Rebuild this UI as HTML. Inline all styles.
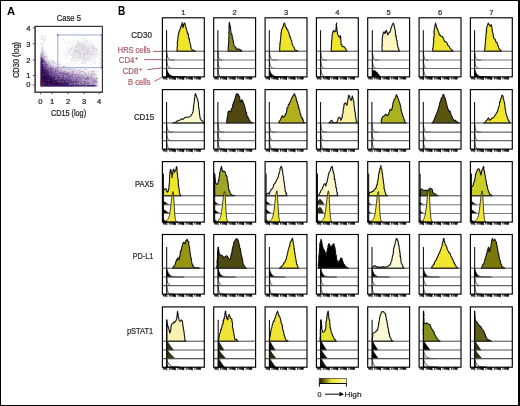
<!DOCTYPE html><html><head><meta charset="utf-8"><style>html,body{margin:0;padding:0;background:#fff;width:520px;height:406px;overflow:hidden;}svg{display:block;will-change:transform;font-family:"Liberation Sans",sans-serif;}</style></head><body><svg width="520" height="406" viewBox="0 0 520 406" font-family="Liberation Sans, sans-serif"><rect x="0" y="0" width="520" height="406" fill="#fff"/>
<text x="7" y="15.3" font-size="11.2" fill="#000" font-weight="bold" text-anchor="start" textLength="8.1" lengthAdjust="spacingAndGlyphs">A</text>
<text x="118.1" y="15.4" font-size="12.3" fill="#000" font-weight="bold" text-anchor="start" textLength="7.3" lengthAdjust="spacingAndGlyphs">B</text>
<text x="56.7" y="21" font-size="8.7" fill="#222" stroke="#222" stroke-width="0.22" font-weight="normal" text-anchor="start" textLength="24.2" lengthAdjust="spacingAndGlyphs">Case 5</text>
<rect x="35.1" y="26.4" width="67.3" height="65.8" fill="#fff" stroke="#333" stroke-width="1"/>
<defs><filter id="bl" x="-20%" y="-20%" width="140%" height="140%"><feGaussianBlur stdDeviation="1.3"/></filter><filter id="bl2" x="-20%" y="-20%" width="140%" height="140%"><feGaussianBlur stdDeviation="2.4"/></filter><clipPath id="sc"><rect x="40.4" y="30" width="58" height="56.6"/></clipPath></defs>
<g clip-path="url(#sc)">
<polygon points="40.7,44 43,52 46,58 51,62.5 58,66 68,69 82,71 97,72 99,87 40,87" fill="#dccfe2" filter="url(#bl2)"/>
<polygon points="40.7,52 43,58 46,62.5 51,66.5 58,70 68,73 82,75 96.5,76.5 97.5,87 40,87" fill="#8a6aa8" filter="url(#bl)"/>
<polygon points="40.7,52 42,58 44,63 46,67.5 50,71.5 56,75.5 64,78.5 74,81 86,83 95,85 95,87 40,87" fill="#4e2a78" filter="url(#bl)"/>
<polygon points="40.7,56 41.8,62 43.5,68 45.5,73 49,77 55,80.5 62,83 72,85 78,86 40,87" fill="#2e0a4e" filter="url(#bl)"/>
<defs><linearGradient id="fade" x1="0" x2="1" y1="0" y2="0"><stop offset="0" stop-color="#fff" stop-opacity="0"/><stop offset="0.45" stop-color="#fff" stop-opacity="0"/><stop offset="1" stop-color="#fff" stop-opacity="0.5"/></linearGradient></defs>
<rect x="41" y="60" width="58" height="25" fill="url(#fade)"/>
<rect x="41" y="85.2" width="55" height="1.3" fill="#3c1c66" opacity="0.85"/>
<rect x="40.6" y="80" width="2.6" height="6.4" fill="#701640" filter="url(#bl)" opacity="0.9"/>
<rect x="44.25" y="65.8" width="0.8" height="0.8" fill="#fff" opacity="0.4"/>
<rect x="64.77" y="78.9" width="0.8" height="0.8" fill="#fff" opacity="0.33"/>
<rect x="76.14" y="83.86" width="0.8" height="0.8" fill="#2a0a50" opacity="0.46"/>
<rect x="58.27" y="78.46" width="0.8" height="0.8" fill="#fff" opacity="0.45"/>
<rect x="44.34" y="53.44" width="0.8" height="0.8" fill="#2a0a50" opacity="0.24"/>
<rect x="58.59" y="69.01" width="0.8" height="0.8" fill="#2a0a50" opacity="0.21"/>
<rect x="85.49" y="73.66" width="0.8" height="0.8" fill="#2a0a50" opacity="0.26"/>
<rect x="70.41" y="80.88" width="0.8" height="0.8" fill="#2a0a50" opacity="0.42"/>
<rect x="64.41" y="76.04" width="0.8" height="0.8" fill="#fff" opacity="0.42"/>
<rect x="73.09" y="80.89" width="0.8" height="0.8" fill="#fff" opacity="0.49"/>
<rect x="74.28" y="68.78" width="0.8" height="0.8" fill="#2a0a50" opacity="0.32"/>
<rect x="80.28" y="71.53" width="0.8" height="0.8" fill="#2a0a50" opacity="0.31"/>
<rect x="66.15" y="67.53" width="0.8" height="0.8" fill="#2a0a50" opacity="0.31"/>
<rect x="90.51" y="84.27" width="0.8" height="0.8" fill="#fff" opacity="0.31"/>
<rect x="68.16" y="69.15" width="0.8" height="0.8" fill="#2a0a50" opacity="0.15"/>
<rect x="72.72" y="84.08" width="0.8" height="0.8" fill="#2a0a50" opacity="0.51"/>
<rect x="75.59" y="72.72" width="0.8" height="0.8" fill="#fff" opacity="0.56"/>
<rect x="84.68" y="80.86" width="0.8" height="0.8" fill="#2a0a50" opacity="0.46"/>
<rect x="44.77" y="53.56" width="0.8" height="0.8" fill="#fff" opacity="0.37"/>
<rect x="89.96" y="70.18" width="0.8" height="0.8" fill="#fff" opacity="0.34"/>
<rect x="47.88" y="79.81" width="0.8" height="0.8" fill="#fff" opacity="0.42"/>
<rect x="49.21" y="67.27" width="0.8" height="0.8" fill="#fff" opacity="0.43"/>
<rect x="95.8" y="80.4" width="0.8" height="0.8" fill="#2a0a50" opacity="0.4"/>
<rect x="53.49" y="78.27" width="0.8" height="0.8" fill="#2a0a50" opacity="0.64"/>
<rect x="86.14" y="78.55" width="0.8" height="0.8" fill="#2a0a50" opacity="0.39"/>
<rect x="79.78" y="84.22" width="0.8" height="0.8" fill="#fff" opacity="0.58"/>
<rect x="96.33" y="84.16" width="0.8" height="0.8" fill="#fff" opacity="0.33"/>
<rect x="52.44" y="70.59" width="0.8" height="0.8" fill="#2a0a50" opacity="0.64"/>
<rect x="67.85" y="71.77" width="0.8" height="0.8" fill="#2a0a50" opacity="0.17"/>
<rect x="77.99" y="82.3" width="0.8" height="0.8" fill="#2a0a50" opacity="0.6"/>
<rect x="85.85" y="84.84" width="0.8" height="0.8" fill="#fff" opacity="0.39"/>
<rect x="94.02" y="74.72" width="0.8" height="0.8" fill="#fff" opacity="0.29"/>
<rect x="49.19" y="78.89" width="0.8" height="0.8" fill="#2a0a50" opacity="0.44"/>
<rect x="70.49" y="83.28" width="0.8" height="0.8" fill="#fff" opacity="0.56"/>
<rect x="54.47" y="69.04" width="0.8" height="0.8" fill="#fff" opacity="0.4"/>
<rect x="66.66" y="68.92" width="0.8" height="0.8" fill="#2a0a50" opacity="0.23"/>
<rect x="42.05" y="63.05" width="0.8" height="0.8" fill="#fff" opacity="0.25"/>
<rect x="67.52" y="74.73" width="0.8" height="0.8" fill="#2a0a50" opacity="0.43"/>
<rect x="70.03" y="67.77" width="0.8" height="0.8" fill="#2a0a50" opacity="0.17"/>
<rect x="56.51" y="76.66" width="0.8" height="0.8" fill="#fff" opacity="0.45"/>
<rect x="83.56" y="82.41" width="0.8" height="0.8" fill="#fff" opacity="0.46"/>
<rect x="93.72" y="73.67" width="0.8" height="0.8" fill="#2a0a50" opacity="0.34"/>
<rect x="55.54" y="67.94" width="0.8" height="0.8" fill="#2a0a50" opacity="0.64"/>
<rect x="78.49" y="77.14" width="0.8" height="0.8" fill="#2a0a50" opacity="0.36"/>
<rect x="81.1" y="72.07" width="0.8" height="0.8" fill="#fff" opacity="0.56"/>
<rect x="50.04" y="62.69" width="0.8" height="0.8" fill="#2a0a50" opacity="0.22"/>
<rect x="42.01" y="58.59" width="0.8" height="0.8" fill="#2a0a50" opacity="0.5"/>
<rect x="48.26" y="62.31" width="0.8" height="0.8" fill="#2a0a50" opacity="0.63"/>
<rect x="59.99" y="67.68" width="0.8" height="0.8" fill="#2a0a50" opacity="0.2"/>
<rect x="48.24" y="66.6" width="0.8" height="0.8" fill="#fff" opacity="0.29"/>
<rect x="58.08" y="76.14" width="0.8" height="0.8" fill="#fff" opacity="0.43"/>
<rect x="50.96" y="59.23" width="0.8" height="0.8" fill="#fff" opacity="0.34"/>
<rect x="51.61" y="64.47" width="0.8" height="0.8" fill="#2a0a50" opacity="0.17"/>
<rect x="68.72" y="79.22" width="0.8" height="0.8" fill="#fff" opacity="0.43"/>
<rect x="79.51" y="85.28" width="0.8" height="0.8" fill="#fff" opacity="0.54"/>
<rect x="80.58" y="71.08" width="0.8" height="0.8" fill="#2a0a50" opacity="0.22"/>
<rect x="88.11" y="80.69" width="0.8" height="0.8" fill="#2a0a50" opacity="0.41"/>
<rect x="94.86" y="84.88" width="0.8" height="0.8" fill="#fff" opacity="0.34"/>
<rect x="42.26" y="57.47" width="0.8" height="0.8" fill="#fff" opacity="0.45"/>
<rect x="70.63" y="75.77" width="0.8" height="0.8" fill="#2a0a50" opacity="0.59"/>
<rect x="81.55" y="71.37" width="0.8" height="0.8" fill="#fff" opacity="0.54"/>
<rect x="90.95" y="70.72" width="0.8" height="0.8" fill="#2a0a50" opacity="0.31"/>
<rect x="48.8" y="66.47" width="0.8" height="0.8" fill="#fff" opacity="0.54"/>
<rect x="86.06" y="78.88" width="0.8" height="0.8" fill="#2a0a50" opacity="0.66"/>
<rect x="79.24" y="73.43" width="0.8" height="0.8" fill="#2a0a50" opacity="0.16"/>
<rect x="48.45" y="59.79" width="0.8" height="0.8" fill="#fff" opacity="0.54"/>
<rect x="72.28" y="70.74" width="0.8" height="0.8" fill="#2a0a50" opacity="0.29"/>
<rect x="85.67" y="75.68" width="0.8" height="0.8" fill="#fff" opacity="0.44"/>
<rect x="45.17" y="55.89" width="0.8" height="0.8" fill="#2a0a50" opacity="0.19"/>
<rect x="82.43" y="85.01" width="0.8" height="0.8" fill="#fff" opacity="0.38"/>
<rect x="67.82" y="73.03" width="0.8" height="0.8" fill="#2a0a50" opacity="0.55"/>
<rect x="44.4" y="56.02" width="0.8" height="0.8" fill="#2a0a50" opacity="0.29"/>
<rect x="95.78" y="83.39" width="0.8" height="0.8" fill="#fff" opacity="0.41"/>
<rect x="86.91" y="84.69" width="0.8" height="0.8" fill="#fff" opacity="0.34"/>
<rect x="70.35" y="84.06" width="0.8" height="0.8" fill="#fff" opacity="0.54"/>
<rect x="69.49" y="81.36" width="0.8" height="0.8" fill="#2a0a50" opacity="0.39"/>
<rect x="83.04" y="79.4" width="0.8" height="0.8" fill="#fff" opacity="0.57"/>
<rect x="80.93" y="81.96" width="0.8" height="0.8" fill="#fff" opacity="0.38"/>
<rect x="55.88" y="65.95" width="0.8" height="0.8" fill="#fff" opacity="0.38"/>
<rect x="94.55" y="81.25" width="0.8" height="0.8" fill="#2a0a50" opacity="0.55"/>
<rect x="92.15" y="83.57" width="0.8" height="0.8" fill="#fff" opacity="0.5"/>
<rect x="83.15" y="71.42" width="0.8" height="0.8" fill="#2a0a50" opacity="0.16"/>
<rect x="57.68" y="75.3" width="0.8" height="0.8" fill="#2a0a50" opacity="0.4"/>
<rect x="53.32" y="82.16" width="0.8" height="0.8" fill="#fff" opacity="0.3"/>
<rect x="72.9" y="81.38" width="0.8" height="0.8" fill="#2a0a50" opacity="0.47"/>
<rect x="64.18" y="66.49" width="0.8" height="0.8" fill="#2a0a50" opacity="0.22"/>
<rect x="44.48" y="56.38" width="0.8" height="0.8" fill="#2a0a50" opacity="0.18"/>
<rect x="69.19" y="70.81" width="0.8" height="0.8" fill="#2a0a50" opacity="0.19"/>
<rect x="94.42" y="79.8" width="0.8" height="0.8" fill="#2a0a50" opacity="0.31"/>
<rect x="42.81" y="74.09" width="0.8" height="0.8" fill="#fff" opacity="0.46"/>
<rect x="41.01" y="61.05" width="0.8" height="0.8" fill="#2a0a50" opacity="0.63"/>
<rect x="88.91" y="84.86" width="0.8" height="0.8" fill="#fff" opacity="0.29"/>
<rect x="49.65" y="66.42" width="0.8" height="0.8" fill="#2a0a50" opacity="0.68"/>
<rect x="81.42" y="71.54" width="0.8" height="0.8" fill="#2a0a50" opacity="0.24"/>
<rect x="92.52" y="71.47" width="0.8" height="0.8" fill="#2a0a50" opacity="0.18"/>
<rect x="55.1" y="71.09" width="0.8" height="0.8" fill="#2a0a50" opacity="0.34"/>
<rect x="44.94" y="66.5" width="0.8" height="0.8" fill="#2a0a50" opacity="0.46"/>
<rect x="53.52" y="69.64" width="0.8" height="0.8" fill="#fff" opacity="0.36"/>
<rect x="94.79" y="73.89" width="0.8" height="0.8" fill="#2a0a50" opacity="0.15"/>
<rect x="68.91" y="72.65" width="0.8" height="0.8" fill="#2a0a50" opacity="0.2"/>
<rect x="78.37" y="82.93" width="0.8" height="0.8" fill="#fff" opacity="0.26"/>
<rect x="85.64" y="75.3" width="0.8" height="0.8" fill="#fff" opacity="0.32"/>
<rect x="53.4" y="76.18" width="0.8" height="0.8" fill="#fff" opacity="0.58"/>
<rect x="53.51" y="62.1" width="0.8" height="0.8" fill="#2a0a50" opacity="0.34"/>
<rect x="49.2" y="61.13" width="0.8" height="0.8" fill="#2a0a50" opacity="0.34"/>
<rect x="44.37" y="61.13" width="0.8" height="0.8" fill="#2a0a50" opacity="0.65"/>
<rect x="82.03" y="85.9" width="0.8" height="0.8" fill="#fff" opacity="0.31"/>
<rect x="93.41" y="75.6" width="0.8" height="0.8" fill="#fff" opacity="0.48"/>
<rect x="41.16" y="56.47" width="0.8" height="0.8" fill="#fff" opacity="0.58"/>
<rect x="60.97" y="78.68" width="0.8" height="0.8" fill="#2a0a50" opacity="0.47"/>
<rect x="43.76" y="64.41" width="0.8" height="0.8" fill="#fff" opacity="0.57"/>
<rect x="51.81" y="59.93" width="0.8" height="0.8" fill="#2a0a50" opacity="0.16"/>
<rect x="64" y="78.28" width="0.8" height="0.8" fill="#2a0a50" opacity="0.32"/>
<rect x="82.85" y="81.84" width="0.8" height="0.8" fill="#fff" opacity="0.35"/>
<rect x="94.63" y="70.3" width="0.8" height="0.8" fill="#2a0a50" opacity="0.29"/>
<rect x="41.21" y="75.98" width="0.8" height="0.8" fill="#2a0a50" opacity="0.68"/>
<rect x="42.36" y="54.59" width="0.8" height="0.8" fill="#2a0a50" opacity="0.34"/>
<rect x="55.06" y="62.63" width="0.8" height="0.8" fill="#2a0a50" opacity="0.34"/>
<rect x="87.07" y="76.69" width="0.8" height="0.8" fill="#2a0a50" opacity="0.43"/>
<rect x="52.05" y="75.87" width="0.8" height="0.8" fill="#fff" opacity="0.27"/>
<rect x="95.89" y="81.22" width="0.8" height="0.8" fill="#2a0a50" opacity="0.41"/>
<rect x="68.91" y="74.1" width="0.8" height="0.8" fill="#fff" opacity="0.33"/>
<rect x="64.34" y="70.43" width="0.8" height="0.8" fill="#2a0a50" opacity="0.3"/>
<rect x="88.43" y="72.24" width="0.8" height="0.8" fill="#fff" opacity="0.54"/>
<rect x="57.45" y="68.24" width="0.8" height="0.8" fill="#2a0a50" opacity="0.3"/>
<rect x="53.96" y="78.15" width="0.8" height="0.8" fill="#2a0a50" opacity="0.7"/>
<rect x="46.73" y="64.47" width="0.8" height="0.8" fill="#2a0a50" opacity="0.64"/>
<rect x="55.56" y="76.89" width="0.8" height="0.8" fill="#2a0a50" opacity="0.34"/>
<rect x="74.38" y="70.42" width="0.8" height="0.8" fill="#2a0a50" opacity="0.22"/>
<rect x="55.28" y="69.58" width="0.8" height="0.8" fill="#2a0a50" opacity="0.38"/>
<rect x="41.64" y="58.42" width="0.8" height="0.8" fill="#2a0a50" opacity="0.37"/>
<rect x="63.14" y="67.56" width="0.8" height="0.8" fill="#2a0a50" opacity="0.17"/>
<rect x="50.17" y="73.51" width="0.8" height="0.8" fill="#fff" opacity="0.35"/>
<rect x="64.32" y="80.43" width="0.8" height="0.8" fill="#2a0a50" opacity="0.45"/>
<rect x="52.04" y="74.85" width="0.8" height="0.8" fill="#fff" opacity="0.25"/>
<rect x="71.89" y="71.27" width="0.8" height="0.8" fill="#2a0a50" opacity="0.17"/>
<rect x="56.86" y="66.37" width="0.8" height="0.8" fill="#2a0a50" opacity="0.17"/>
<rect x="68.47" y="78" width="0.8" height="0.8" fill="#2a0a50" opacity="0.38"/>
<rect x="48.09" y="83.67" width="0.8" height="0.8" fill="#fff" opacity="0.27"/>
<rect x="91.64" y="70.43" width="0.8" height="0.8" fill="#2a0a50" opacity="0.18"/>
<rect x="63.65" y="79.7" width="0.8" height="0.8" fill="#2a0a50" opacity="0.37"/>
<rect x="53.22" y="61.39" width="0.8" height="0.8" fill="#2a0a50" opacity="0.23"/>
<rect x="81.59" y="81.79" width="0.8" height="0.8" fill="#fff" opacity="0.45"/>
<rect x="64.52" y="68.89" width="0.8" height="0.8" fill="#2a0a50" opacity="0.28"/>
<rect x="54.17" y="76.31" width="0.8" height="0.8" fill="#2a0a50" opacity="0.48"/>
<rect x="51.06" y="64.4" width="0.8" height="0.8" fill="#fff" opacity="0.29"/>
<rect x="82.07" y="76.88" width="0.8" height="0.8" fill="#fff" opacity="0.27"/>
<rect x="94.57" y="82.56" width="0.8" height="0.8" fill="#fff" opacity="0.53"/>
<rect x="60.65" y="76" width="0.8" height="0.8" fill="#fff" opacity="0.56"/>
<rect x="56.4" y="78.44" width="0.8" height="0.8" fill="#fff" opacity="0.43"/>
<rect x="55.72" y="65.75" width="0.8" height="0.8" fill="#2a0a50" opacity="0.16"/>
<rect x="93.44" y="72.87" width="0.8" height="0.8" fill="#2a0a50" opacity="0.18"/>
<rect x="70.72" y="71.09" width="0.8" height="0.8" fill="#2a0a50" opacity="0.32"/>
<rect x="72.09" y="68.78" width="0.8" height="0.8" fill="#2a0a50" opacity="0.17"/>
<rect x="96.61" y="70.82" width="0.8" height="0.8" fill="#2a0a50" opacity="0.31"/>
<rect x="61.17" y="76.35" width="0.8" height="0.8" fill="#fff" opacity="0.31"/>
<rect x="49.36" y="70.26" width="0.8" height="0.8" fill="#fff" opacity="0.43"/>
<rect x="53.73" y="71.78" width="0.8" height="0.8" fill="#fff" opacity="0.25"/>
<rect x="73.68" y="69.15" width="0.8" height="0.8" fill="#2a0a50" opacity="0.27"/>
<rect x="76.74" y="80.72" width="0.8" height="0.8" fill="#2a0a50" opacity="0.46"/>
<rect x="60.62" y="71.47" width="0.8" height="0.8" fill="#fff" opacity="0.58"/>
<rect x="71.85" y="83.58" width="0.8" height="0.8" fill="#fff" opacity="0.32"/>
<rect x="76.93" y="78.35" width="0.8" height="0.8" fill="#fff" opacity="0.36"/>
<rect x="90.8" y="77.1" width="0.8" height="0.8" fill="#2a0a50" opacity="0.3"/>
<rect x="88.29" y="75.55" width="0.8" height="0.8" fill="#fff" opacity="0.51"/>
<rect x="43.17" y="58.76" width="0.8" height="0.8" fill="#2a0a50" opacity="0.58"/>
<rect x="88.34" y="74.18" width="0.8" height="0.8" fill="#2a0a50" opacity="0.26"/>
<rect x="65.42" y="77.33" width="0.8" height="0.8" fill="#fff" opacity="0.34"/>
<rect x="76.95" y="84.57" width="0.8" height="0.8" fill="#fff" opacity="0.56"/>
<rect x="41.85" y="55.68" width="0.8" height="0.8" fill="#fff" opacity="0.51"/>
<rect x="93.9" y="75.59" width="0.8" height="0.8" fill="#fff" opacity="0.56"/>
<rect x="91.82" y="70.86" width="0.8" height="0.8" fill="#2a0a50" opacity="0.28"/>
<rect x="88.02" y="73.6" width="0.8" height="0.8" fill="#2a0a50" opacity="0.24"/>
<rect x="42.51" y="49.37" width="0.8" height="0.8" fill="#2a0a50" opacity="0.22"/>
<rect x="80.03" y="75.21" width="0.8" height="0.8" fill="#fff" opacity="0.46"/>
<rect x="61.35" y="78.52" width="0.8" height="0.8" fill="#2a0a50" opacity="0.66"/>
<rect x="44.69" y="80.58" width="0.8" height="0.8" fill="#2a0a50" opacity="0.34"/>
<rect x="76.51" y="78.83" width="0.8" height="0.8" fill="#2a0a50" opacity="0.41"/>
<rect x="42.17" y="55.52" width="0.8" height="0.8" fill="#fff" opacity="0.5"/>
<rect x="88.68" y="70.35" width="0.8" height="0.8" fill="#fff" opacity="0.39"/>
<rect x="65.44" y="76.69" width="0.8" height="0.8" fill="#fff" opacity="0.5"/>
<rect x="41.07" y="53.28" width="0.8" height="0.8" fill="#2a0a50" opacity="0.69"/>
<rect x="53.02" y="73.68" width="0.8" height="0.8" fill="#fff" opacity="0.29"/>
<rect x="85.12" y="73.58" width="0.8" height="0.8" fill="#2a0a50" opacity="0.28"/>
<rect x="63.1" y="81.51" width="0.8" height="0.8" fill="#fff" opacity="0.56"/>
<rect x="42.41" y="53.45" width="0.8" height="0.8" fill="#2a0a50" opacity="0.33"/>
<rect x="66.81" y="66.79" width="0.8" height="0.8" fill="#2a0a50" opacity="0.3"/>
<rect x="88.21" y="72.15" width="0.8" height="0.8" fill="#2a0a50" opacity="0.18"/>
<rect x="65.57" y="76.71" width="0.8" height="0.8" fill="#2a0a50" opacity="0.35"/>
<rect x="66.87" y="81.29" width="0.8" height="0.8" fill="#fff" opacity="0.32"/>
<rect x="57.88" y="73.83" width="0.8" height="0.8" fill="#2a0a50" opacity="0.36"/>
<rect x="59.29" y="66.41" width="0.8" height="0.8" fill="#fff" opacity="0.36"/>
<rect x="51.99" y="71.16" width="0.8" height="0.8" fill="#fff" opacity="0.32"/>
<rect x="63.35" y="77.43" width="0.8" height="0.8" fill="#2a0a50" opacity="0.5"/>
<rect x="48.94" y="69.75" width="0.8" height="0.8" fill="#fff" opacity="0.51"/>
<rect x="73.14" y="75.71" width="0.8" height="0.8" fill="#fff" opacity="0.33"/>
<rect x="81.44" y="81.08" width="0.8" height="0.8" fill="#2a0a50" opacity="0.58"/>
<rect x="88.74" y="72.86" width="0.8" height="0.8" fill="#2a0a50" opacity="0.24"/>
<rect x="58.53" y="70.76" width="0.8" height="0.8" fill="#fff" opacity="0.4"/>
<rect x="84.81" y="74.24" width="0.8" height="0.8" fill="#2a0a50" opacity="0.2"/>
<rect x="78.81" y="83.14" width="0.8" height="0.8" fill="#fff" opacity="0.48"/>
<rect x="84.78" y="83.56" width="0.8" height="0.8" fill="#fff" opacity="0.29"/>
<rect x="76.8" y="78.99" width="0.8" height="0.8" fill="#fff" opacity="0.39"/>
<rect x="44.17" y="56.25" width="0.8" height="0.8" fill="#2a0a50" opacity="0.15"/>
<rect x="82.52" y="83.54" width="0.8" height="0.8" fill="#fff" opacity="0.33"/>
<rect x="84.49" y="78.19" width="0.8" height="0.8" fill="#2a0a50" opacity="0.49"/>
<rect x="76.77" y="78.57" width="0.8" height="0.8" fill="#2a0a50" opacity="0.49"/>
<rect x="57.48" y="67.48" width="0.8" height="0.8" fill="#fff" opacity="0.54"/>
<rect x="60.87" y="79.88" width="0.8" height="0.8" fill="#fff" opacity="0.38"/>
<rect x="55.2" y="62.47" width="0.8" height="0.8" fill="#fff" opacity="0.25"/>
<rect x="76.69" y="72.03" width="0.8" height="0.8" fill="#2a0a50" opacity="0.34"/>
<rect x="87.36" y="82.14" width="0.8" height="0.8" fill="#2a0a50" opacity="0.36"/>
<rect x="87.55" y="70.96" width="0.8" height="0.8" fill="#fff" opacity="0.25"/>
<rect x="94.3" y="71.89" width="0.8" height="0.8" fill="#2a0a50" opacity="0.17"/>
<rect x="84.75" y="72.41" width="0.8" height="0.8" fill="#2a0a50" opacity="0.31"/>
<rect x="48.8" y="65.22" width="0.8" height="0.8" fill="#fff" opacity="0.41"/>
<rect x="49.09" y="65.15" width="0.8" height="0.8" fill="#fff" opacity="0.44"/>
<rect x="72.5" y="72.28" width="0.8" height="0.8" fill="#2a0a50" opacity="0.22"/>
<rect x="76.67" y="71.08" width="0.8" height="0.8" fill="#fff" opacity="0.46"/>
<rect x="79.22" y="83.19" width="0.8" height="0.8" fill="#fff" opacity="0.59"/>
<rect x="81.22" y="70.64" width="0.8" height="0.8" fill="#2a0a50" opacity="0.32"/>
<rect x="70.43" y="76.59" width="0.8" height="0.8" fill="#fff" opacity="0.4"/>
<rect x="64.65" y="67.72" width="0.8" height="0.8" fill="#2a0a50" opacity="0.21"/>
<rect x="73.84" y="71.03" width="0.8" height="0.8" fill="#2a0a50" opacity="0.16"/>
<rect x="81.47" y="81.31" width="0.8" height="0.8" fill="#fff" opacity="0.27"/>
<rect x="77.85" y="77.35" width="0.8" height="0.8" fill="#2a0a50" opacity="0.54"/>
<rect x="75.54" y="70.7" width="0.8" height="0.8" fill="#2a0a50" opacity="0.27"/>
<rect x="84.37" y="82.48" width="0.8" height="0.8" fill="#2a0a50" opacity="0.45"/>
<rect x="87.07" y="77.25" width="0.8" height="0.8" fill="#2a0a50" opacity="0.4"/>
<rect x="76.94" y="83.29" width="0.8" height="0.8" fill="#fff" opacity="0.45"/>
<rect x="41.79" y="60.87" width="0.8" height="0.8" fill="#2a0a50" opacity="0.68"/>
<rect x="88.91" y="74.92" width="0.8" height="0.8" fill="#fff" opacity="0.47"/>
<rect x="95" y="74.41" width="0.8" height="0.8" fill="#fff" opacity="0.26"/>
<rect x="77.44" y="78.51" width="0.8" height="0.8" fill="#fff" opacity="0.36"/>
<rect x="44.35" y="60.07" width="0.8" height="0.8" fill="#2a0a50" opacity="0.48"/>
<rect x="77.11" y="70.82" width="0.8" height="0.8" fill="#2a0a50" opacity="0.23"/>
<rect x="85.03" y="83.74" width="0.8" height="0.8" fill="#2a0a50" opacity="0.53"/>
<rect x="95.54" y="73.83" width="0.8" height="0.8" fill="#2a0a50" opacity="0.22"/>
<rect x="74.93" y="85.08" width="0.8" height="0.8" fill="#2a0a50" opacity="0.54"/>
<rect x="79.35" y="69.67" width="0.8" height="0.8" fill="#2a0a50" opacity="0.31"/>
<rect x="55.73" y="62.32" width="0.8" height="0.8" fill="#2a0a50" opacity="0.31"/>
<rect x="87.66" y="78.28" width="0.8" height="0.8" fill="#2a0a50" opacity="0.53"/>
<rect x="56.34" y="79.9" width="0.8" height="0.8" fill="#2a0a50" opacity="0.57"/>
<rect x="45.76" y="67.7" width="0.8" height="0.8" fill="#2a0a50" opacity="0.38"/>
<rect x="83.01" y="83.2" width="0.8" height="0.8" fill="#fff" opacity="0.46"/>
<rect x="83.06" y="77.46" width="0.8" height="0.8" fill="#fff" opacity="0.28"/>
<rect x="86.17" y="76.66" width="0.8" height="0.8" fill="#fff" opacity="0.45"/>
<rect x="91.23" y="81.29" width="0.8" height="0.8" fill="#fff" opacity="0.42"/>
<rect x="46.94" y="70.94" width="0.8" height="0.8" fill="#2a0a50" opacity="0.36"/>
<rect x="42.88" y="85.61" width="0.8" height="0.8" fill="#fff" opacity="0.45"/>
<rect x="55.65" y="76.95" width="0.8" height="0.8" fill="#fff" opacity="0.58"/>
<rect x="83.97" y="78.57" width="0.8" height="0.8" fill="#2a0a50" opacity="0.4"/>
<rect x="43.12" y="53.24" width="0.8" height="0.8" fill="#fff" opacity="0.28"/>
<rect x="43.86" y="67.85" width="0.8" height="0.8" fill="#fff" opacity="0.58"/>
<rect x="72.61" y="71.27" width="0.8" height="0.8" fill="#2a0a50" opacity="0.28"/>
<rect x="49.94" y="84.6" width="0.8" height="0.8" fill="#fff" opacity="0.26"/>
<rect x="91.55" y="82.09" width="0.8" height="0.8" fill="#2a0a50" opacity="0.32"/>
<rect x="85.04" y="74.09" width="0.8" height="0.8" fill="#2a0a50" opacity="0.35"/>
<rect x="83.28" y="83.51" width="0.8" height="0.8" fill="#2a0a50" opacity="0.42"/>
<rect x="74.12" y="76.07" width="0.8" height="0.8" fill="#fff" opacity="0.36"/>
<rect x="93.3" y="80.54" width="0.8" height="0.8" fill="#2a0a50" opacity="0.36"/>
<rect x="93.01" y="79.53" width="0.8" height="0.8" fill="#2a0a50" opacity="0.48"/>
<rect x="60.03" y="78.75" width="0.8" height="0.8" fill="#fff" opacity="0.47"/>
<rect x="56.18" y="79.42" width="0.8" height="0.8" fill="#fff" opacity="0.31"/>
<rect x="91.12" y="72.4" width="0.8" height="0.8" fill="#2a0a50" opacity="0.25"/>
<rect x="52.29" y="59.94" width="0.8" height="0.8" fill="#2a0a50" opacity="0.35"/>
<rect x="51.41" y="62.85" width="0.8" height="0.8" fill="#2a0a50" opacity="0.19"/>
<rect x="51.09" y="76.59" width="0.8" height="0.8" fill="#2a0a50" opacity="0.38"/>
<rect x="75.3" y="74.02" width="0.8" height="0.8" fill="#2a0a50" opacity="0.53"/>
<rect x="88.15" y="80.44" width="0.8" height="0.8" fill="#fff" opacity="0.26"/>
<rect x="50.16" y="60.22" width="0.8" height="0.8" fill="#2a0a50" opacity="0.15"/>
<rect x="81.02" y="78.48" width="0.8" height="0.8" fill="#2a0a50" opacity="0.43"/>
<rect x="89.88" y="84.12" width="0.8" height="0.8" fill="#fff" opacity="0.43"/>
<rect x="55.03" y="78.5" width="0.8" height="0.8" fill="#fff" opacity="0.28"/>
<rect x="70.28" y="73.81" width="0.8" height="0.8" fill="#fff" opacity="0.55"/>
<rect x="47.89" y="65.24" width="0.8" height="0.8" fill="#fff" opacity="0.35"/>
<rect x="47.83" y="61.63" width="0.8" height="0.8" fill="#fff" opacity="0.46"/>
<rect x="73.08" y="75.61" width="0.8" height="0.8" fill="#fff" opacity="0.54"/>
<rect x="64.55" y="79.43" width="0.8" height="0.8" fill="#fff" opacity="0.39"/>
<rect x="93.71" y="76.85" width="0.8" height="0.8" fill="#fff" opacity="0.33"/>
<rect x="95.95" y="77.98" width="0.8" height="0.8" fill="#2a0a50" opacity="0.63"/>
<rect x="69.97" y="84.27" width="0.8" height="0.8" fill="#2a0a50" opacity="0.4"/>
<rect x="64.64" y="70.94" width="0.8" height="0.8" fill="#2a0a50" opacity="0.26"/>
<rect x="44.88" y="62.75" width="0.8" height="0.8" fill="#fff" opacity="0.26"/>
<rect x="93.47" y="70.96" width="0.8" height="0.8" fill="#2a0a50" opacity="0.33"/>
<rect x="71.37" y="82.9" width="0.8" height="0.8" fill="#2a0a50" opacity="0.4"/>
<rect x="58.1" y="71.55" width="0.8" height="0.8" fill="#fff" opacity="0.46"/>
<rect x="56.03" y="64.12" width="0.8" height="0.8" fill="#2a0a50" opacity="0.18"/>
<rect x="45.92" y="67.4" width="0.8" height="0.8" fill="#2a0a50" opacity="0.54"/>
<rect x="72.93" y="71.66" width="0.8" height="0.8" fill="#2a0a50" opacity="0.29"/>
<rect x="66.81" y="67.47" width="0.8" height="0.8" fill="#2a0a50" opacity="0.24"/>
<rect x="53.41" y="66.01" width="0.8" height="0.8" fill="#2a0a50" opacity="0.27"/>
<rect x="41.67" y="59.46" width="0.8" height="0.8" fill="#2a0a50" opacity="0.4"/>
<rect x="44.47" y="60.9" width="0.8" height="0.8" fill="#fff" opacity="0.51"/>
<rect x="94.72" y="75.28" width="0.8" height="0.8" fill="#fff" opacity="0.37"/>
<rect x="60.74" y="72.69" width="0.8" height="0.8" fill="#2a0a50" opacity="0.64"/>
<rect x="82.37" y="75.47" width="0.8" height="0.8" fill="#2a0a50" opacity="0.49"/>
<rect x="84.96" y="74.05" width="0.8" height="0.8" fill="#2a0a50" opacity="0.18"/>
<rect x="83.88" y="69.02" width="0.8" height="0.8" fill="#2a0a50" opacity="0.34"/>
<rect x="84.89" y="80.78" width="0.8" height="0.8" fill="#2a0a50" opacity="0.45"/>
<rect x="62.88" y="67.77" width="0.8" height="0.8" fill="#2a0a50" opacity="0.21"/>
<rect x="85.08" y="79.83" width="0.8" height="0.8" fill="#fff" opacity="0.41"/>
<rect x="49.12" y="68.59" width="0.8" height="0.8" fill="#2a0a50" opacity="0.34"/>
<rect x="88.23" y="79.36" width="0.8" height="0.8" fill="#2a0a50" opacity="0.38"/>
<rect x="64.88" y="82.33" width="0.8" height="0.8" fill="#fff" opacity="0.27"/>
<rect x="92.54" y="76.71" width="0.8" height="0.8" fill="#fff" opacity="0.6"/>
<rect x="61.03" y="69.38" width="0.8" height="0.8" fill="#2a0a50" opacity="0.34"/>
<rect x="46.54" y="60.35" width="0.8" height="0.8" fill="#fff" opacity="0.45"/>
<rect x="73.15" y="81.07" width="0.8" height="0.8" fill="#2a0a50" opacity="0.49"/>
<rect x="65.65" y="70.61" width="0.8" height="0.8" fill="#2a0a50" opacity="0.22"/>
<rect x="70.69" y="78.45" width="0.8" height="0.8" fill="#fff" opacity="0.36"/>
<rect x="95.79" y="78.87" width="0.8" height="0.8" fill="#fff" opacity="0.29"/>
<rect x="91.09" y="73.29" width="0.8" height="0.8" fill="#2a0a50" opacity="0.35"/>
<rect x="76.29" y="69.73" width="0.8" height="0.8" fill="#2a0a50" opacity="0.35"/>
<rect x="64.04" y="77.29" width="0.8" height="0.8" fill="#fff" opacity="0.49"/>
<rect x="41.22" y="57.48" width="0.8" height="0.8" fill="#2a0a50" opacity="0.53"/>
<rect x="68.88" y="67.68" width="0.8" height="0.8" fill="#2a0a50" opacity="0.28"/>
<rect x="70.26" y="78.75" width="0.8" height="0.8" fill="#2a0a50" opacity="0.62"/>
<rect x="43.46" y="83.16" width="0.8" height="0.8" fill="#fff" opacity="0.56"/>
<rect x="74.74" y="84.36" width="0.8" height="0.8" fill="#fff" opacity="0.58"/>
<rect x="58.31" y="80.89" width="0.8" height="0.8" fill="#fff" opacity="0.53"/>
<rect x="49.73" y="73.94" width="0.8" height="0.8" fill="#fff" opacity="0.34"/>
<rect x="65.83" y="79.29" width="0.8" height="0.8" fill="#2a0a50" opacity="0.36"/>
<rect x="60.76" y="74.62" width="0.8" height="0.8" fill="#fff" opacity="0.59"/>
<rect x="53.73" y="63.56" width="0.8" height="0.8" fill="#fff" opacity="0.5"/>
<rect x="69.73" y="67.25" width="0.8" height="0.8" fill="#2a0a50" opacity="0.3"/>
<rect x="62.55" y="71.96" width="0.8" height="0.8" fill="#2a0a50" opacity="0.42"/>
<rect x="44.69" y="57.76" width="0.8" height="0.8" fill="#2a0a50" opacity="0.18"/>
<rect x="63.59" y="82.27" width="0.8" height="0.8" fill="#2a0a50" opacity="0.65"/>
<rect x="79.06" y="72.21" width="0.8" height="0.8" fill="#2a0a50" opacity="0.23"/>
<rect x="77.91" y="73.67" width="0.8" height="0.8" fill="#2a0a50" opacity="0.32"/>
<rect x="60.72" y="70.78" width="0.8" height="0.8" fill="#fff" opacity="0.29"/>
<rect x="92.11" y="75.1" width="0.8" height="0.8" fill="#2a0a50" opacity="0.16"/>
<rect x="43.24" y="51.64" width="0.8" height="0.8" fill="#fff" opacity="0.36"/>
<rect x="58.41" y="71.17" width="0.8" height="0.8" fill="#fff" opacity="0.54"/>
<rect x="72.93" y="74.38" width="0.8" height="0.8" fill="#fff" opacity="0.4"/>
<rect x="88.83" y="69.9" width="0.8" height="0.8" fill="#fff" opacity="0.34"/>
<rect x="92.21" y="75.73" width="0.8" height="0.8" fill="#fff" opacity="0.49"/>
<rect x="63.04" y="75.65" width="0.8" height="0.8" fill="#2a0a50" opacity="0.41"/>
<rect x="93.09" y="73.36" width="0.8" height="0.8" fill="#2a0a50" opacity="0.32"/>
<rect x="69.67" y="83.05" width="0.8" height="0.8" fill="#fff" opacity="0.52"/>
<rect x="55.63" y="67.4" width="0.8" height="0.8" fill="#2a0a50" opacity="0.28"/>
<rect x="44.33" y="59.67" width="0.8" height="0.8" fill="#fff" opacity="0.32"/>
<rect x="80.59" y="72.48" width="0.8" height="0.8" fill="#2a0a50" opacity="0.2"/>
<rect x="57.76" y="81.27" width="0.8" height="0.8" fill="#fff" opacity="0.45"/>
<rect x="59.68" y="78.43" width="0.8" height="0.8" fill="#fff" opacity="0.52"/>
<rect x="50.48" y="72.33" width="0.8" height="0.8" fill="#2a0a50" opacity="0.48"/>
<rect x="83.9" y="79.08" width="0.8" height="0.8" fill="#fff" opacity="0.35"/>
<rect x="44.38" y="56.52" width="0.8" height="0.8" fill="#fff" opacity="0.5"/>
<rect x="59.17" y="64.22" width="0.8" height="0.8" fill="#2a0a50" opacity="0.18"/>
<rect x="96.56" y="75.77" width="0.8" height="0.8" fill="#fff" opacity="0.5"/>
<rect x="47.09" y="65.04" width="0.8" height="0.8" fill="#fff" opacity="0.32"/>
<rect x="92.5" y="71.42" width="0.8" height="0.8" fill="#2a0a50" opacity="0.34"/>
<rect x="76.73" y="79.67" width="0.8" height="0.8" fill="#2a0a50" opacity="0.37"/>
<rect x="84.94" y="79.05" width="0.8" height="0.8" fill="#2a0a50" opacity="0.43"/>
<rect x="61.64" y="67.6" width="0.8" height="0.8" fill="#2a0a50" opacity="0.32"/>
<rect x="72.74" y="70.76" width="0.8" height="0.8" fill="#2a0a50" opacity="0.29"/>
<rect x="91.69" y="83.74" width="0.8" height="0.8" fill="#fff" opacity="0.42"/>
<rect x="43.24" y="63.02" width="0.8" height="0.8" fill="#fff" opacity="0.5"/>
<rect x="41.16" y="79.47" width="0.8" height="0.8" fill="#2a0a50" opacity="0.47"/>
<rect x="56.86" y="72.13" width="0.8" height="0.8" fill="#fff" opacity="0.4"/>
<rect x="78.3" y="78.87" width="0.8" height="0.8" fill="#2a0a50" opacity="0.37"/>
<rect x="57.56" y="63.17" width="0.8" height="0.8" fill="#2a0a50" opacity="0.22"/>
<rect x="59.13" y="63.88" width="0.8" height="0.8" fill="#2a0a50" opacity="0.33"/>
<rect x="89.46" y="84.95" width="0.8" height="0.8" fill="#2a0a50" opacity="0.55"/>
<rect x="78.88" y="69.98" width="0.8" height="0.8" fill="#2a0a50" opacity="0.26"/>
<rect x="60.23" y="81.29" width="0.8" height="0.8" fill="#fff" opacity="0.32"/>
<rect x="70.68" y="68.16" width="0.8" height="0.8" fill="#2a0a50" opacity="0.17"/>
<rect x="46.32" y="66.76" width="0.8" height="0.8" fill="#fff" opacity="0.42"/>
<rect x="69.74" y="69.13" width="0.8" height="0.8" fill="#fff" opacity="0.39"/>
<rect x="45.11" y="63.02" width="0.8" height="0.8" fill="#2a0a50" opacity="0.52"/>
<rect x="81.02" y="76.03" width="0.8" height="0.8" fill="#fff" opacity="0.6"/>
<rect x="57.8" y="74" width="0.8" height="0.8" fill="#fff" opacity="0.56"/>
<rect x="75.79" y="80.76" width="0.8" height="0.8" fill="#2a0a50" opacity="0.67"/>
<rect x="83.76" y="72.9" width="0.8" height="0.8" fill="#2a0a50" opacity="0.17"/>
<rect x="61.89" y="75.23" width="0.8" height="0.8" fill="#2a0a50" opacity="0.59"/>
<rect x="71.73" y="77.92" width="0.8" height="0.8" fill="#fff" opacity="0.57"/>
<rect x="51.82" y="63.32" width="0.8" height="0.8" fill="#2a0a50" opacity="0.27"/>
<rect x="79.61" y="78.14" width="0.8" height="0.8" fill="#2a0a50" opacity="0.31"/>
<rect x="69.1" y="80.8" width="0.8" height="0.8" fill="#2a0a50" opacity="0.31"/>
<rect x="89.89" y="70.04" width="0.8" height="0.8" fill="#fff" opacity="0.37"/>
<rect x="43.44" y="51.96" width="0.8" height="0.8" fill="#2a0a50" opacity="0.24"/>
<rect x="42.15" y="63.84" width="0.8" height="0.8" fill="#2a0a50" opacity="0.32"/>
<rect x="49.17" y="72.51" width="0.8" height="0.8" fill="#fff" opacity="0.35"/>
<rect x="94.59" y="85.68" width="0.8" height="0.8" fill="#fff" opacity="0.45"/>
<rect x="84.17" y="80.77" width="0.8" height="0.8" fill="#2a0a50" opacity="0.55"/>
<rect x="56.77" y="77.61" width="0.8" height="0.8" fill="#2a0a50" opacity="0.68"/>
<rect x="83.75" y="75.32" width="0.8" height="0.8" fill="#fff" opacity="0.47"/>
<rect x="60.62" y="67.58" width="0.8" height="0.8" fill="#2a0a50" opacity="0.16"/>
<rect x="65.95" y="68.32" width="0.8" height="0.8" fill="#2a0a50" opacity="0.18"/>
<rect x="44.71" y="57.36" width="0.8" height="0.8" fill="#2a0a50" opacity="0.3"/>
<rect x="71.87" y="83.43" width="0.8" height="0.8" fill="#fff" opacity="0.57"/>
<rect x="51.01" y="68.8" width="0.8" height="0.8" fill="#2a0a50" opacity="0.44"/>
<rect x="68.13" y="81.86" width="0.8" height="0.8" fill="#fff" opacity="0.34"/>
<rect x="42.29" y="51.75" width="0.8" height="0.8" fill="#2a0a50" opacity="0.29"/>
<rect x="53.23" y="61.38" width="0.8" height="0.8" fill="#2a0a50" opacity="0.27"/>
<rect x="89.39" y="71.57" width="0.8" height="0.8" fill="#fff" opacity="0.51"/>
<rect x="94.94" y="69.64" width="0.8" height="0.8" fill="#fff" opacity="0.53"/>
<rect x="71.07" y="80.89" width="0.8" height="0.8" fill="#2a0a50" opacity="0.67"/>
<rect x="82.96" y="71.61" width="0.8" height="0.8" fill="#2a0a50" opacity="0.29"/>
<rect x="68.68" y="69.51" width="0.8" height="0.8" fill="#2a0a50" opacity="0.24"/>
<rect x="75.38" y="74.69" width="0.8" height="0.8" fill="#fff" opacity="0.28"/>
<rect x="71.17" y="69.13" width="0.8" height="0.8" fill="#2a0a50" opacity="0.28"/>
<rect x="80.84" y="76.3" width="0.8" height="0.8" fill="#2a0a50" opacity="0.42"/>
<rect x="84.27" y="85.07" width="0.8" height="0.8" fill="#fff" opacity="0.35"/>
<rect x="70.31" y="83.58" width="0.8" height="0.8" fill="#fff" opacity="0.25"/>
<rect x="67.64" y="71.87" width="0.8" height="0.8" fill="#2a0a50" opacity="0.22"/>
<rect x="42.57" y="50.5" width="0.8" height="0.8" fill="#fff" opacity="0.43"/>
<rect x="82.31" y="82.78" width="0.8" height="0.8" fill="#fff" opacity="0.26"/>
<rect x="92.47" y="83.74" width="0.8" height="0.8" fill="#2a0a50" opacity="0.39"/>
<rect x="52.38" y="76.13" width="0.8" height="0.8" fill="#2a0a50" opacity="0.42"/>
<rect x="89.33" y="80.64" width="0.8" height="0.8" fill="#fff" opacity="0.51"/>
<rect x="59.57" y="64.91" width="0.8" height="0.8" fill="#2a0a50" opacity="0.18"/>
<rect x="79.24" y="69.5" width="0.8" height="0.8" fill="#2a0a50" opacity="0.27"/>
<rect x="84.67" y="80.4" width="0.8" height="0.8" fill="#fff" opacity="0.55"/>
<rect x="42.37" y="49.57" width="0.8" height="0.8" fill="#2a0a50" opacity="0.15"/>
<rect x="50.45" y="72.99" width="0.8" height="0.8" fill="#fff" opacity="0.37"/>
<rect x="92.44" y="74.37" width="0.8" height="0.8" fill="#2a0a50" opacity="0.35"/>
<rect x="42.84" y="54.62" width="0.8" height="0.8" fill="#2a0a50" opacity="0.29"/>
<rect x="43.12" y="65.7" width="0.8" height="0.8" fill="#fff" opacity="0.4"/>
<rect x="47.29" y="59.5" width="0.8" height="0.8" fill="#2a0a50" opacity="0.33"/>
<rect x="95.18" y="81.21" width="0.8" height="0.8" fill="#2a0a50" opacity="0.41"/>
<rect x="71.46" y="67.5" width="0.8" height="0.8" fill="#2a0a50" opacity="0.35"/>
<rect x="89.95" y="74.43" width="0.8" height="0.8" fill="#2a0a50" opacity="0.21"/>
<rect x="75.04" y="82.98" width="0.8" height="0.8" fill="#fff" opacity="0.46"/>
<rect x="88.21" y="77.14" width="0.8" height="0.8" fill="#2a0a50" opacity="0.32"/>
<rect x="82.79" y="79.99" width="0.8" height="0.8" fill="#fff" opacity="0.46"/>
<rect x="76.25" y="75.48" width="0.8" height="0.8" fill="#fff" opacity="0.5"/>
<rect x="63.04" y="66.58" width="0.8" height="0.8" fill="#2a0a50" opacity="0.29"/>
<rect x="59.04" y="70.78" width="0.8" height="0.8" fill="#fff" opacity="0.33"/>
<rect x="76.87" y="78.93" width="0.8" height="0.8" fill="#2a0a50" opacity="0.65"/>
<rect x="43.42" y="60.63" width="0.8" height="0.8" fill="#2a0a50" opacity="0.63"/>
<rect x="60.97" y="77.93" width="0.8" height="0.8" fill="#fff" opacity="0.41"/>
<rect x="45.93" y="61.22" width="0.8" height="0.8" fill="#2a0a50" opacity="0.58"/>
<rect x="85.7" y="76.11" width="0.8" height="0.8" fill="#fff" opacity="0.49"/>
<rect x="61.55" y="66.35" width="0.8" height="0.8" fill="#2a0a50" opacity="0.22"/>
<rect x="41.99" y="53.23" width="0.8" height="0.8" fill="#2a0a50" opacity="0.16"/>
<rect x="50.99" y="74.45" width="0.8" height="0.8" fill="#fff" opacity="0.36"/>
<rect x="54.54" y="79.2" width="0.8" height="0.8" fill="#fff" opacity="0.47"/>
<rect x="64.7" y="77.48" width="0.8" height="0.8" fill="#2a0a50" opacity="0.45"/>
<rect x="43.46" y="63.14" width="0.8" height="0.8" fill="#fff" opacity="0.5"/>
<rect x="77.3" y="78.24" width="0.8" height="0.8" fill="#fff" opacity="0.38"/>
<rect x="73.41" y="82.92" width="0.8" height="0.8" fill="#fff" opacity="0.59"/>
<rect x="91.47" y="76.04" width="0.8" height="0.8" fill="#fff" opacity="0.46"/>
<rect x="67.52" y="81.5" width="0.8" height="0.8" fill="#fff" opacity="0.42"/>
<rect x="69.66" y="78.81" width="0.8" height="0.8" fill="#2a0a50" opacity="0.6"/>
<rect x="84.08" y="76.57" width="0.8" height="0.8" fill="#fff" opacity="0.33"/>
<rect x="59.72" y="66.25" width="0.8" height="0.8" fill="#fff" opacity="0.6"/>
<rect x="43.86" y="57.48" width="0.8" height="0.8" fill="#2a0a50" opacity="0.62"/>
<rect x="43.86" y="57.88" width="0.8" height="0.8" fill="#fff" opacity="0.39"/>
<rect x="56.32" y="77.64" width="0.8" height="0.8" fill="#fff" opacity="0.5"/>
<rect x="85.94" y="69.28" width="0.8" height="0.8" fill="#2a0a50" opacity="0.34"/>
<rect x="65.91" y="81" width="0.8" height="0.8" fill="#fff" opacity="0.4"/>
<rect x="78.74" y="72.67" width="0.8" height="0.8" fill="#2a0a50" opacity="0.19"/>
<rect x="84.92" y="83.99" width="0.8" height="0.8" fill="#fff" opacity="0.48"/>
<rect x="54.03" y="68.86" width="0.8" height="0.8" fill="#fff" opacity="0.45"/>
<rect x="85.76" y="85.18" width="0.8" height="0.8" fill="#fff" opacity="0.26"/>
<rect x="62.28" y="71.27" width="0.8" height="0.8" fill="#fff" opacity="0.44"/>
<rect x="46.24" y="64.04" width="0.8" height="0.8" fill="#2a0a50" opacity="0.47"/>
<rect x="92.71" y="85.84" width="0.8" height="0.8" fill="#2a0a50" opacity="0.51"/>
<rect x="68.15" y="80.42" width="0.8" height="0.8" fill="#2a0a50" opacity="0.52"/>
<rect x="74.53" y="84.66" width="0.8" height="0.8" fill="#fff" opacity="0.58"/>
<rect x="54.85" y="75.44" width="0.8" height="0.8" fill="#fff" opacity="0.53"/>
<rect x="71.89" y="77.31" width="0.8" height="0.8" fill="#2a0a50" opacity="0.48"/>
<rect x="61.98" y="72.19" width="0.8" height="0.8" fill="#fff" opacity="0.31"/>
<rect x="88.17" y="80.81" width="0.8" height="0.8" fill="#fff" opacity="0.3"/>
<rect x="68.78" y="66.98" width="0.8" height="0.8" fill="#fff" opacity="0.41"/>
<rect x="50.19" y="66.95" width="0.8" height="0.8" fill="#fff" opacity="0.38"/>
<rect x="52.07" y="61.55" width="0.8" height="0.8" fill="#2a0a50" opacity="0.18"/>
<rect x="63.02" y="66.24" width="0.8" height="0.8" fill="#2a0a50" opacity="0.33"/>
<rect x="45.72" y="68.72" width="0.8" height="0.8" fill="#fff" opacity="0.46"/>
<rect x="84.9" y="74.14" width="0.8" height="0.8" fill="#fff" opacity="0.34"/>
<rect x="75.62" y="73.37" width="0.8" height="0.8" fill="#2a0a50" opacity="0.22"/>
<rect x="54.71" y="75.08" width="0.8" height="0.8" fill="#2a0a50" opacity="0.36"/>
<rect x="59.54" y="85.02" width="0.8" height="0.8" fill="#2a0a50" opacity="0.49"/>
<rect x="68.85" y="76.95" width="0.8" height="0.8" fill="#2a0a50" opacity="0.6"/>
<rect x="76.01" y="79.67" width="0.8" height="0.8" fill="#2a0a50" opacity="0.34"/>
<rect x="87.39" y="83.42" width="0.8" height="0.8" fill="#2a0a50" opacity="0.6"/>
<rect x="87.62" y="77.89" width="0.8" height="0.8" fill="#2a0a50" opacity="0.47"/>
<rect x="87.21" y="77.16" width="0.8" height="0.8" fill="#2a0a50" opacity="0.42"/>
<rect x="95.23" y="77.29" width="0.8" height="0.8" fill="#fff" opacity="0.54"/>
<rect x="68.59" y="82.23" width="0.8" height="0.8" fill="#2a0a50" opacity="0.58"/>
<rect x="62.95" y="77.14" width="0.8" height="0.8" fill="#2a0a50" opacity="0.57"/>
<rect x="93.74" y="78.86" width="0.8" height="0.8" fill="#fff" opacity="0.28"/>
<rect x="77.54" y="79.29" width="0.8" height="0.8" fill="#fff" opacity="0.46"/>
<rect x="87.83" y="77.51" width="0.8" height="0.8" fill="#fff" opacity="0.42"/>
<rect x="41.92" y="49.53" width="0.8" height="0.8" fill="#2a0a50" opacity="0.23"/>
<rect x="60.81" y="79.63" width="0.8" height="0.8" fill="#2a0a50" opacity="0.42"/>
<rect x="45.93" y="56.11" width="0.8" height="0.8" fill="#2a0a50" opacity="0.24"/>
<rect x="78.02" y="78.09" width="0.8" height="0.8" fill="#fff" opacity="0.49"/>
<rect x="68.98" y="84.19" width="0.8" height="0.8" fill="#fff" opacity="0.6"/>
<rect x="71.95" y="80.35" width="0.8" height="0.8" fill="#fff" opacity="0.38"/>
<rect x="93" y="81.65" width="0.8" height="0.8" fill="#2a0a50" opacity="0.33"/>
<rect x="78.03" y="70.91" width="0.8" height="0.8" fill="#2a0a50" opacity="0.25"/>
<rect x="78.89" y="82.19" width="0.8" height="0.8" fill="#fff" opacity="0.38"/>
<rect x="87.75" y="73.02" width="0.8" height="0.8" fill="#2a0a50" opacity="0.24"/>
<rect x="83.06" y="81.54" width="0.8" height="0.8" fill="#2a0a50" opacity="0.6"/>
<rect x="42.97" y="58.33" width="0.8" height="0.8" fill="#fff" opacity="0.58"/>
<rect x="73.9" y="68.65" width="0.8" height="0.8" fill="#fff" opacity="0.39"/>
<rect x="82.85" y="71.3" width="0.8" height="0.8" fill="#2a0a50" opacity="0.3"/>
<rect x="57.31" y="67.32" width="0.8" height="0.8" fill="#2a0a50" opacity="0.35"/>
<rect x="77.33" y="78" width="0.8" height="0.8" fill="#2a0a50" opacity="0.45"/>
<rect x="94.93" y="74.1" width="0.8" height="0.8" fill="#2a0a50" opacity="0.21"/>
<rect x="50.06" y="68.58" width="0.8" height="0.8" fill="#2a0a50" opacity="0.62"/>
<rect x="69.9" y="80.97" width="0.8" height="0.8" fill="#fff" opacity="0.51"/>
<rect x="44" y="57.2" width="0.8" height="0.8" fill="#fff" opacity="0.59"/>
<rect x="47.07" y="55.67" width="0.8" height="0.8" fill="#2a0a50" opacity="0.23"/>
<rect x="87.88" y="71.12" width="0.8" height="0.8" fill="#2a0a50" opacity="0.21"/>
<rect x="72.29" y="72.49" width="0.8" height="0.8" fill="#2a0a50" opacity="0.21"/>
<rect x="61.31" y="82.62" width="0.8" height="0.8" fill="#fff" opacity="0.35"/>
<rect x="71.72" y="75.9" width="0.8" height="0.8" fill="#2a0a50" opacity="0.47"/>
<rect x="58.19" y="71.44" width="0.8" height="0.8" fill="#2a0a50" opacity="0.55"/>
<rect x="79.75" y="76.76" width="0.8" height="0.8" fill="#fff" opacity="0.58"/>
<rect x="62.98" y="78.04" width="0.8" height="0.8" fill="#fff" opacity="0.32"/>
<rect x="70.19" y="72.45" width="0.8" height="0.8" fill="#2a0a50" opacity="0.18"/>
<rect x="64.14" y="65.59" width="0.8" height="0.8" fill="#2a0a50" opacity="0.28"/>
<rect x="88.31" y="77.33" width="0.8" height="0.8" fill="#2a0a50" opacity="0.36"/>
<rect x="78.61" y="75.92" width="0.8" height="0.8" fill="#fff" opacity="0.56"/>
<rect x="91.33" y="75.46" width="0.8" height="0.8" fill="#2a0a50" opacity="0.56"/>
<rect x="80.43" y="73.85" width="0.8" height="0.8" fill="#2a0a50" opacity="0.21"/>
<rect x="78.86" y="84.97" width="0.8" height="0.8" fill="#2a0a50" opacity="0.44"/>
<rect x="65.96" y="67.75" width="0.8" height="0.8" fill="#2a0a50" opacity="0.16"/>
<rect x="53.57" y="70.81" width="0.8" height="0.8" fill="#fff" opacity="0.37"/>
<rect x="88.01" y="78.16" width="0.8" height="0.8" fill="#fff" opacity="0.26"/>
<rect x="69.68" y="69.14" width="0.8" height="0.8" fill="#2a0a50" opacity="0.32"/>
<rect x="96.76" y="77.97" width="0.8" height="0.8" fill="#2a0a50" opacity="0.43"/>
<rect x="66.42" y="72.99" width="0.8" height="0.8" fill="#2a0a50" opacity="0.48"/>
<rect x="51.88" y="75.18" width="0.8" height="0.8" fill="#fff" opacity="0.4"/>
<rect x="52.07" y="73.85" width="0.8" height="0.8" fill="#fff" opacity="0.34"/>
<rect x="72.37" y="73.75" width="0.8" height="0.8" fill="#2a0a50" opacity="0.6"/>
<rect x="94.11" y="82.72" width="0.8" height="0.8" fill="#2a0a50" opacity="0.59"/>
<rect x="44.51" y="53.43" width="0.8" height="0.8" fill="#fff" opacity="0.55"/>
<rect x="81.43" y="70.84" width="0.8" height="0.8" fill="#2a0a50" opacity="0.22"/>
<rect x="50.16" y="70.92" width="0.8" height="0.8" fill="#2a0a50" opacity="0.42"/>
<rect x="43.48" y="52.18" width="0.8" height="0.8" fill="#2a0a50" opacity="0.33"/>
<rect x="96.47" y="82.38" width="0.8" height="0.8" fill="#2a0a50" opacity="0.49"/>
<rect x="47.1" y="68.1" width="0.8" height="0.8" fill="#fff" opacity="0.32"/>
<rect x="91.9" y="74.12" width="0.8" height="0.8" fill="#2a0a50" opacity="0.35"/>
<rect x="65.46" y="75.03" width="0.8" height="0.8" fill="#fff" opacity="0.53"/>
<rect x="41.72" y="53.78" width="0.8" height="0.8" fill="#2a0a50" opacity="0.45"/>
<rect x="41.38" y="53.56" width="0.8" height="0.8" fill="rgb(214,209,229)" opacity="0.6"/>
<rect x="40.93" y="54.11" width="0.8" height="0.8" fill="rgb(200,195,215)" opacity="0.6"/>
<rect x="42.15" y="44.16" width="0.8" height="0.8" fill="rgb(220,215,235)" opacity="0.6"/>
<rect x="42.98" y="53.89" width="0.8" height="0.8" fill="rgb(180,175,195)" opacity="0.6"/>
<rect x="40.98" y="42.42" width="0.8" height="0.8" fill="rgb(186,181,201)" opacity="0.6"/>
<rect x="45.14" y="36.16" width="0.8" height="0.8" fill="rgb(188,183,203)" opacity="0.6"/>
<rect x="42.83" y="46.59" width="0.8" height="0.8" fill="rgb(220,215,235)" opacity="0.6"/>
<rect x="41.53" y="49.08" width="0.8" height="0.8" fill="rgb(208,203,223)" opacity="0.6"/>
<rect x="40.99" y="49.82" width="0.8" height="0.8" fill="rgb(210,205,225)" opacity="0.6"/>
<rect x="43.39" y="37.72" width="0.8" height="0.8" fill="rgb(195,190,210)" opacity="0.6"/>
<rect x="41.27" y="53.37" width="0.8" height="0.8" fill="rgb(218,213,233)" opacity="0.6"/>
<rect x="43" y="37.12" width="0.8" height="0.8" fill="rgb(211,206,226)" opacity="0.6"/>
<rect x="41.38" y="39.25" width="0.8" height="0.8" fill="rgb(194,189,209)" opacity="0.6"/>
<rect x="41.22" y="34.11" width="0.8" height="0.8" fill="rgb(216,211,231)" opacity="0.6"/>
<rect x="41.68" y="47.95" width="0.8" height="0.8" fill="rgb(182,177,197)" opacity="0.6"/>
<rect x="44.42" y="39.34" width="0.8" height="0.8" fill="rgb(192,187,207)" opacity="0.6"/>
<rect x="40.98" y="35.07" width="0.8" height="0.8" fill="rgb(195,190,210)" opacity="0.6"/>
<rect x="41.33" y="54.71" width="0.8" height="0.8" fill="rgb(194,189,209)" opacity="0.6"/>
<rect x="40.9" y="46.24" width="0.8" height="0.8" fill="rgb(216,211,231)" opacity="0.6"/>
<rect x="41.39" y="54.22" width="0.8" height="0.8" fill="rgb(196,191,211)" opacity="0.6"/>
<rect x="42.97" y="44.53" width="0.8" height="0.8" fill="rgb(186,181,201)" opacity="0.6"/>
<rect x="41.38" y="50.71" width="0.8" height="0.8" fill="rgb(186,181,201)" opacity="0.6"/>
<rect x="42.2" y="37.58" width="0.8" height="0.8" fill="rgb(212,207,227)" opacity="0.6"/>
<rect x="44.15" y="41.11" width="0.8" height="0.8" fill="rgb(212,207,227)" opacity="0.6"/>
<rect x="41.77" y="54.16" width="0.8" height="0.8" fill="rgb(180,175,195)" opacity="0.6"/>
<rect x="44.89" y="35.59" width="0.8" height="0.8" fill="rgb(181,176,196)" opacity="0.6"/>
<rect x="44.29" y="45.05" width="0.8" height="0.8" fill="rgb(219,214,234)" opacity="0.6"/>
<rect x="42.08" y="47.48" width="0.8" height="0.8" fill="rgb(214,209,229)" opacity="0.6"/>
<rect x="41.39" y="46" width="0.8" height="0.8" fill="rgb(198,193,213)" opacity="0.6"/>
<rect x="41.11" y="44.06" width="0.8" height="0.8" fill="rgb(180,175,195)" opacity="0.6"/>
<rect x="42.07" y="38.12" width="0.8" height="0.8" fill="rgb(212,207,227)" opacity="0.6"/>
<rect x="41.3" y="51.85" width="0.8" height="0.8" fill="rgb(209,204,224)" opacity="0.6"/>
<rect x="41.6" y="50.18" width="0.8" height="0.8" fill="rgb(207,202,222)" opacity="0.6"/>
<rect x="43.83" y="55.63" width="0.8" height="0.8" fill="rgb(219,214,234)" opacity="0.6"/>
<rect x="43.29" y="41.76" width="0.8" height="0.8" fill="rgb(186,181,201)" opacity="0.6"/>
<rect x="41.17" y="35.93" width="0.8" height="0.8" fill="rgb(195,190,210)" opacity="0.6"/>
<rect x="43.08" y="36.23" width="0.8" height="0.8" fill="rgb(203,198,218)" opacity="0.6"/>
<rect x="43.95" y="40.03" width="0.8" height="0.8" fill="rgb(199,194,214)" opacity="0.6"/>
<rect x="40.89" y="47.34" width="0.8" height="0.8" fill="rgb(201,196,216)" opacity="0.6"/>
<rect x="41.93" y="50.91" width="0.8" height="0.8" fill="rgb(180,175,195)" opacity="0.6"/>
<rect x="41.33" y="49.02" width="0.8" height="0.8" fill="rgb(218,213,233)" opacity="0.6"/>
<rect x="41.08" y="38.71" width="0.8" height="0.8" fill="rgb(204,199,219)" opacity="0.6"/>
<rect x="42.77" y="47.44" width="0.8" height="0.8" fill="rgb(193,188,208)" opacity="0.6"/>
<rect x="41.36" y="54.16" width="0.8" height="0.8" fill="rgb(185,180,200)" opacity="0.6"/>
<rect x="44.05" y="49.77" width="0.8" height="0.8" fill="rgb(181,176,196)" opacity="0.6"/>
<rect x="42.78" y="48.74" width="0.8" height="0.8" fill="rgb(188,183,203)" opacity="0.6"/>
<rect x="42.05" y="53.32" width="0.8" height="0.8" fill="rgb(191,186,206)" opacity="0.6"/>
<rect x="42.52" y="47.61" width="0.8" height="0.8" fill="rgb(198,193,213)" opacity="0.6"/>
<rect x="43.72" y="39.56" width="0.8" height="0.8" fill="rgb(199,194,214)" opacity="0.6"/>
<rect x="41.92" y="52.62" width="0.8" height="0.8" fill="rgb(181,176,196)" opacity="0.6"/>
<rect x="41.2" y="43.74" width="0.8" height="0.8" fill="rgb(210,205,225)" opacity="0.6"/>
<rect x="41.6" y="50.77" width="0.8" height="0.8" fill="rgb(200,195,215)" opacity="0.6"/>
<rect x="41.03" y="43.07" width="0.8" height="0.8" fill="rgb(181,176,196)" opacity="0.6"/>
<rect x="42.3" y="41.5" width="0.8" height="0.8" fill="rgb(214,209,229)" opacity="0.6"/>
<rect x="44.2" y="41.23" width="0.8" height="0.8" fill="rgb(195,190,210)" opacity="0.6"/>
<rect x="43.75" y="53.58" width="0.8" height="0.8" fill="rgb(185,180,200)" opacity="0.6"/>
<rect x="41.72" y="52.16" width="0.8" height="0.8" fill="rgb(200,195,215)" opacity="0.6"/>
<rect x="40.99" y="43.35" width="0.8" height="0.8" fill="rgb(201,196,216)" opacity="0.6"/>
<rect x="42.47" y="55.24" width="0.8" height="0.8" fill="rgb(190,185,205)" opacity="0.6"/>
<rect x="42.64" y="38.65" width="0.8" height="0.8" fill="rgb(183,178,198)" opacity="0.6"/>
<rect x="42.26" y="54.63" width="0.8" height="0.8" fill="rgb(206,201,221)" opacity="0.6"/>
<rect x="42.81" y="54.49" width="0.8" height="0.8" fill="rgb(213,208,228)" opacity="0.6"/>
<rect x="42.73" y="35.97" width="0.8" height="0.8" fill="rgb(193,188,208)" opacity="0.6"/>
<rect x="45.66" y="38.8" width="0.8" height="0.8" fill="rgb(180,175,195)" opacity="0.6"/>
<rect x="41.27" y="36.6" width="0.8" height="0.8" fill="rgb(191,186,206)" opacity="0.6"/>
<rect x="42.87" y="47.43" width="0.8" height="0.8" fill="rgb(219,214,234)" opacity="0.6"/>
<rect x="41.98" y="50.41" width="0.8" height="0.8" fill="rgb(205,200,220)" opacity="0.6"/>
<rect x="43.63" y="39.47" width="0.8" height="0.8" fill="rgb(196,191,211)" opacity="0.6"/>
<rect x="41.65" y="53.06" width="0.8" height="0.8" fill="rgb(196,191,211)" opacity="0.6"/>
<rect x="41.02" y="47.6" width="0.8" height="0.8" fill="rgb(217,212,232)" opacity="0.6"/>
</g>
<ellipse cx="83" cy="51" rx="13" ry="9" fill="#ece8f0" filter="url(#bl2)"/>
<rect x="85.02" y="52.92" width="0.8" height="0.8" fill="rgb(199,191,203)"/>
<rect x="80.55" y="45.8" width="0.8" height="0.8" fill="rgb(199,191,203)"/>
<rect x="81.65" y="43.01" width="0.8" height="0.8" fill="rgb(199,191,203)"/>
<rect x="79.96" y="53.75" width="0.8" height="0.8" fill="rgb(202,194,206)"/>
<rect x="80.88" y="41.74" width="0.8" height="0.8" fill="rgb(227,219,231)"/>
<rect x="80.4" y="46.2" width="0.8" height="0.8" fill="rgb(223,215,227)"/>
<rect x="84.71" y="53.68" width="0.8" height="0.8" fill="rgb(214,206,218)"/>
<rect x="72.64" y="57.17" width="0.8" height="0.8" fill="rgb(206,198,210)"/>
<rect x="70.09" y="54.56" width="0.8" height="0.8" fill="rgb(201,193,205)"/>
<rect x="89.08" y="45.47" width="0.8" height="0.8" fill="rgb(215,207,219)"/>
<rect x="84.05" y="49.59" width="0.8" height="0.8" fill="rgb(209,201,213)"/>
<rect x="87.56" y="53.76" width="0.8" height="0.8" fill="rgb(217,209,221)"/>
<rect x="79.72" y="46.39" width="0.8" height="0.8" fill="rgb(195,187,199)"/>
<rect x="84.87" y="48.92" width="0.8" height="0.8" fill="rgb(200,192,204)"/>
<rect x="89.81" y="58.99" width="0.8" height="0.8" fill="rgb(232,224,236)"/>
<rect x="80.48" y="55.7" width="0.8" height="0.8" fill="rgb(197,189,201)"/>
<rect x="85.38" y="53.31" width="0.8" height="0.8" fill="rgb(198,190,202)"/>
<rect x="73.84" y="57.34" width="0.8" height="0.8" fill="rgb(231,223,235)"/>
<rect x="80.37" y="49.83" width="0.8" height="0.8" fill="rgb(213,205,217)"/>
<rect x="99.56" y="52.18" width="0.8" height="0.8" fill="rgb(203,195,207)"/>
<rect x="90.33" y="48.62" width="0.8" height="0.8" fill="rgb(229,221,233)"/>
<rect x="82.21" y="47.5" width="0.8" height="0.8" fill="rgb(211,203,215)"/>
<rect x="79.48" y="53.85" width="0.8" height="0.8" fill="rgb(202,194,206)"/>
<rect x="95.95" y="40.77" width="0.8" height="0.8" fill="rgb(205,197,209)"/>
<rect x="81.17" y="57.21" width="0.8" height="0.8" fill="rgb(196,188,200)"/>
<rect x="83.91" y="55.21" width="0.8" height="0.8" fill="rgb(209,201,213)"/>
<rect x="84.32" y="38.31" width="0.8" height="0.8" fill="rgb(210,202,214)"/>
<rect x="76.94" y="45.3" width="0.8" height="0.8" fill="rgb(195,187,199)"/>
<rect x="94.92" y="54" width="0.8" height="0.8" fill="rgb(218,210,222)"/>
<rect x="83.2" y="52.58" width="0.8" height="0.8" fill="rgb(223,215,227)"/>
<rect x="78.91" y="51.25" width="0.8" height="0.8" fill="rgb(230,222,234)"/>
<rect x="82.1" y="48.2" width="0.8" height="0.8" fill="rgb(202,194,206)"/>
<rect x="63.83" y="52.39" width="0.8" height="0.8" fill="rgb(209,201,213)"/>
<rect x="80.31" y="52.03" width="0.8" height="0.8" fill="rgb(207,199,211)"/>
<rect x="90.33" y="53.55" width="0.8" height="0.8" fill="rgb(225,217,229)"/>
<rect x="83.53" y="56.9" width="0.8" height="0.8" fill="rgb(198,190,202)"/>
<rect x="88.43" y="53" width="0.8" height="0.8" fill="rgb(208,200,212)"/>
<rect x="67.15" y="45.94" width="0.8" height="0.8" fill="rgb(219,211,223)"/>
<rect x="98.71" y="60.94" width="0.8" height="0.8" fill="rgb(228,220,232)"/>
<rect x="92.69" y="53.72" width="0.8" height="0.8" fill="rgb(227,219,231)"/>
<rect x="86.87" y="47.62" width="0.8" height="0.8" fill="rgb(200,192,204)"/>
<rect x="73.54" y="52.04" width="0.8" height="0.8" fill="rgb(224,216,228)"/>
<rect x="83.99" y="47.63" width="0.8" height="0.8" fill="rgb(223,215,227)"/>
<rect x="80.38" y="48.84" width="0.8" height="0.8" fill="rgb(212,204,216)"/>
<rect x="78.81" y="45.74" width="0.8" height="0.8" fill="rgb(202,194,206)"/>
<rect x="80.22" y="43.93" width="0.8" height="0.8" fill="rgb(211,203,215)"/>
<rect x="83.54" y="51.87" width="0.8" height="0.8" fill="rgb(227,219,231)"/>
<rect x="93" y="45.64" width="0.8" height="0.8" fill="rgb(197,189,201)"/>
<rect x="76.96" y="49.9" width="0.8" height="0.8" fill="rgb(226,218,230)"/>
<rect x="80.62" y="47.94" width="0.8" height="0.8" fill="rgb(218,210,222)"/>
<rect x="92.4" y="60.27" width="0.8" height="0.8" fill="rgb(215,207,219)"/>
<rect x="81.99" y="38.2" width="0.8" height="0.8" fill="rgb(218,210,222)"/>
<rect x="76.16" y="43.15" width="0.8" height="0.8" fill="rgb(209,201,213)"/>
<rect x="92.37" y="51.71" width="0.8" height="0.8" fill="rgb(200,192,204)"/>
<rect x="67.27" y="54.96" width="0.8" height="0.8" fill="rgb(213,205,217)"/>
<rect x="78.66" y="52.34" width="0.8" height="0.8" fill="rgb(207,199,211)"/>
<rect x="80.52" y="56.32" width="0.8" height="0.8" fill="rgb(207,199,211)"/>
<rect x="91" y="48.55" width="0.8" height="0.8" fill="rgb(205,197,209)"/>
<rect x="84.03" y="58.36" width="0.8" height="0.8" fill="rgb(227,219,231)"/>
<rect x="91.46" y="42.47" width="0.8" height="0.8" fill="rgb(208,200,212)"/>
<rect x="78.7" y="47.87" width="0.8" height="0.8" fill="rgb(225,217,229)"/>
<rect x="77.14" y="52.25" width="0.8" height="0.8" fill="rgb(215,207,219)"/>
<rect x="88.21" y="51.81" width="0.8" height="0.8" fill="rgb(221,213,225)"/>
<rect x="82.1" y="49.78" width="0.8" height="0.8" fill="rgb(218,210,222)"/>
<rect x="83.79" y="46.24" width="0.8" height="0.8" fill="rgb(195,187,199)"/>
<rect x="91.75" y="60.82" width="0.8" height="0.8" fill="rgb(233,225,237)"/>
<rect x="72.53" y="53.37" width="0.8" height="0.8" fill="rgb(219,211,223)"/>
<rect x="87.09" y="54.67" width="0.8" height="0.8" fill="rgb(202,194,206)"/>
<rect x="81.68" y="57.67" width="0.8" height="0.8" fill="rgb(203,195,207)"/>
<rect x="87.58" y="50.97" width="0.8" height="0.8" fill="rgb(215,207,219)"/>
<rect x="85.2" y="49.54" width="0.8" height="0.8" fill="rgb(209,201,213)"/>
<rect x="79.92" y="52.24" width="0.8" height="0.8" fill="rgb(223,215,227)"/>
<rect x="84.62" y="46.19" width="0.8" height="0.8" fill="rgb(231,223,235)"/>
<rect x="74.12" y="40.04" width="0.8" height="0.8" fill="rgb(212,204,216)"/>
<rect x="96.14" y="48.94" width="0.8" height="0.8" fill="rgb(201,193,205)"/>
<rect x="84.27" y="51.74" width="0.8" height="0.8" fill="rgb(213,205,217)"/>
<rect x="95.85" y="55.66" width="0.8" height="0.8" fill="rgb(206,198,210)"/>
<rect x="89.09" y="46.07" width="0.8" height="0.8" fill="rgb(228,220,232)"/>
<rect x="77.86" y="54.84" width="0.8" height="0.8" fill="rgb(227,219,231)"/>
<rect x="74.99" y="47.48" width="0.8" height="0.8" fill="rgb(226,218,230)"/>
<rect x="76.84" y="43.76" width="0.8" height="0.8" fill="rgb(218,210,222)"/>
<rect x="84.19" y="53.42" width="0.8" height="0.8" fill="rgb(211,203,215)"/>
<rect x="78.14" y="49.24" width="0.8" height="0.8" fill="rgb(211,203,215)"/>
<rect x="77.56" y="45.75" width="0.8" height="0.8" fill="rgb(228,220,232)"/>
<rect x="82.26" y="63.06" width="0.8" height="0.8" fill="rgb(198,190,202)"/>
<rect x="76.18" y="45.83" width="0.8" height="0.8" fill="rgb(215,207,219)"/>
<rect x="83.36" y="50.14" width="0.8" height="0.8" fill="rgb(225,217,229)"/>
<rect x="75.29" y="60.28" width="0.8" height="0.8" fill="rgb(206,198,210)"/>
<rect x="75.65" y="52.24" width="0.8" height="0.8" fill="rgb(209,201,213)"/>
<rect x="86.63" y="50.62" width="0.8" height="0.8" fill="rgb(208,200,212)"/>
<rect x="74.7" y="49.26" width="0.8" height="0.8" fill="rgb(203,195,207)"/>
<rect x="88" y="48.22" width="0.8" height="0.8" fill="rgb(218,210,222)"/>
<rect x="75.76" y="56.19" width="0.8" height="0.8" fill="rgb(218,210,222)"/>
<rect x="87.2" y="54.31" width="0.8" height="0.8" fill="rgb(208,200,212)"/>
<rect x="86.02" y="48.8" width="0.8" height="0.8" fill="rgb(227,219,231)"/>
<rect x="88.7" y="56" width="0.8" height="0.8" fill="rgb(221,213,225)"/>
<rect x="77.2" y="45.18" width="0.8" height="0.8" fill="rgb(224,216,228)"/>
<rect x="93.43" y="47.98" width="0.8" height="0.8" fill="rgb(217,209,221)"/>
<rect x="74.94" y="60.06" width="0.8" height="0.8" fill="rgb(215,207,219)"/>
<rect x="87.4" y="57.65" width="0.8" height="0.8" fill="rgb(196,188,200)"/>
<rect x="76.39" y="40.86" width="0.8" height="0.8" fill="rgb(220,212,224)"/>
<rect x="68.12" y="63.16" width="0.8" height="0.8" fill="rgb(213,205,217)"/>
<rect x="89.24" y="43" width="0.8" height="0.8" fill="rgb(235,227,239)"/>
<rect x="83.1" y="59.71" width="0.8" height="0.8" fill="rgb(207,199,211)"/>
<rect x="71.72" y="60.28" width="0.8" height="0.8" fill="rgb(211,203,215)"/>
<rect x="84.61" y="53.03" width="0.8" height="0.8" fill="rgb(224,216,228)"/>
<rect x="93.16" y="40.26" width="0.8" height="0.8" fill="rgb(232,224,236)"/>
<rect x="100.39" y="54.92" width="0.8" height="0.8" fill="rgb(233,225,237)"/>
<rect x="69.66" y="48.73" width="0.8" height="0.8" fill="rgb(212,204,216)"/>
<rect x="97.96" y="53.11" width="0.8" height="0.8" fill="rgb(206,198,210)"/>
<rect x="88.52" y="53.52" width="0.8" height="0.8" fill="rgb(206,198,210)"/>
<rect x="83.84" y="56.06" width="0.8" height="0.8" fill="rgb(210,202,214)"/>
<rect x="87.16" y="51.39" width="0.8" height="0.8" fill="rgb(200,192,204)"/>
<rect x="87.74" y="50.31" width="0.8" height="0.8" fill="rgb(216,208,220)"/>
<rect x="90.05" y="53.68" width="0.8" height="0.8" fill="rgb(213,205,217)"/>
<rect x="74.57" y="54.68" width="0.8" height="0.8" fill="rgb(211,203,215)"/>
<rect x="73.3" y="63.9" width="0.8" height="0.8" fill="rgb(211,203,215)"/>
<rect x="84.95" y="53.43" width="0.8" height="0.8" fill="rgb(234,226,238)"/>
<rect x="94.57" y="60.64" width="0.8" height="0.8" fill="rgb(216,208,220)"/>
<rect x="77.61" y="57.34" width="0.8" height="0.8" fill="rgb(207,199,211)"/>
<rect x="62.73" y="38.95" width="0.8" height="0.8" fill="rgb(198,190,202)"/>
<rect x="83.13" y="38.58" width="0.8" height="0.8" fill="rgb(222,214,226)"/>
<rect x="72.86" y="57.82" width="0.8" height="0.8" fill="rgb(209,201,213)"/>
<rect x="81.76" y="53.33" width="0.8" height="0.8" fill="rgb(225,217,229)"/>
<rect x="92.37" y="55.82" width="0.8" height="0.8" fill="rgb(207,199,211)"/>
<rect x="85.54" y="44.14" width="0.8" height="0.8" fill="rgb(224,216,228)"/>
<rect x="84.58" y="46.44" width="0.8" height="0.8" fill="rgb(200,192,204)"/>
<rect x="87.35" y="44.45" width="0.8" height="0.8" fill="rgb(222,214,226)"/>
<rect x="86.59" y="54.25" width="0.8" height="0.8" fill="rgb(232,224,236)"/>
<rect x="86.47" y="63.16" width="0.8" height="0.8" fill="rgb(224,216,228)"/>
<rect x="83.37" y="56.02" width="0.8" height="0.8" fill="rgb(222,214,226)"/>
<rect x="75.44" y="50.2" width="0.8" height="0.8" fill="rgb(198,190,202)"/>
<rect x="96.39" y="53.01" width="0.8" height="0.8" fill="rgb(209,201,213)"/>
<rect x="77.16" y="50.64" width="0.8" height="0.8" fill="rgb(224,216,228)"/>
<rect x="69.24" y="41.76" width="0.8" height="0.8" fill="rgb(208,200,212)"/>
<rect x="86.62" y="48.95" width="0.8" height="0.8" fill="rgb(198,190,202)"/>
<rect x="85.17" y="62.04" width="0.8" height="0.8" fill="rgb(214,206,218)"/>
<rect x="74.77" y="55.79" width="0.8" height="0.8" fill="rgb(214,206,218)"/>
<rect x="93.95" y="54.05" width="0.8" height="0.8" fill="rgb(200,192,204)"/>
<rect x="80.97" y="56.55" width="0.8" height="0.8" fill="rgb(210,202,214)"/>
<rect x="94.45" y="63.25" width="0.8" height="0.8" fill="rgb(210,202,214)"/>
<rect x="77.52" y="52.03" width="0.8" height="0.8" fill="rgb(202,194,206)"/>
<rect x="85.95" y="40.9" width="0.8" height="0.8" fill="rgb(218,210,222)"/>
<rect x="79.2" y="44.2" width="0.8" height="0.8" fill="rgb(214,206,218)"/>
<rect x="83.64" y="47.96" width="0.8" height="0.8" fill="rgb(199,191,203)"/>
<rect x="76.5" y="46.11" width="0.8" height="0.8" fill="rgb(199,191,203)"/>
<rect x="82.79" y="60.66" width="0.8" height="0.8" fill="rgb(209,201,213)"/>
<rect x="67.2" y="54.96" width="0.8" height="0.8" fill="rgb(221,213,225)"/>
<rect x="84.04" y="44.78" width="0.8" height="0.8" fill="rgb(223,215,227)"/>
<rect x="85.54" y="40.74" width="0.8" height="0.8" fill="rgb(215,207,219)"/>
<rect x="80.06" y="48.92" width="0.8" height="0.8" fill="rgb(224,216,228)"/>
<rect x="99.37" y="58.71" width="0.8" height="0.8" fill="rgb(203,195,207)"/>
<rect x="86.77" y="49.16" width="0.8" height="0.8" fill="rgb(224,216,228)"/>
<rect x="82.08" y="49.41" width="0.8" height="0.8" fill="rgb(199,191,203)"/>
<rect x="90.5" y="43.36" width="0.8" height="0.8" fill="rgb(216,208,220)"/>
<rect x="79.68" y="52.06" width="0.8" height="0.8" fill="rgb(220,212,224)"/>
<rect x="78.63" y="41.25" width="0.8" height="0.8" fill="rgb(198,190,202)"/>
<rect x="77.99" y="43.99" width="0.8" height="0.8" fill="rgb(199,191,203)"/>
<rect x="76.67" y="61.99" width="0.8" height="0.8" fill="rgb(233,225,237)"/>
<rect x="85.58" y="47.57" width="0.8" height="0.8" fill="rgb(206,198,210)"/>
<rect x="71.32" y="58.69" width="0.8" height="0.8" fill="rgb(216,208,220)"/>
<rect x="71.38" y="61.41" width="0.8" height="0.8" fill="rgb(224,216,228)"/>
<rect x="87.17" y="50.43" width="0.8" height="0.8" fill="rgb(211,203,215)"/>
<rect x="81.43" y="44.68" width="0.8" height="0.8" fill="rgb(209,201,213)"/>
<rect x="94.14" y="48.61" width="0.8" height="0.8" fill="rgb(213,205,217)"/>
<rect x="83.47" y="44.51" width="0.8" height="0.8" fill="rgb(207,199,211)"/>
<rect x="82.55" y="47.59" width="0.8" height="0.8" fill="rgb(207,199,211)"/>
<rect x="91.52" y="47.18" width="0.8" height="0.8" fill="rgb(227,219,231)"/>
<rect x="79.6" y="55.16" width="0.8" height="0.8" fill="rgb(211,203,215)"/>
<rect x="67.46" y="50.04" width="0.8" height="0.8" fill="rgb(204,196,208)"/>
<rect x="94.62" y="49.66" width="0.8" height="0.8" fill="rgb(215,207,219)"/>
<rect x="89.55" y="60.5" width="0.8" height="0.8" fill="rgb(216,208,220)"/>
<rect x="77.87" y="42.3" width="0.8" height="0.8" fill="rgb(198,190,202)"/>
<rect x="90.38" y="39.33" width="0.8" height="0.8" fill="rgb(231,223,235)"/>
<rect x="74.68" y="60.51" width="0.8" height="0.8" fill="rgb(211,203,215)"/>
<rect x="68.71" y="42.36" width="0.8" height="0.8" fill="rgb(215,207,219)"/>
<rect x="84.03" y="56.63" width="0.8" height="0.8" fill="rgb(212,204,216)"/>
<rect x="89.84" y="49.29" width="0.8" height="0.8" fill="rgb(234,226,238)"/>
<rect x="78.01" y="56.06" width="0.8" height="0.8" fill="rgb(202,194,206)"/>
<rect x="84.27" y="50.64" width="0.8" height="0.8" fill="rgb(221,213,225)"/>
<rect x="83.58" y="39.87" width="0.8" height="0.8" fill="rgb(231,223,235)"/>
<rect x="83.22" y="46.14" width="0.8" height="0.8" fill="rgb(198,190,202)"/>
<rect x="96.69" y="50.38" width="0.8" height="0.8" fill="rgb(204,196,208)"/>
<rect x="85.51" y="46.42" width="0.8" height="0.8" fill="rgb(215,207,219)"/>
<rect x="71.1" y="59.48" width="0.8" height="0.8" fill="rgb(203,195,207)"/>
<rect x="83.86" y="61.25" width="0.8" height="0.8" fill="rgb(198,190,202)"/>
<rect x="73.77" y="61.35" width="0.8" height="0.8" fill="rgb(215,207,219)"/>
<rect x="86.37" y="48.55" width="0.8" height="0.8" fill="rgb(229,221,233)"/>
<rect x="81.47" y="49.33" width="0.8" height="0.8" fill="rgb(230,222,234)"/>
<rect x="73.7" y="52.35" width="0.8" height="0.8" fill="rgb(208,200,212)"/>
<rect x="81.96" y="44.9" width="0.8" height="0.8" fill="rgb(199,191,203)"/>
<rect x="89.11" y="54.41" width="0.8" height="0.8" fill="rgb(196,188,200)"/>
<rect x="84.59" y="50.15" width="0.8" height="0.8" fill="rgb(218,210,222)"/>
<rect x="85.87" y="52.04" width="0.8" height="0.8" fill="rgb(198,190,202)"/>
<rect x="86.01" y="57.86" width="0.8" height="0.8" fill="rgb(220,212,224)"/>
<rect x="79.37" y="57.86" width="0.8" height="0.8" fill="rgb(219,211,223)"/>
<rect x="78.58" y="59.55" width="0.8" height="0.8" fill="rgb(231,223,235)"/>
<rect x="65.09" y="53.57" width="0.8" height="0.8" fill="rgb(214,206,218)"/>
<rect x="82.46" y="44.96" width="0.8" height="0.8" fill="rgb(201,193,205)"/>
<rect x="58.95" y="37.66" width="0.8" height="0.8" fill="rgb(228,220,232)"/>
<rect x="91.4" y="53.95" width="0.8" height="0.8" fill="rgb(195,187,199)"/>
<rect x="92.2" y="44.43" width="0.8" height="0.8" fill="rgb(208,200,212)"/>
<rect x="85.75" y="58.86" width="0.8" height="0.8" fill="rgb(202,194,206)"/>
<rect x="76.79" y="44.04" width="0.8" height="0.8" fill="rgb(224,216,228)"/>
<rect x="75.39" y="47.26" width="0.8" height="0.8" fill="rgb(203,195,207)"/>
<rect x="79.62" y="52.23" width="0.8" height="0.8" fill="rgb(228,220,232)"/>
<rect x="80.39" y="58.56" width="0.8" height="0.8" fill="rgb(217,209,221)"/>
<rect x="95.13" y="57.88" width="0.8" height="0.8" fill="rgb(233,225,237)"/>
<rect x="84.91" y="46.67" width="0.8" height="0.8" fill="rgb(222,214,226)"/>
<rect x="89.63" y="58.74" width="0.8" height="0.8" fill="rgb(199,191,203)"/>
<rect x="88.16" y="49.14" width="0.8" height="0.8" fill="rgb(214,206,218)"/>
<rect x="93.22" y="50.59" width="0.8" height="0.8" fill="rgb(206,198,210)"/>
<rect x="68.82" y="51.6" width="0.8" height="0.8" fill="rgb(195,187,199)"/>
<rect x="80.68" y="47.85" width="0.8" height="0.8" fill="rgb(219,211,223)"/>
<rect x="93.91" y="51" width="0.8" height="0.8" fill="rgb(205,197,209)"/>
<rect x="90.59" y="64.04" width="0.8" height="0.8" fill="rgb(230,222,234)"/>
<rect x="86.01" y="48.81" width="0.8" height="0.8" fill="rgb(231,223,235)"/>
<rect x="70.54" y="62.27" width="0.8" height="0.8" fill="rgb(208,200,212)"/>
<rect x="64.71" y="50.57" width="0.8" height="0.8" fill="rgb(208,200,212)"/>
<rect x="63.3" y="49.98" width="0.8" height="0.8" fill="rgb(230,222,234)"/>
<rect x="84.12" y="54.65" width="0.8" height="0.8" fill="rgb(223,215,227)"/>
<rect x="85.94" y="44.55" width="0.8" height="0.8" fill="rgb(233,225,237)"/>
<rect x="78.58" y="42.82" width="0.8" height="0.8" fill="rgb(209,201,213)"/>
<rect x="74.05" y="54.75" width="0.8" height="0.8" fill="rgb(224,216,228)"/>
<rect x="96.82" y="54.74" width="0.8" height="0.8" fill="rgb(216,208,220)"/>
<rect x="87.2" y="48.77" width="0.8" height="0.8" fill="rgb(210,202,214)"/>
<rect x="77" y="49.87" width="0.8" height="0.8" fill="rgb(206,198,210)"/>
<rect x="83.59" y="55.01" width="0.8" height="0.8" fill="rgb(207,199,211)"/>
<rect x="96.44" y="49.44" width="0.8" height="0.8" fill="rgb(202,194,206)"/>
<rect x="82.93" y="40.74" width="0.8" height="0.8" fill="rgb(208,200,212)"/>
<rect x="80.71" y="63.28" width="0.8" height="0.8" fill="rgb(227,219,231)"/>
<rect x="79.62" y="51.97" width="0.8" height="0.8" fill="rgb(199,191,203)"/>
<rect x="91.71" y="46.01" width="0.8" height="0.8" fill="rgb(221,213,225)"/>
<rect x="88.92" y="56.62" width="0.8" height="0.8" fill="rgb(235,227,239)"/>
<rect x="85.23" y="58.95" width="0.8" height="0.8" fill="rgb(221,213,225)"/>
<rect x="83.66" y="46.15" width="0.8" height="0.8" fill="rgb(207,199,211)"/>
<rect x="85.4" y="63.98" width="0.8" height="0.8" fill="rgb(217,209,221)"/>
<rect x="77.68" y="47.26" width="0.8" height="0.8" fill="rgb(205,197,209)"/>
<rect x="76.89" y="45.7" width="0.8" height="0.8" fill="rgb(204,196,208)"/>
<rect x="85.59" y="56.3" width="0.8" height="0.8" fill="rgb(227,219,231)"/>
<rect x="80.47" y="57.48" width="0.8" height="0.8" fill="rgb(223,215,227)"/>
<rect x="84.33" y="42.36" width="0.8" height="0.8" fill="rgb(225,217,229)"/>
<rect x="92.03" y="48.51" width="0.8" height="0.8" fill="rgb(207,199,211)"/>
<rect x="73.02" y="52.37" width="0.8" height="0.8" fill="rgb(227,219,231)"/>
<rect x="84.61" y="53.22" width="0.8" height="0.8" fill="rgb(219,211,223)"/>
<rect x="91.45" y="49.64" width="0.8" height="0.8" fill="rgb(217,209,221)"/>
<rect x="82.23" y="45.15" width="0.8" height="0.8" fill="rgb(220,212,224)"/>
<rect x="77.19" y="45.24" width="0.8" height="0.8" fill="rgb(231,223,235)"/>
<rect x="80.63" y="50.44" width="0.8" height="0.8" fill="rgb(225,217,229)"/>
<rect x="75.69" y="58.26" width="0.8" height="0.8" fill="rgb(220,212,224)"/>
<rect x="94.29" y="48.32" width="0.8" height="0.8" fill="rgb(205,197,209)"/>
<rect x="71.19" y="47.8" width="0.8" height="0.8" fill="rgb(195,187,199)"/>
<rect x="87.52" y="49.86" width="0.8" height="0.8" fill="rgb(218,210,222)"/>
<rect x="79.24" y="45.11" width="0.8" height="0.8" fill="rgb(215,207,219)"/>
<rect x="72.21" y="45.76" width="0.8" height="0.8" fill="rgb(216,208,220)"/>
<rect x="84.56" y="47.4" width="0.8" height="0.8" fill="rgb(230,222,234)"/>
<rect x="78.59" y="53.37" width="0.8" height="0.8" fill="rgb(202,194,206)"/>
<rect x="95.1" y="61.62" width="0.8" height="0.8" fill="rgb(196,188,200)"/>
<rect x="71.53" y="43.13" width="0.8" height="0.8" fill="rgb(223,215,227)"/>
<rect x="74.92" y="51.17" width="0.8" height="0.8" fill="rgb(196,188,200)"/>
<rect x="76.85" y="57.48" width="0.8" height="0.8" fill="rgb(215,207,219)"/>
<rect x="76.79" y="45.32" width="0.8" height="0.8" fill="rgb(216,208,220)"/>
<rect x="82.67" y="59.91" width="0.8" height="0.8" fill="rgb(231,223,235)"/>
<rect x="84.48" y="46.08" width="0.8" height="0.8" fill="rgb(218,210,222)"/>
<rect x="83.98" y="48.69" width="0.8" height="0.8" fill="rgb(235,227,239)"/>
<rect x="76.37" y="49.73" width="0.8" height="0.8" fill="rgb(216,208,220)"/>
<rect x="80.65" y="58.38" width="0.8" height="0.8" fill="rgb(219,211,223)"/>
<rect x="88.52" y="51.58" width="0.8" height="0.8" fill="rgb(198,190,202)"/>
<rect x="82.61" y="47.43" width="0.8" height="0.8" fill="rgb(214,206,218)"/>
<rect x="83.4" y="53.22" width="0.8" height="0.8" fill="rgb(211,203,215)"/>
<rect x="99.31" y="63.01" width="0.8" height="0.8" fill="rgb(201,193,205)"/>
<rect x="93.16" y="48.31" width="0.8" height="0.8" fill="rgb(200,192,204)"/>
<rect x="83.69" y="47.35" width="0.8" height="0.8" fill="rgb(207,199,211)"/>
<rect x="92.65" y="52.89" width="0.8" height="0.8" fill="rgb(219,211,223)"/>
<rect x="72.42" y="55.3" width="0.8" height="0.8" fill="rgb(206,198,210)"/>
<rect x="63.88" y="40.79" width="0.8" height="0.8" fill="rgb(197,189,201)"/>
<rect x="87.34" y="52.94" width="0.8" height="0.8" fill="rgb(197,189,201)"/>
<rect x="96.22" y="52.39" width="0.8" height="0.8" fill="rgb(235,227,239)"/>
<rect x="87.65" y="57.32" width="0.8" height="0.8" fill="rgb(201,193,205)"/>
<rect x="87.9" y="59.08" width="0.8" height="0.8" fill="rgb(207,199,211)"/>
<rect x="67.87" y="64.88" width="0.8" height="0.8" fill="rgb(222,214,226)"/>
<rect x="79.03" y="56.93" width="0.8" height="0.8" fill="rgb(223,215,227)"/>
<rect x="96.29" y="50.67" width="0.8" height="0.8" fill="rgb(206,198,210)"/>
<rect x="92.09" y="62.85" width="0.8" height="0.8" fill="rgb(217,209,221)"/>
<rect x="74.29" y="44.25" width="0.8" height="0.8" fill="rgb(223,215,227)"/>
<rect x="70.39" y="49.15" width="0.8" height="0.8" fill="rgb(197,189,201)"/>
<rect x="85.22" y="42.99" width="0.8" height="0.8" fill="rgb(231,223,235)"/>
<rect x="92.1" y="51.61" width="0.8" height="0.8" fill="rgb(196,188,200)"/>
<rect x="76.79" y="47.51" width="0.8" height="0.8" fill="rgb(220,212,224)"/>
<rect x="78.21" y="50.74" width="0.8" height="0.8" fill="rgb(198,190,202)"/>
<rect x="92.38" y="46.75" width="0.8" height="0.8" fill="rgb(204,196,208)"/>
<rect x="70.02" y="51.2" width="0.8" height="0.8" fill="rgb(205,197,209)"/>
<rect x="82.7" y="50.42" width="0.8" height="0.8" fill="rgb(227,219,231)"/>
<rect x="98.2" y="46.29" width="0.8" height="0.8" fill="rgb(218,210,222)"/>
<rect x="72.15" y="55.97" width="0.8" height="0.8" fill="rgb(231,223,235)"/>
<rect x="73.84" y="57.54" width="0.8" height="0.8" fill="rgb(216,208,220)"/>
<rect x="93.6" y="47.12" width="0.8" height="0.8" fill="rgb(215,207,219)"/>
<rect x="87.37" y="48.41" width="0.8" height="0.8" fill="rgb(208,200,212)"/>
<rect x="86.92" y="39.95" width="0.8" height="0.8" fill="rgb(195,187,199)"/>
<rect x="95.95" y="50.43" width="0.8" height="0.8" fill="rgb(215,207,219)"/>
<rect x="76.19" y="44.5" width="0.8" height="0.8" fill="rgb(234,226,238)"/>
<rect x="77.24" y="58.26" width="0.8" height="0.8" fill="rgb(229,221,233)"/>
<rect x="76.2" y="51.37" width="0.8" height="0.8" fill="rgb(200,192,204)"/>
<rect x="67.05" y="51.61" width="0.8" height="0.8" fill="rgb(197,189,201)"/>
<rect x="91.52" y="59.86" width="0.8" height="0.8" fill="rgb(231,223,235)"/>
<rect x="76.91" y="53.78" width="0.8" height="0.8" fill="rgb(227,219,231)"/>
<rect x="65.25" y="57.67" width="0.8" height="0.8" fill="rgb(200,192,204)"/>
<rect x="79.14" y="49.15" width="0.8" height="0.8" fill="rgb(219,211,223)"/>
<rect x="82.3" y="54.15" width="0.8" height="0.8" fill="rgb(222,214,226)"/>
<rect x="70.22" y="54.74" width="0.8" height="0.8" fill="rgb(211,203,215)"/>
<rect x="91.09" y="54.47" width="0.8" height="0.8" fill="rgb(218,210,222)"/>
<rect x="91.11" y="55.36" width="0.8" height="0.8" fill="rgb(214,206,218)"/>
<rect x="85.74" y="60.24" width="0.8" height="0.8" fill="rgb(212,204,216)"/>
<rect x="84.15" y="46.68" width="0.8" height="0.8" fill="rgb(227,219,231)"/>
<rect x="73.08" y="54.76" width="0.8" height="0.8" fill="rgb(212,204,216)"/>
<rect x="66.67" y="54.52" width="0.8" height="0.8" fill="rgb(220,212,224)"/>
<rect x="77.66" y="41.82" width="0.8" height="0.8" fill="rgb(202,194,206)"/>
<rect x="98.49" y="54.55" width="0.8" height="0.8" fill="rgb(213,205,217)"/>
<rect x="69.5" y="48.28" width="0.8" height="0.8" fill="rgb(203,195,207)"/>
<rect x="73.11" y="61.19" width="0.8" height="0.8" fill="rgb(210,202,214)"/>
<rect x="82.38" y="58.71" width="0.8" height="0.8" fill="rgb(223,215,227)"/>
<rect x="79.41" y="51.38" width="0.8" height="0.8" fill="rgb(197,189,201)"/>
<rect x="85.48" y="59.6" width="0.8" height="0.8" fill="rgb(200,192,204)"/>
<rect x="81.98" y="45.09" width="0.8" height="0.8" fill="rgb(233,225,237)"/>
<rect x="84.82" y="54.24" width="0.8" height="0.8" fill="rgb(202,194,206)"/>
<rect x="73.06" y="41.19" width="0.8" height="0.8" fill="rgb(211,203,215)"/>
<rect x="80.38" y="54.33" width="0.8" height="0.8" fill="rgb(209,201,213)"/>
<rect x="68.28" y="52.86" width="0.8" height="0.8" fill="rgb(211,203,215)"/>
<rect x="82.82" y="53.3" width="0.8" height="0.8" fill="rgb(205,197,209)"/>
<rect x="92.74" y="46.03" width="0.8" height="0.8" fill="rgb(199,191,203)"/>
<rect x="75.86" y="45.13" width="0.8" height="0.8" fill="rgb(223,215,227)"/>
<rect x="85.07" y="57.56" width="0.8" height="0.8" fill="rgb(225,217,229)"/>
<rect x="87.4" y="41.75" width="0.8" height="0.8" fill="rgb(219,211,223)"/>
<rect x="84.07" y="58.21" width="0.8" height="0.8" fill="rgb(228,220,232)"/>
<rect x="89.88" y="59.35" width="0.8" height="0.8" fill="rgb(230,222,234)"/>
<rect x="75.58" y="63.41" width="0.8" height="0.8" fill="rgb(203,195,207)"/>
<rect x="90.7" y="46.66" width="0.8" height="0.8" fill="rgb(212,204,216)"/>
<rect x="79.42" y="49.85" width="0.8" height="0.8" fill="rgb(226,218,230)"/>
<rect x="83.85" y="42.35" width="0.8" height="0.8" fill="rgb(205,197,209)"/>
<rect x="80.9" y="53.43" width="0.8" height="0.8" fill="rgb(219,211,223)"/>
<rect x="90.14" y="57.63" width="0.8" height="0.8" fill="rgb(216,208,220)"/>
<rect x="74.97" y="56.41" width="0.8" height="0.8" fill="rgb(215,207,219)"/>
<rect x="83.95" y="45.36" width="0.8" height="0.8" fill="rgb(224,216,228)"/>
<rect x="87.95" y="54.73" width="0.8" height="0.8" fill="rgb(235,227,239)"/>
<rect x="72.94" y="59.25" width="0.8" height="0.8" fill="rgb(218,210,222)"/>
<rect x="63.56" y="52.81" width="0.8" height="0.8" fill="rgb(207,199,211)"/>
<rect x="66.69" y="47.53" width="0.8" height="0.8" fill="rgb(206,198,210)"/>
<rect x="75.6" y="57.81" width="0.8" height="0.8" fill="rgb(214,206,218)"/>
<rect x="79.43" y="60.85" width="0.8" height="0.8" fill="rgb(232,224,236)"/>
<rect x="84.1" y="51.36" width="0.8" height="0.8" fill="rgb(230,222,234)"/>
<rect x="92.23" y="54.37" width="0.8" height="0.8" fill="rgb(202,194,206)"/>
<rect x="83.13" y="46.22" width="0.8" height="0.8" fill="rgb(202,194,206)"/>
<rect x="75.2" y="37.39" width="0.8" height="0.8" fill="rgb(207,199,211)"/>
<rect x="77.14" y="41.75" width="0.8" height="0.8" fill="rgb(195,187,199)"/>
<rect x="88.88" y="53.76" width="0.8" height="0.8" fill="rgb(231,223,235)"/>
<rect x="79.42" y="43.67" width="0.8" height="0.8" fill="rgb(217,209,221)"/>
<rect x="92.28" y="46.01" width="0.8" height="0.8" fill="rgb(206,198,210)"/>
<rect x="88.7" y="51.36" width="0.8" height="0.8" fill="rgb(206,198,210)"/>
<rect x="88.03" y="48.42" width="0.8" height="0.8" fill="rgb(208,200,212)"/>
<rect x="89.1" y="48.88" width="0.8" height="0.8" fill="rgb(227,219,231)"/>
<rect x="95.27" y="48.36" width="0.8" height="0.8" fill="rgb(219,211,223)"/>
<rect x="72.13" y="56.65" width="0.8" height="0.8" fill="rgb(199,191,203)"/>
<rect x="72.2" y="45.27" width="0.8" height="0.8" fill="rgb(222,214,226)"/>
<rect x="93.82" y="57.89" width="0.8" height="0.8" fill="rgb(212,204,216)"/>
<rect x="74.05" y="50.38" width="0.8" height="0.8" fill="rgb(196,188,200)"/>
<rect x="94.87" y="50.63" width="0.8" height="0.8" fill="rgb(219,211,223)"/>
<rect x="90.25" y="59.87" width="0.8" height="0.8" fill="rgb(230,222,234)"/>
<rect x="95.75" y="61.84" width="0.8" height="0.8" fill="rgb(218,210,222)"/>
<rect x="82.85" y="54.59" width="0.8" height="0.8" fill="rgb(205,197,209)"/>
<rect x="85.38" y="53.56" width="0.8" height="0.8" fill="rgb(202,194,206)"/>
<rect x="88.38" y="57.49" width="0.8" height="0.8" fill="rgb(231,223,235)"/>
<rect x="91.2" y="55.32" width="0.8" height="0.8" fill="rgb(224,216,228)"/>
<rect x="81.57" y="50.69" width="0.8" height="0.8" fill="rgb(198,190,202)"/>
<rect x="83.41" y="54.56" width="0.8" height="0.8" fill="rgb(195,187,199)"/>
<rect x="83.8" y="63.1" width="0.8" height="0.8" fill="rgb(210,202,214)"/>
<rect x="85.38" y="38.8" width="0.8" height="0.8" fill="rgb(232,224,236)"/>
<rect x="77.16" y="54.82" width="0.8" height="0.8" fill="rgb(197,189,201)"/>
<rect x="85.19" y="60.53" width="0.8" height="0.8" fill="rgb(198,190,202)"/>
<rect x="73.39" y="53.25" width="0.8" height="0.8" fill="rgb(197,189,201)"/>
<rect x="78.74" y="48.5" width="0.8" height="0.8" fill="rgb(199,191,203)"/>
<rect x="82.1" y="62.19" width="0.8" height="0.8" fill="rgb(200,192,204)"/>
<rect x="81.18" y="53.23" width="0.8" height="0.8" fill="rgb(214,206,218)"/>
<rect x="96.19" y="56.08" width="0.8" height="0.8" fill="rgb(223,215,227)"/>
<rect x="83.17" y="54.77" width="0.8" height="0.8" fill="rgb(214,206,218)"/>
<rect x="65.09" y="57.24" width="0.8" height="0.8" fill="rgb(201,193,205)"/>
<rect x="80.56" y="44.38" width="0.8" height="0.8" fill="rgb(205,197,209)"/>
<rect x="74.48" y="47.03" width="0.8" height="0.8" fill="rgb(205,197,209)"/>
<rect x="89.29" y="40.57" width="0.8" height="0.8" fill="rgb(213,205,217)"/>
<rect x="75.32" y="50.75" width="0.8" height="0.8" fill="rgb(201,193,205)"/>
<rect x="69.01" y="49.59" width="0.8" height="0.8" fill="rgb(207,199,211)"/>
<rect x="77.85" y="50.74" width="0.8" height="0.8" fill="rgb(208,200,212)"/>
<rect x="71.58" y="54.89" width="0.8" height="0.8" fill="rgb(200,192,204)"/>
<rect x="83.59" y="58.28" width="0.8" height="0.8" fill="rgb(209,201,213)"/>
<rect x="80.94" y="48.45" width="0.8" height="0.8" fill="rgb(221,213,225)"/>
<rect x="94.04" y="56.2" width="0.8" height="0.8" fill="rgb(218,210,222)"/>
<rect x="79.6" y="55.4" width="0.8" height="0.8" fill="rgb(216,208,220)"/>
<rect x="84.47" y="57.48" width="0.8" height="0.8" fill="rgb(222,214,226)"/>
<rect x="86.25" y="52.15" width="0.8" height="0.8" fill="rgb(198,190,202)"/>
<rect x="86.42" y="49.56" width="0.8" height="0.8" fill="rgb(227,219,231)"/>
<rect x="80.25" y="46.5" width="0.8" height="0.8" fill="rgb(201,193,205)"/>
<rect x="57.8" y="35.0" width="43.6" height="32.6" fill="none" stroke="#a9b3da" stroke-width="1.15"/>
<rect x="57" y="34.2" width="1.6" height="1.6" fill="#7a8298"/>
<rect x="57" y="66.8" width="1.6" height="1.6" fill="#7a8298"/>
<rect x="100.6" y="34.2" width="1.6" height="1.6" fill="#7a8298"/>
<rect x="100.6" y="66.8" width="1.6" height="1.6" fill="#7a8298"/>
<rect x="35.1" y="26.4" width="67.3" height="65.8" fill="none" stroke="#333" stroke-width="1"/>
<line x1="32.8" y1="27.9" x2="35.1" y2="27.9" stroke="#333" stroke-width="0.8"/>
<line x1="32.8" y1="43.6" x2="35.1" y2="43.6" stroke="#333" stroke-width="0.8"/>
<line x1="32.8" y1="60.1" x2="35.1" y2="60.1" stroke="#333" stroke-width="0.8"/>
<line x1="32.8" y1="75.5" x2="35.1" y2="75.5" stroke="#333" stroke-width="0.8"/>
<line x1="32.8" y1="85.0" x2="35.1" y2="85.0" stroke="#333" stroke-width="0.8"/>
<line x1="40.6" y1="92.2" x2="40.6" y2="94.3" stroke="#333" stroke-width="0.8"/>
<line x1="52.2" y1="92.2" x2="52.2" y2="94.3" stroke="#333" stroke-width="0.8"/>
<line x1="67.9" y1="92.2" x2="67.9" y2="94.3" stroke="#333" stroke-width="0.8"/>
<line x1="84.2" y1="92.2" x2="84.2" y2="94.3" stroke="#333" stroke-width="0.8"/>
<line x1="99.2" y1="92.2" x2="99.2" y2="94.3" stroke="#333" stroke-width="0.8"/>
<text x="30.4" y="30.8" font-size="7.6" fill="#1a1a1a" stroke="#1a1a1a" stroke-width="0.22" font-weight="normal" text-anchor="end">4</text>
<text x="30.4" y="46.6" font-size="7.6" fill="#1a1a1a" stroke="#1a1a1a" stroke-width="0.22" font-weight="normal" text-anchor="end">3</text>
<text x="30.4" y="63" font-size="7.6" fill="#1a1a1a" stroke="#1a1a1a" stroke-width="0.22" font-weight="normal" text-anchor="end">2</text>
<text x="30.4" y="77.5" font-size="7.6" fill="#1a1a1a" stroke="#1a1a1a" stroke-width="0.22" font-weight="normal" text-anchor="end">1</text>
<text x="30.4" y="87.4" font-size="7.6" fill="#1a1a1a" stroke="#1a1a1a" stroke-width="0.22" font-weight="normal" text-anchor="end">0</text>
<text x="40.4" y="103.5" font-size="7.6" fill="#1a1a1a" stroke="#1a1a1a" stroke-width="0.22" font-weight="normal" text-anchor="middle">0</text>
<text x="52" y="103.5" font-size="7.6" fill="#1a1a1a" stroke="#1a1a1a" stroke-width="0.22" font-weight="normal" text-anchor="middle">1</text>
<text x="68" y="103.5" font-size="7.6" fill="#1a1a1a" stroke="#1a1a1a" stroke-width="0.22" font-weight="normal" text-anchor="middle">2</text>
<text x="84" y="103.5" font-size="7.6" fill="#1a1a1a" stroke="#1a1a1a" stroke-width="0.22" font-weight="normal" text-anchor="middle">3</text>
<text x="99.2" y="103.5" font-size="7.6" fill="#1a1a1a" stroke="#1a1a1a" stroke-width="0.22" font-weight="normal" text-anchor="middle">4</text>
<text x="50.9" y="115.9" font-size="8.9" fill="#222" stroke="#222" stroke-width="0.22" font-weight="normal" text-anchor="start" textLength="35.2" lengthAdjust="spacingAndGlyphs">CD15 (log)</text>
<g transform="translate(18.7,78.1) rotate(-90)"><text x="0" y="0" font-size="8.9" fill="#222" stroke="#222" stroke-width="0.22" font-weight="normal" text-anchor="start" textLength="36.2" lengthAdjust="spacingAndGlyphs">CD30 (log)</text></g>
<text x="183.35" y="15.1" font-size="7.6" fill="#2a2a2a" stroke="#2a2a2a" stroke-width="0.22" font-weight="normal" text-anchor="middle">1</text>
<text x="234.65" y="15.1" font-size="7.6" fill="#2a2a2a" stroke="#2a2a2a" stroke-width="0.22" font-weight="normal" text-anchor="middle">2</text>
<text x="286.05" y="15.1" font-size="7.6" fill="#2a2a2a" stroke="#2a2a2a" stroke-width="0.22" font-weight="normal" text-anchor="middle">3</text>
<text x="337.35" y="15.1" font-size="7.6" fill="#2a2a2a" stroke="#2a2a2a" stroke-width="0.22" font-weight="normal" text-anchor="middle">4</text>
<text x="388.65" y="15.1" font-size="7.6" fill="#2a2a2a" stroke="#2a2a2a" stroke-width="0.22" font-weight="normal" text-anchor="middle">5</text>
<text x="440.05" y="15.1" font-size="7.6" fill="#2a2a2a" stroke="#2a2a2a" stroke-width="0.22" font-weight="normal" text-anchor="middle">6</text>
<text x="491.35" y="15.1" font-size="7.6" fill="#2a2a2a" stroke="#2a2a2a" stroke-width="0.22" font-weight="normal" text-anchor="middle">7</text>
<text x="131.3" y="37.8" font-size="8.3" fill="#2a2a2a" stroke="#2a2a2a" stroke-width="0.22" font-weight="normal" text-anchor="start" textLength="20.6" lengthAdjust="spacingAndGlyphs">CD30</text>
<text x="133.9" y="120" font-size="8.3" fill="#2a2a2a" stroke="#2a2a2a" stroke-width="0.22" font-weight="normal" text-anchor="start" textLength="20.2" lengthAdjust="spacingAndGlyphs">CD15</text>
<text x="134.9" y="187.3" font-size="8.3" fill="#2a2a2a" stroke="#2a2a2a" stroke-width="0.22" font-weight="normal" text-anchor="start" textLength="18.9" lengthAdjust="spacingAndGlyphs">PAX5</text>
<text x="132.7" y="258.8" font-size="8.3" fill="#2a2a2a" stroke="#2a2a2a" stroke-width="0.22" font-weight="normal" text-anchor="start" textLength="20.5" lengthAdjust="spacingAndGlyphs">PD-L1</text>
<text x="126.9" y="333.6" font-size="8.3" fill="#2a2a2a" stroke="#2a2a2a" stroke-width="0.22" font-weight="normal" text-anchor="start" textLength="26.3" lengthAdjust="spacingAndGlyphs">pSTAT1</text>
<text x="117.8" y="53.1" font-size="8.2" fill="#ac5e68" stroke="#ac5e68" stroke-width="0.22" font-weight="normal" text-anchor="start" textLength="32.7" lengthAdjust="spacingAndGlyphs">HRS cells</text>
<text x="118.8" y="62.6" font-size="8.2" fill="#ac5e68" stroke="#ac5e68" stroke-width="0.22" font-weight="normal" text-anchor="start" textLength="15.6" lengthAdjust="spacingAndGlyphs">CD4</text>
<text x="135" y="59.6" font-size="5.5" fill="#ac5e68" stroke="#ac5e68" stroke-width="0.22" font-weight="normal" text-anchor="start">+</text>
<text x="122.6" y="73.9" font-size="8.2" fill="#ac5e68" stroke="#ac5e68" stroke-width="0.22" font-weight="normal" text-anchor="start" textLength="15.8" lengthAdjust="spacingAndGlyphs">CD8</text>
<text x="139" y="70.8" font-size="5.5" fill="#ac5e68" stroke="#ac5e68" stroke-width="0.22" font-weight="normal" text-anchor="start">+</text>
<text x="128" y="85.2" font-size="8.2" fill="#ac5e68" stroke="#ac5e68" stroke-width="0.22" font-weight="normal" text-anchor="start" textLength="22.6" lengthAdjust="spacingAndGlyphs">B cells</text>
<path d="M152.8 51.4H162.4M144.1 59.6H162.4M147.4 69.6L162.4 67.8M154.4 81.4L162.4 77.1" stroke="#ac5e68" stroke-width="1" fill="none"/>
<g transform="translate(162.4,17.8)">
<rect x="0" y="0" width="41.9" height="59.1" fill="#fff"/>
<polygon points="14.6,33.4 14.45,32.91 14.77,31.14 14.76,30.02 14.71,29.66 14.92,27.95 14.85,28.15 15.26,26.52 14.99,25.45 14.9,25.98 14.88,24.21 15.47,22.56 15.3,21.9 15.29,21.6 15.57,19.84 15.77,18.53 15.61,19.36 15.99,16.34 16.34,16.35 16.2,15.5 16.51,14.48 16.69,13.52 16.96,13.02 17.48,12.32 17.8,10.8 18.08,10.02 18.8,8.27 18.9,7.7 19.35,6.87 19.83,5.66 19.7,4.5 19.7,5.6 20.06,6.72 20.13,6.09 20.42,8.66 20.27,8.91 20.6,10 20.66,9.21 21.02,8.6 21.3,6.9 21.76,5.64 22.4,5.3 22.56,5.83 22.82,6.81 23.21,8.24 23.22,8.5 23.6,10 23.98,10.85 24.03,12.18 24.7,13.2 24.89,15.03 25.15,16.06 25.64,15.64 26,17.1 26.07,17.89 26.1,19.27 26.43,20.33 26.68,21.33 27,20.9 27.11,23.62 27.3,23.4 27.42,24.39 27.55,24.83 27.64,25.54 28.28,27.17 28.29,28.33 28.4,29 28.62,30.27 29.1,31.3 29.84,31.83 30.88,32.64 31.5,32.6 33.1,33.4" fill="#efe52b" stroke="#111" stroke-width="1.1" stroke-linejoin="round"/>
<polyline points="4.2,33.7 4.2,33.7 4.45,35.58 4.7,37.04 4.95,38.18 5.2,39.07 5.45,39.76 5.7,40.3 5.95,40.72 6.2,41.05 6.45,41.3 6.7,41.5 6.95,41.65 7.2,41.77 7.45,41.87 7.7,41.94 7.95,42 8.2,42.04 8.45,42.08 8.7,42.1 8.95,42.12 9.2,42.14 9.45,42.15 9.7,42.16 9.95,42.17 10.2,42.18 10.45,42.18 10.7,42.18 10.95,42.19 11.2,42.19 11.45,42.19 11.7,42.19 11.95,42.19 12.2,42.2" fill="none" stroke="#000" stroke-width="0.75"/>
<polyline points="4.2,42.5 4.2,42.5 4.45,44.15 4.7,45.47 4.95,46.53 5.2,47.36 5.45,48.03 5.7,48.56 5.95,48.99 6.2,49.33 6.45,49.59 6.7,49.81 6.95,49.98 7.2,50.12 7.45,50.22 7.7,50.31 7.95,50.38 8.2,50.43 8.45,50.48 8.7,50.51 8.95,50.54 9.2,50.56 9.45,50.58 9.7,50.59 9.95,50.6 10.2,50.61 10.45,50.62 10.7,50.63 10.95,50.63 11.2,50.63 11.45,50.64 11.7,50.64 11.95,50.64 12.2,50.64 12.45,50.64 12.7,50.65 12.95,50.65 13,50.65" fill="none" stroke="#000" stroke-width="0.75"/>
<polygon points="4.2,50.95 4.2,50.95 4.6,52.2 5,53.26 5.4,54.16 5.8,54.91 6.2,55.56 6.6,56.1 7,56.56 7.4,56.95 7.8,57.28 8.2,57.56 8.6,57.8 9,58 9.4,58.17 9.8,58.31 10.2,58.43 10.6,58.53 11,58.62 11.4,58.69 11.8,58.76 12.2,58.81 12.6,58.85 13,58.89 13.4,58.92 13.8,58.95 14.2,58.97 14.6,58.99 15,59.01 15.4,59.02 15.8,59.04 16.2,59.05 16.6,59.05 17,59.06 17.4,59.07 17.8,59.07 18.2,59.08 18.6,59.08 19,59.08 19.4,59.09 19.8,59.09 20.2,59.09 20.6,59.09 21,59.09 21.4,59.09 21.8,59.09 22.2,59.1 22.6,59.1 23,59.1 23.4,59.1 23.4,59.1 4.2,59.1" fill="#000" stroke="#000" stroke-width="0.6"/>
<line x1="0" y1="33.4" x2="41.9" y2="33.4" stroke="#333" stroke-width="0.9"/>
<line x1="0" y1="42.2" x2="41.9" y2="42.2" stroke="#747474" stroke-width="1.1"/>
<line x1="0" y1="50.65" x2="41.9" y2="50.65" stroke="#747474" stroke-width="1.1"/>
<line x1="4.2" y1="12.4" x2="4.2" y2="59.1" stroke="#000" stroke-width="1"/>
<rect x="0" y="0" width="41.9" height="59.1" fill="none" stroke="#000" stroke-width="1.15"/>
<path d="M1 59.1v2.4M1.9 59.1v2.4M2.7 59.1v2.4M3.4 59.1v2.4M4.4 59.1v3.2M6.96 59.1v2.5M8.46 59.1v2.5M9.52 59.1v2.5M10.34 59.1v2.5M11.01 59.1v2.5M11.58 59.1v2.5M12.08 59.1v2.5M12.51 59.1v2.5M12.9 59.1v3.2M15.46 59.1v2.5M16.96 59.1v2.5M18.02 59.1v2.5M18.84 59.1v2.5M19.51 59.1v2.5M20.08 59.1v2.5M20.58 59.1v2.5M21.01 59.1v2.5M21.4 59.1v3.2M23.96 59.1v2.5M25.46 59.1v2.5M26.52 59.1v2.5M27.34 59.1v2.5M28.01 59.1v2.5M28.58 59.1v2.5M29.08 59.1v2.5M29.51 59.1v2.5M29.9 59.1v3.2M32.46 59.1v2.5M33.96 59.1v2.5M35.02 59.1v2.5M35.84 59.1v2.5M36.51 59.1v2.5M37.08 59.1v2.5M37.58 59.1v2.5M38.01 59.1v2.5" stroke="#000" stroke-width="0.85" fill="none"/>
</g>
<g transform="translate(213.7,17.8)">
<rect x="0" y="0" width="41.9" height="59.1" fill="#fff"/>
<polygon points="14.4,33.4 14.67,33.11 14.4,31.57 14.57,30.05 14.41,29.16 14.7,28.83 14.6,28.07 14.78,26.87 14.93,25.18 14.9,25 15.29,24.24 14.94,23.27 15.03,22.87 14.98,21.79 15.22,20.53 15.12,19.85 15.2,18.04 15.27,17.71 15.36,16.86 15.26,15.81 15.1,15.25 15.3,14 15.25,12.85 15.35,13.09 15.48,11.48 15.19,10.06 15.39,9.73 15.28,8.66 15.7,7.13 15.34,7.12 15.56,4.78 15.6,4.5 15.89,5.93 15.99,6.79 16.4,7.7 16.68,8.89 16.41,9.28 16.86,10.02 16.84,10.43 16.95,11.7 17.09,12.98 17.2,14 17.52,15.69 17.7,16.55 18.04,16.58 18.23,16.34 18.5,18.7 18.5,19.7 18.78,20.77 19.02,20.22 19.16,21.88 19.6,23.21 19.6,24.2 19.92,25.21 19.97,26.31 20.4,27.7 20.71,28.26 21.2,29 21.91,29.28 22.84,31.48 23.5,31.3 24.46,31.32 25.49,31.37 26.61,31.99 27.5,32.6 28.3,33.4" fill="#8c8c28" stroke="#111" stroke-width="1.1" stroke-linejoin="round"/>
<polyline points="4.2,33.7 4.2,33.7 4.45,36.6 4.7,38.5 4.95,39.76 5.2,40.59 5.45,41.14 5.7,41.5 5.95,41.74 6.2,41.89 6.45,42 6.7,42.07 6.95,42.11 7.2,42.14 7.45,42.16 7.7,42.17 7.95,42.18 8.2,42.19 8.45,42.19 8.7,42.19 8.95,42.19 9,42.2" fill="none" stroke="#000" stroke-width="0.75"/>
<polyline points="4.2,42.5 4.2,42.5 4.45,45.28 4.7,47.11 4.95,48.31 5.2,49.11 5.45,49.63 5.7,49.98 5.95,50.21 6.2,50.36 6.45,50.46 6.7,50.52 6.95,50.57 7.2,50.59 7.45,50.61 7.7,50.62 7.95,50.63 8.2,50.64 8.45,50.64 8.7,50.64 8.95,50.65 9,50.65" fill="none" stroke="#000" stroke-width="0.75"/>
<polyline points="4.2,50.95 4.2,50.95 4.45,53.14 4.7,54.74 4.95,55.91 5.2,56.76 5.45,57.39 5.7,57.85 5.95,58.19 6.2,58.43 6.45,58.61 6.7,58.74 6.95,58.84 7.2,58.91 7.45,58.96 7.7,59 7.95,59.02 8.2,59.05 8.45,59.06 8.7,59.07 8.95,59.08 9.2,59.08 9.45,59.09 9.7,59.09 9.95,59.09 10.2,59.1 10.45,59.1 10.6,59.1" fill="none" stroke="#000" stroke-width="0.75"/>
<line x1="0" y1="33.4" x2="41.9" y2="33.4" stroke="#333" stroke-width="0.9"/>
<line x1="0" y1="42.2" x2="41.9" y2="42.2" stroke="#747474" stroke-width="1.1"/>
<line x1="0" y1="50.65" x2="41.9" y2="50.65" stroke="#747474" stroke-width="1.1"/>
<line x1="4.2" y1="12.4" x2="4.2" y2="59.1" stroke="#000" stroke-width="1"/>
<rect x="0" y="0" width="41.9" height="59.1" fill="none" stroke="#000" stroke-width="1.15"/>
<path d="M1 59.1v2.4M1.9 59.1v2.4M2.7 59.1v2.4M3.4 59.1v2.4M4.4 59.1v3.2M6.96 59.1v2.5M8.46 59.1v2.5M9.52 59.1v2.5M10.34 59.1v2.5M11.01 59.1v2.5M11.58 59.1v2.5M12.08 59.1v2.5M12.51 59.1v2.5M12.9 59.1v3.2M15.46 59.1v2.5M16.96 59.1v2.5M18.02 59.1v2.5M18.84 59.1v2.5M19.51 59.1v2.5M20.08 59.1v2.5M20.58 59.1v2.5M21.01 59.1v2.5M21.4 59.1v3.2M23.96 59.1v2.5M25.46 59.1v2.5M26.52 59.1v2.5M27.34 59.1v2.5M28.01 59.1v2.5M28.58 59.1v2.5M29.08 59.1v2.5M29.51 59.1v2.5M29.9 59.1v3.2M32.46 59.1v2.5M33.96 59.1v2.5M35.02 59.1v2.5M35.84 59.1v2.5M36.51 59.1v2.5M37.08 59.1v2.5M37.58 59.1v2.5M38.01 59.1v2.5" stroke="#000" stroke-width="0.85" fill="none"/>
</g>
<g transform="translate(265.1,17.8)">
<rect x="0" y="0" width="41.9" height="59.1" fill="#fff"/>
<polygon points="14.5,33.4 14.46,33.4 14.65,31.78 14.48,31.09 14.64,29.56 14.69,28.32 14.84,27.69 15.01,26.58 14.53,25.85 15.01,25.81 15.18,23.94 15.2,23.4 15.31,22.54 15.43,21.02 15.72,19.71 15.57,18.87 15.73,18.53 15.87,17.43 15.86,14.76 16,15.6 16.14,14.5 16.27,14.38 16.33,12.61 16.62,11.83 17.1,10.8 17.87,8.91 17.95,9.02 18.4,7.7 18.56,6.52 19.2,5.3 19.52,5.68 19.77,6.11 20.02,7.28 20.3,9.2 21.21,9.37 21.54,11.25 22.3,11.6 22.56,11.58 22.93,13.51 23.63,14.68 23.9,15.6 24.11,16.41 24.44,17.73 24.73,18.67 25.04,19.95 25.4,19.5 25.54,20.61 26,21.9 26.37,22.67 26.52,22.54 26.77,24.46 26.87,25.84 27.3,26.67 27.58,27.29 27.9,28.2 28.26,28.75 29.12,29.91 29.39,31.02 29.65,31.55 30.2,32.1 31.4,32.65 32.6,33.2 33,33.4" fill="#efe52b" stroke="#111" stroke-width="1.1" stroke-linejoin="round"/>
<polyline points="4.2,33.7 4.2,33.7 4.45,35.58 4.7,37.04 4.95,38.18 5.2,39.07 5.45,39.76 5.7,40.3 5.95,40.72 6.2,41.05 6.45,41.3 6.7,41.5 6.95,41.65 7.2,41.77 7.45,41.87 7.7,41.94 7.95,42 8.2,42.04 8.45,42.08 8.7,42.1 8.95,42.12 9.2,42.14 9.45,42.15 9.7,42.16 9.95,42.17 10.2,42.18 10.45,42.18 10.7,42.18 10.95,42.19 11.2,42.19 11.45,42.19 11.7,42.19 11.95,42.19 12.2,42.2" fill="none" stroke="#000" stroke-width="0.75"/>
<polyline points="4.2,42.5 4.2,42.5 4.45,44.15 4.7,45.47 4.95,46.53 5.2,47.36 5.45,48.03 5.7,48.56 5.95,48.99 6.2,49.33 6.45,49.59 6.7,49.81 6.95,49.98 7.2,50.12 7.45,50.22 7.7,50.31 7.95,50.38 8.2,50.43 8.45,50.48 8.7,50.51 8.95,50.54 9.2,50.56 9.45,50.58 9.7,50.59 9.95,50.6 10.2,50.61 10.45,50.62 10.7,50.63 10.95,50.63 11.2,50.63 11.45,50.64 11.7,50.64 11.95,50.64 12.2,50.64 12.45,50.64 12.7,50.65 12.95,50.65 13,50.65" fill="none" stroke="#000" stroke-width="0.75"/>
<polygon points="4.2,50.95 4.2,50.95 4.57,52.2 4.93,53.26 5.3,54.16 5.67,54.91 6.03,55.56 6.4,56.1 6.77,56.56 7.13,56.95 7.5,57.28 7.87,57.56 8.23,57.8 8.6,58 8.97,58.17 9.33,58.31 9.7,58.43 10.07,58.53 10.43,58.62 10.8,58.69 11.17,58.76 11.53,58.81 11.9,58.85 12.27,58.89 12.63,58.92 13,58.95 13.37,58.97 13.73,58.99 14.1,59.01 14.47,59.02 14.83,59.04 15.2,59.05 15.57,59.05 15.93,59.06 16.3,59.07 16.67,59.07 17.03,59.08 17.4,59.08 17.77,59.08 18.13,59.09 18.5,59.09 18.87,59.09 19.23,59.09 19.6,59.09 19.97,59.09 20.33,59.09 20.7,59.1 21.07,59.1 21.43,59.1 21.8,59.1 4.2,59.1" fill="#000" stroke="#000" stroke-width="0.6"/>
<line x1="0" y1="33.4" x2="41.9" y2="33.4" stroke="#333" stroke-width="0.9"/>
<line x1="0" y1="42.2" x2="41.9" y2="42.2" stroke="#747474" stroke-width="1.1"/>
<line x1="0" y1="50.65" x2="41.9" y2="50.65" stroke="#747474" stroke-width="1.1"/>
<line x1="4.2" y1="12.4" x2="4.2" y2="59.1" stroke="#000" stroke-width="1"/>
<rect x="0" y="0" width="41.9" height="59.1" fill="none" stroke="#000" stroke-width="1.15"/>
<path d="M1 59.1v2.4M1.9 59.1v2.4M2.7 59.1v2.4M3.4 59.1v2.4M4.4 59.1v3.2M6.96 59.1v2.5M8.46 59.1v2.5M9.52 59.1v2.5M10.34 59.1v2.5M11.01 59.1v2.5M11.58 59.1v2.5M12.08 59.1v2.5M12.51 59.1v2.5M12.9 59.1v3.2M15.46 59.1v2.5M16.96 59.1v2.5M18.02 59.1v2.5M18.84 59.1v2.5M19.51 59.1v2.5M20.08 59.1v2.5M20.58 59.1v2.5M21.01 59.1v2.5M21.4 59.1v3.2M23.96 59.1v2.5M25.46 59.1v2.5M26.52 59.1v2.5M27.34 59.1v2.5M28.01 59.1v2.5M28.58 59.1v2.5M29.08 59.1v2.5M29.51 59.1v2.5M29.9 59.1v3.2M32.46 59.1v2.5M33.96 59.1v2.5M35.02 59.1v2.5M35.84 59.1v2.5M36.51 59.1v2.5M37.08 59.1v2.5M37.58 59.1v2.5M38.01 59.1v2.5" stroke="#000" stroke-width="0.85" fill="none"/>
</g>
<g transform="translate(316.4,17.8)">
<rect x="0" y="0" width="41.9" height="59.1" fill="#fff"/>
<polygon points="14.6,33.4 14.87,32.51 14.9,31.07 14.79,30.47 14.93,30.62 15.1,28.71 15.06,28.36 15,27.16 15.16,25.75 15.3,25 15.16,23.39 15.44,22.31 15.52,22.09 15.46,21.27 15.79,20.26 15.71,19.74 15.63,18.22 15.69,17.23 16.28,15.83 16.2,15.6 16.69,13.43 16.89,13.63 17.3,12.4 17.93,13.43 18.4,14 19.4,13.2 19.47,12.74 19.51,10.93 19.69,9.74 19.96,8.86 19.74,7.33 19.69,6.8 19.74,7.24 20.2,5.3 20.18,6.09 20.03,8 20.28,8.65 20.35,8.97 20.35,10.3 20.63,10.88 20.28,12.77 20.85,13.55 20.82,13.49 21.08,14.43 20.9,15.6 21.42,16.85 22,17.9 22.8,19.5 23.42,18.59 24.1,17.9 24.03,18.78 23.95,20.86 24.28,19 24.42,21.69 24.41,22.63 24.65,23.87 24.51,24.44 24.71,26.6 24.7,26.6 25.58,26.91 25.68,28.59 26.3,29 27.39,28.76 28.4,29.7 28.77,30.35 29.39,31.19 30,32.9 30.7,33.4" fill="#efe52b" stroke="#111" stroke-width="1.1" stroke-linejoin="round"/>
<polyline points="4.2,33.7 4.2,33.7 4.45,35.98 4.7,37.65 4.95,38.87 5.2,39.76 5.45,40.42 5.7,40.89 5.95,41.24 6.2,41.5 6.45,41.69 6.7,41.82 6.95,41.92 7.2,42 7.45,42.05 7.7,42.09 7.95,42.12 8.2,42.14 8.45,42.16 8.7,42.17 8.95,42.17 9.2,42.18 9.45,42.19 9.7,42.19 9.95,42.19 10.2,42.19 10.45,42.19 10.6,42.2" fill="none" stroke="#000" stroke-width="0.75"/>
<polyline points="4.2,42.5 4.2,42.5 4.45,44.47 4.7,45.97 4.95,47.11 5.2,47.97 5.45,48.62 5.7,49.11 5.95,49.48 6.2,49.77 6.45,49.98 6.7,50.14 6.95,50.26 7.2,50.36 7.45,50.43 7.7,50.48 7.95,50.52 8.2,50.55 8.45,50.58 8.7,50.59 8.95,50.61 9.2,50.62 9.45,50.62 9.7,50.63 9.95,50.64 10.2,50.64 10.45,50.64 10.7,50.64 10.95,50.64 11.2,50.65 11.4,50.65" fill="none" stroke="#000" stroke-width="0.75"/>
<polyline points="4.2,50.95 4.2,50.95 4.45,52.37 4.7,53.55 4.95,54.52 5.2,55.32 5.45,55.98 5.7,56.53 5.95,56.98 6.2,57.35 6.45,57.66 6.7,57.91 6.95,58.12 7.2,58.29 7.45,58.43 7.7,58.55 7.95,58.64 8.2,58.72 8.45,58.79 8.7,58.84 8.95,58.89 9.2,58.93 9.45,58.96 9.7,58.98 9.95,59 10.2,59.02 10.45,59.03 10.7,59.05 10.95,59.05 11.2,59.06 11.45,59.07 11.7,59.07 11.95,59.08 12.2,59.08 12.45,59.09 12.7,59.09 12.95,59.09 13.2,59.09 13.45,59.09 13.7,59.09 13.95,59.1 14.2,59.1 14.45,59.1 14.6,59.1" fill="none" stroke="#000" stroke-width="0.75"/>
<line x1="0" y1="33.4" x2="41.9" y2="33.4" stroke="#333" stroke-width="0.9"/>
<line x1="0" y1="42.2" x2="41.9" y2="42.2" stroke="#747474" stroke-width="1.1"/>
<line x1="0" y1="50.65" x2="41.9" y2="50.65" stroke="#747474" stroke-width="1.1"/>
<line x1="4.2" y1="12.4" x2="4.2" y2="59.1" stroke="#000" stroke-width="1"/>
<rect x="0" y="0" width="41.9" height="59.1" fill="none" stroke="#000" stroke-width="1.15"/>
<path d="M1 59.1v2.4M1.9 59.1v2.4M2.7 59.1v2.4M3.4 59.1v2.4M4.4 59.1v3.2M6.96 59.1v2.5M8.46 59.1v2.5M9.52 59.1v2.5M10.34 59.1v2.5M11.01 59.1v2.5M11.58 59.1v2.5M12.08 59.1v2.5M12.51 59.1v2.5M12.9 59.1v3.2M15.46 59.1v2.5M16.96 59.1v2.5M18.02 59.1v2.5M18.84 59.1v2.5M19.51 59.1v2.5M20.08 59.1v2.5M20.58 59.1v2.5M21.01 59.1v2.5M21.4 59.1v3.2M23.96 59.1v2.5M25.46 59.1v2.5M26.52 59.1v2.5M27.34 59.1v2.5M28.01 59.1v2.5M28.58 59.1v2.5M29.08 59.1v2.5M29.51 59.1v2.5M29.9 59.1v3.2M32.46 59.1v2.5M33.96 59.1v2.5M35.02 59.1v2.5M35.84 59.1v2.5M36.51 59.1v2.5M37.08 59.1v2.5M37.58 59.1v2.5M38.01 59.1v2.5" stroke="#000" stroke-width="0.85" fill="none"/>
</g>
<g transform="translate(367.7,17.8)">
<rect x="0" y="0" width="41.9" height="59.1" fill="#fff"/>
<polygon points="14.3,33.4 14.39,32.46 14.4,31.25 14.44,30.99 14.27,30.35 14.32,28.64 14.42,27.26 14.54,26.8 14.84,25.99 14.29,25.21 14.46,23.92 14.77,22.6 14.6,21.9 14.42,20.89 14.78,20.26 14.8,18.61 15.05,17.99 15.18,17.19 15.17,17.42 15.4,15.6 15.91,14.4 16.5,14 16.89,15.35 17.5,15.6 17.67,15.25 18.23,12.95 18.6,12.4 18.91,13.17 19.4,14.8 19.91,16.18 20.2,17.1 20.71,16.01 21.3,14.8 21.96,14.67 22.5,13.2 23.01,12.08 23.17,10.75 23.47,10.53 23.8,9.2 24.25,7.94 24.51,6.98 25.2,5.76 25.4,5.3 26.12,6.23 26.5,7.7 26.64,8.81 26.91,9.87 26.84,10.52 27.37,11.4 27.57,12.53 27.6,13.2 27.79,14.91 27.64,16.12 27.62,15.98 28.15,17.48 28.21,18.88 28.59,17.99 28.34,19.3 28.76,20.85 28.8,21.9 29.03,22.62 29.46,22.91 29.42,24.79 29.63,26.09 29.66,26.87 30.07,27.69 30.18,29.25 30.4,29.7 30.78,30.62 31.08,31.74 31.3,32.2 31.7,33.2 32,33.4" fill="#fcf6c3" stroke="#111" stroke-width="1.1" stroke-linejoin="round"/>
<polyline points="4.6,33.7 4.6,33.7 4.85,35.98 5.1,37.65 5.35,38.87 5.6,39.76 5.85,40.42 6.1,40.89 6.35,41.24 6.6,41.5 6.85,41.69 7.1,41.82 7.35,41.92 7.6,42 7.85,42.05 8.1,42.09 8.35,42.12 8.6,42.14 8.85,42.16 9.1,42.17 9.35,42.17 9.6,42.18 9.85,42.19 10.1,42.19 10.35,42.19 10.6,42.19 10.85,42.19 11,42.2" fill="none" stroke="#000" stroke-width="0.75"/>
<polyline points="4.6,42.5 4.6,42.5 4.85,44.47 5.1,45.97 5.35,47.11 5.6,47.97 5.85,48.62 6.1,49.11 6.35,49.48 6.6,49.77 6.85,49.98 7.1,50.14 7.35,50.26 7.6,50.36 7.85,50.43 8.1,50.48 8.35,50.52 8.6,50.55 8.85,50.58 9.1,50.59 9.35,50.61 9.6,50.62 9.85,50.62 10.1,50.63 10.35,50.64 10.6,50.64 10.85,50.64 11.1,50.64 11.35,50.64 11.6,50.65 11.8,50.65" fill="none" stroke="#000" stroke-width="0.75"/>
<polygon points="4.6,59.1 4.6,52.5 5.14,52.51 5.67,52.55 6.21,52.64 6.75,52.78 7.29,53.01 7.82,53.3 8.36,53.69 8.9,54.15 9.44,54.7 9.97,55.32 10.51,56.01 11.05,56.73 11.59,57.47 12.12,58.17 12.66,58.77 13.2,59.1 13.2,59.1" fill="#000" stroke="#000" stroke-width="0.5"/>
<line x1="0" y1="33.4" x2="41.9" y2="33.4" stroke="#333" stroke-width="0.9"/>
<line x1="0" y1="42.2" x2="41.9" y2="42.2" stroke="#747474" stroke-width="1.1"/>
<line x1="0" y1="50.65" x2="41.9" y2="50.65" stroke="#747474" stroke-width="1.1"/>
<line x1="4.6" y1="12.4" x2="4.6" y2="59.1" stroke="#000" stroke-width="1"/>
<rect x="0" y="0" width="41.9" height="59.1" fill="none" stroke="#000" stroke-width="1.15"/>
<path d="M1 59.1v2.4M1.9 59.1v2.4M2.7 59.1v2.4M3.4 59.1v2.4M4.4 59.1v3.2M6.96 59.1v2.5M8.46 59.1v2.5M9.52 59.1v2.5M10.34 59.1v2.5M11.01 59.1v2.5M11.58 59.1v2.5M12.08 59.1v2.5M12.51 59.1v2.5M12.9 59.1v3.2M15.46 59.1v2.5M16.96 59.1v2.5M18.02 59.1v2.5M18.84 59.1v2.5M19.51 59.1v2.5M20.08 59.1v2.5M20.58 59.1v2.5M21.01 59.1v2.5M21.4 59.1v3.2M23.96 59.1v2.5M25.46 59.1v2.5M26.52 59.1v2.5M27.34 59.1v2.5M28.01 59.1v2.5M28.58 59.1v2.5M29.08 59.1v2.5M29.51 59.1v2.5M29.9 59.1v3.2M32.46 59.1v2.5M33.96 59.1v2.5M35.02 59.1v2.5M35.84 59.1v2.5M36.51 59.1v2.5M37.08 59.1v2.5M37.58 59.1v2.5M38.01 59.1v2.5" stroke="#000" stroke-width="0.85" fill="none"/>
</g>
<g transform="translate(419.1,17.8)">
<rect x="0" y="0" width="41.9" height="59.1" fill="#fff"/>
<polygon points="13.7,33.4 13.6,31.9 13.5,31.92 13.58,30.6 14.02,30.31 13.99,29.53 14.09,28.14 14.23,26.67 14.23,25.5 14.36,25.57 14.76,24.1 14.5,23.4 14.46,22.53 14.52,21.68 14.6,20.51 14.7,20.81 14.85,18.99 14.77,19.01 15.22,16.79 14.84,15.47 15.29,15.63 14.64,13.93 14.97,13.83 15.17,12.41 15.19,11.81 15.2,10.8 15.61,9.67 15.64,9.72 15.96,7.82 15.91,7.37 16.44,5.99 16.5,5.3 16.73,6.23 17.04,7.36 17.04,8.22 17.6,9.2 17.95,11.03 18.39,10.68 18.56,12.23 19.22,13.56 19.2,14 19.94,15.25 20.05,17.03 20.82,16.66 21.2,17.9 22.8,18.7 23.39,18.65 24.22,20.95 24.7,21.1 24.89,22.16 25.73,23.83 26.2,23.81 26.6,24.2 26.91,24.14 27.94,25.19 28.14,26.18 28.7,27.4 29.54,28.07 30.2,29 30.77,30.02 30.8,29.9 31.8,31.3 32.64,32.08 33.4,32.7 34.2,33.4" fill="#efe52b" stroke="#111" stroke-width="1.1" stroke-linejoin="round"/>
<polyline points="4.2,33.7 4.2,33.7 4.45,36.25 4.7,38.04 4.95,39.29 5.2,40.16 5.45,40.77 5.7,41.2 5.95,41.5 6.2,41.71 6.45,41.86 6.7,41.96 6.95,42.03 7.2,42.08 7.45,42.12 7.7,42.14 7.95,42.16 8.2,42.17 8.45,42.18 8.7,42.18 8.95,42.19 9.2,42.19 9.45,42.19 9.7,42.19 9.8,42.2" fill="none" stroke="#000" stroke-width="0.75"/>
<polyline points="4.2,42.5 4.2,42.5 4.45,44.69 4.7,46.29 4.95,47.46 5.2,48.31 5.45,48.94 5.7,49.4 5.95,49.73 6.2,49.98 6.45,50.16 6.7,50.29 6.95,50.39 7.2,50.46 7.45,50.51 7.7,50.55 7.95,50.57 8.2,50.59 8.45,50.61 8.7,50.62 8.95,50.63 9.2,50.63 9.45,50.64 9.7,50.64 9.95,50.64 10.2,50.64 10.45,50.65 10.6,50.65" fill="none" stroke="#000" stroke-width="0.75"/>
<polyline points="4.2,50.95 4.2,50.95 4.45,52.48 4.7,53.73 4.95,54.74 5.2,55.56 5.45,56.22 5.7,56.76 5.95,57.2 6.2,57.56 6.45,57.85 6.7,58.09 6.95,58.28 7.2,58.43 7.45,58.56 7.7,58.66 7.95,58.74 8.2,58.81 8.45,58.86 8.7,58.91 8.95,58.94 9.2,58.97 9.45,59 9.7,59.02 9.95,59.03 10.2,59.05 10.45,59.06 10.7,59.06 10.95,59.07 11.2,59.08 11.45,59.08 11.7,59.08 11.95,59.09 12.2,59.09 12.45,59.09 12.7,59.09 12.95,59.09 13.2,59.1 13.45,59.1 13.7,59.1 13.8,59.1" fill="none" stroke="#000" stroke-width="0.75"/>
<line x1="0" y1="33.4" x2="41.9" y2="33.4" stroke="#333" stroke-width="0.9"/>
<line x1="0" y1="42.2" x2="41.9" y2="42.2" stroke="#747474" stroke-width="1.1"/>
<line x1="0" y1="50.65" x2="41.9" y2="50.65" stroke="#747474" stroke-width="1.1"/>
<line x1="4.2" y1="12.4" x2="4.2" y2="59.1" stroke="#000" stroke-width="1"/>
<rect x="0" y="0" width="41.9" height="59.1" fill="none" stroke="#000" stroke-width="1.15"/>
<path d="M1 59.1v2.4M1.9 59.1v2.4M2.7 59.1v2.4M3.4 59.1v2.4M4.4 59.1v3.2M6.96 59.1v2.5M8.46 59.1v2.5M9.52 59.1v2.5M10.34 59.1v2.5M11.01 59.1v2.5M11.58 59.1v2.5M12.08 59.1v2.5M12.51 59.1v2.5M12.9 59.1v3.2M15.46 59.1v2.5M16.96 59.1v2.5M18.02 59.1v2.5M18.84 59.1v2.5M19.51 59.1v2.5M20.08 59.1v2.5M20.58 59.1v2.5M21.01 59.1v2.5M21.4 59.1v3.2M23.96 59.1v2.5M25.46 59.1v2.5M26.52 59.1v2.5M27.34 59.1v2.5M28.01 59.1v2.5M28.58 59.1v2.5M29.08 59.1v2.5M29.51 59.1v2.5M29.9 59.1v3.2M32.46 59.1v2.5M33.96 59.1v2.5M35.02 59.1v2.5M35.84 59.1v2.5M36.51 59.1v2.5M37.08 59.1v2.5M37.58 59.1v2.5M38.01 59.1v2.5" stroke="#000" stroke-width="0.85" fill="none"/>
</g>
<g transform="translate(470.4,17.8)">
<rect x="0" y="0" width="41.9" height="59.1" fill="#fff"/>
<polygon points="14.2,33.4 14.02,32.72 14.39,31.15 14.47,31.34 14.6,28.84 14.83,28.13 15,27.67 14.67,26.8 14.86,25.2 15,25 15.25,24.28 15.03,23.25 14.99,22.43 15.17,21.49 15.5,21.05 15.27,19.54 15.55,18.7 15.47,17.21 15.57,17.18 15.7,15.6 16.02,14.91 16.2,13.03 15.95,13.36 15.97,11.47 15.89,11.5 16.41,10.58 16.5,9.2 16.75,7.88 17.12,7.07 17.35,6.72 17.8,5.3 18.5,6.65 18.9,6.9 19.7,8.5 20.39,7.57 20.9,6.9 21.07,7.64 21.51,9.18 21.35,9.92 21.5,10.97 21.97,11.43 21.75,12.67 22,14 22.33,14.54 22.91,17.28 22.74,17.19 22.76,17.59 23.13,18.87 23.33,20.45 23.6,20.3 23.86,20.83 24.76,21.47 25.2,23.4 25.56,24.37 26.31,24.23 26.8,25.8 27.15,26.56 27.32,27.67 27.78,27.75 28.11,29.61 28.4,30.5 29.29,31.78 29.9,32.1 31,33.4" fill="#efe52b" stroke="#111" stroke-width="1.1" stroke-linejoin="round"/>
<polyline points="4.2,33.7 4.2,33.7 4.45,35.98 4.7,37.65 4.95,38.87 5.2,39.76 5.45,40.42 5.7,40.89 5.95,41.24 6.2,41.5 6.45,41.69 6.7,41.82 6.95,41.92 7.2,42 7.45,42.05 7.7,42.09 7.95,42.12 8.2,42.14 8.45,42.16 8.7,42.17 8.95,42.17 9.2,42.18 9.45,42.19 9.7,42.19 9.95,42.19 10.2,42.19 10.45,42.19 10.6,42.2" fill="none" stroke="#000" stroke-width="0.75"/>
<polyline points="4.2,42.5 4.2,42.5 4.45,44.3 4.7,45.7 4.95,46.8 5.2,47.65 5.45,48.31 5.7,48.83 5.95,49.23 6.2,49.55 6.45,49.79 6.7,49.98 6.95,50.13 7.2,50.24 7.45,50.33 7.7,50.4 7.95,50.46 8.2,50.5 8.45,50.53 8.7,50.56 8.95,50.58 9.2,50.59 9.45,50.61 9.7,50.62 9.95,50.62 10.2,50.63 10.45,50.63 10.7,50.64 10.95,50.64 11.2,50.64 11.45,50.64 11.7,50.64 11.95,50.65 12.2,50.65" fill="none" stroke="#000" stroke-width="0.75"/>
<polygon points="4.2,50.95 4.2,50.95 4.53,52.2 4.87,53.26 5.2,54.16 5.53,54.91 5.87,55.56 6.2,56.1 6.53,56.56 6.87,56.95 7.2,57.28 7.53,57.56 7.87,57.8 8.2,58 8.53,58.17 8.87,58.31 9.2,58.43 9.53,58.53 9.87,58.62 10.2,58.69 10.53,58.76 10.87,58.81 11.2,58.85 11.53,58.89 11.87,58.92 12.2,58.95 12.53,58.97 12.87,58.99 13.2,59.01 13.53,59.02 13.87,59.04 14.2,59.05 14.53,59.05 14.87,59.06 15.2,59.07 15.53,59.07 15.87,59.08 16.2,59.08 16.53,59.08 16.87,59.09 17.2,59.09 17.53,59.09 17.87,59.09 18.2,59.09 18.53,59.09 18.87,59.09 19.2,59.1 19.53,59.1 19.87,59.1 20.2,59.1 4.2,59.1" fill="#000" stroke="#000" stroke-width="0.6"/>
<line x1="0" y1="33.4" x2="41.9" y2="33.4" stroke="#333" stroke-width="0.9"/>
<line x1="0" y1="42.2" x2="41.9" y2="42.2" stroke="#747474" stroke-width="1.1"/>
<line x1="0" y1="50.65" x2="41.9" y2="50.65" stroke="#747474" stroke-width="1.1"/>
<line x1="4.2" y1="12.4" x2="4.2" y2="59.1" stroke="#000" stroke-width="1"/>
<rect x="0" y="0" width="41.9" height="59.1" fill="none" stroke="#000" stroke-width="1.15"/>
<path d="M1 59.1v2.4M1.9 59.1v2.4M2.7 59.1v2.4M3.4 59.1v2.4M4.4 59.1v3.2M6.96 59.1v2.5M8.46 59.1v2.5M9.52 59.1v2.5M10.34 59.1v2.5M11.01 59.1v2.5M11.58 59.1v2.5M12.08 59.1v2.5M12.51 59.1v2.5M12.9 59.1v3.2M15.46 59.1v2.5M16.96 59.1v2.5M18.02 59.1v2.5M18.84 59.1v2.5M19.51 59.1v2.5M20.08 59.1v2.5M20.58 59.1v2.5M21.01 59.1v2.5M21.4 59.1v3.2M23.96 59.1v2.5M25.46 59.1v2.5M26.52 59.1v2.5M27.34 59.1v2.5M28.01 59.1v2.5M28.58 59.1v2.5M29.08 59.1v2.5M29.51 59.1v2.5M29.9 59.1v3.2M32.46 59.1v2.5M33.96 59.1v2.5M35.02 59.1v2.5M35.84 59.1v2.5M36.51 59.1v2.5M37.08 59.1v2.5M37.58 59.1v2.5M38.01 59.1v2.5" stroke="#000" stroke-width="0.85" fill="none"/>
</g>
<g transform="translate(162.4,89.6)">
<rect x="0" y="0" width="41.9" height="59.5" fill="#fff"/>
<polygon points="10.2,33.4 11.27,33.2 12.33,33 13.4,32.8 14.13,31.67 15,31.5 16.1,30.8 17.3,30.7 17.84,30.31 18.9,29.2 20.5,29.9 21.18,28.98 22,28.4 23.18,27.56 24.4,27.6 26,27.6 27.6,26.8 28.72,26 29.1,25.2 29.63,24.32 30.01,23.57 30.7,22.1 30.88,20.81 30.75,19.87 30.8,18.85 31.29,18.72 31.16,18.47 31.27,16.06 31.4,15.46 31.5,14.2 31.57,13.7 31.97,11.69 32.02,11.25 31.98,10.43 31.92,8.87 32.27,9 32.3,7.9 32.52,6.78 32.71,4.98 32.74,4.56 33.1,3.9 33.4,5.14 33.77,5.59 34.2,7.1 34.48,7.88 34.78,9.09 35.41,10.48 35.5,11 35.57,12.45 35.8,12.58 36.07,13.74 36.05,14.91 36.12,15.46 36,16.15 36.17,17.75 36.59,18.29 36.59,20.34 36.7,20.5 36.94,21.25 37.02,22.91 36.99,22.97 37.02,24.88 37.49,25.37 37.34,26.81 37.52,27.12 37.69,27.68 37.8,29.2 38.44,29.53 38.9,30.7 40.2,31.5 41,32.8 41.9,33.2 41.9,33.4" fill="#faf8cd" stroke="#111" stroke-width="1.1" stroke-linejoin="round"/>
<polyline points="4.2,33.7 4.2,33.7 4.45,36.06 4.7,37.78 4.95,39.04 5.2,39.97 5.45,40.64 5.7,41.14 5.95,41.5 6.2,41.76 6.45,41.96 6.7,42.1 6.95,42.2 7.2,42.28 7.45,42.33 7.7,42.37 7.95,42.4 8.2,42.42 8.45,42.44 8.7,42.45 8.95,42.46 9.2,42.47 9.45,42.47 9.7,42.47 9.95,42.48 10.2,42.48 10.45,42.48 10.6,42.48" fill="none" stroke="#000" stroke-width="0.75"/>
<polyline points="4.2,42.78 4.2,42.78 4.45,44.99 4.7,46.6 4.95,47.78 5.2,48.64 5.45,49.27 5.7,49.73 5.95,50.07 6.2,50.32 6.45,50.5 6.7,50.63 6.95,50.73 7.2,50.8 7.45,50.85 7.7,50.89 7.95,50.92 8.2,50.94 8.45,50.95 8.7,50.96 8.95,50.97 9.2,50.98 9.45,50.98 9.7,50.98 9.95,50.99 10.2,50.99 10.45,50.99 10.6,50.99" fill="none" stroke="#000" stroke-width="0.75"/>
<polyline points="4.2,51.29 4.2,51.29 4.45,53.28 4.7,54.79 4.95,55.93 5.2,56.8 5.45,57.45 5.7,57.95 5.95,58.33 6.2,58.61 6.45,58.83 6.7,58.99 6.95,59.11 7.2,59.21 7.45,59.28 7.7,59.33 7.95,59.37 8.2,59.4 8.45,59.43 8.7,59.44 8.95,59.46 9.2,59.47 9.45,59.48 9.7,59.48 9.95,59.49 10.2,59.49 10.45,59.49 10.7,59.49 10.95,59.5 11.2,59.5 11.4,59.5" fill="none" stroke="#000" stroke-width="0.75"/>
<line x1="0" y1="33.4" x2="41.9" y2="33.4" stroke="#333" stroke-width="0.9"/>
<line x1="0" y1="42.48" x2="41.9" y2="42.48" stroke="#6a6a6a" stroke-width="1.1"/>
<line x1="0" y1="50.99" x2="41.9" y2="50.99" stroke="#6a6a6a" stroke-width="1.1"/>
<line x1="4.2" y1="12.4" x2="4.2" y2="59.5" stroke="#000" stroke-width="1"/>
<rect x="0" y="0" width="41.9" height="59.5" fill="none" stroke="#000" stroke-width="1.15"/>
<path d="M1 59.5v2.4M1.9 59.5v2.4M2.7 59.5v2.4M3.4 59.5v2.4M4.4 59.5v3.2M6.96 59.5v2.5M8.46 59.5v2.5M9.52 59.5v2.5M10.34 59.5v2.5M11.01 59.5v2.5M11.58 59.5v2.5M12.08 59.5v2.5M12.51 59.5v2.5M12.9 59.5v3.2M15.46 59.5v2.5M16.96 59.5v2.5M18.02 59.5v2.5M18.84 59.5v2.5M19.51 59.5v2.5M20.08 59.5v2.5M20.58 59.5v2.5M21.01 59.5v2.5M21.4 59.5v3.2M23.96 59.5v2.5M25.46 59.5v2.5M26.52 59.5v2.5M27.34 59.5v2.5M28.01 59.5v2.5M28.58 59.5v2.5M29.08 59.5v2.5M29.51 59.5v2.5M29.9 59.5v3.2M32.46 59.5v2.5M33.96 59.5v2.5M35.02 59.5v2.5M35.84 59.5v2.5M36.51 59.5v2.5M37.08 59.5v2.5M37.58 59.5v2.5M38.01 59.5v2.5" stroke="#000" stroke-width="0.85" fill="none"/>
</g>
<g transform="translate(213.7,89.6)">
<rect x="0" y="0" width="41.9" height="59.5" fill="#fff"/>
<polygon points="12.8,33.4 13,31.85 13.01,32.01 13.22,29.91 13.54,29.87 13.32,28.08 13.73,28.1 13.8,26.8 14.09,26.63 14.04,24.87 14.18,25.27 14.19,22.65 14.5,22.1 15.6,21.3 16.9,22.1 17.29,21.08 17.62,19.79 18,18.9 18.42,18.1 18.67,17.57 19.07,15.19 19.25,14.43 19.6,14.2 19.92,12.5 20.27,11.89 20.55,12.97 20.68,10.78 21.2,9.4 21.57,8.28 21.81,7.4 21.87,6.53 22.3,5.5 22.63,4.98 23.2,3.9 24,5.5 24.8,4.7 25.27,6.84 25.9,7.1 26.03,8.36 26.08,9.41 26.28,10.35 26.53,11.4 26.45,11.75 26.7,12.6 27.37,11.78 27.9,10.2 29.1,11 29.34,12.78 29.78,13.2 30.03,14.02 30.21,14.93 30.6,15.8 30.77,16.19 31.28,17.9 31.44,18.99 31.62,19.79 31.86,20.39 31.92,22.09 32.2,22.1 32.81,22.69 32.99,24.1 32.99,25.36 33.75,27.08 33.8,26.8 34.45,27.92 34.73,28.93 35.4,29.9 35.96,30.64 36.51,32.06 36.9,32.3 38.1,32.85 39.3,33.4" fill="#504810" stroke="#111" stroke-width="1.1" stroke-linejoin="round"/>
<polyline points="4.2,33.7 4.2,33.7 4.45,36.06 4.7,37.78 4.95,39.04 5.2,39.97 5.45,40.64 5.7,41.14 5.95,41.5 6.2,41.76 6.45,41.96 6.7,42.1 6.95,42.2 7.2,42.28 7.45,42.33 7.7,42.37 7.95,42.4 8.2,42.42 8.45,42.44 8.7,42.45 8.95,42.46 9.2,42.47 9.45,42.47 9.7,42.47 9.95,42.48 10.2,42.48 10.45,42.48 10.6,42.48" fill="none" stroke="#000" stroke-width="0.75"/>
<polyline points="4.2,42.78 4.2,42.78 4.45,44.99 4.7,46.6 4.95,47.78 5.2,48.64 5.45,49.27 5.7,49.73 5.95,50.07 6.2,50.32 6.45,50.5 6.7,50.63 6.95,50.73 7.2,50.8 7.45,50.85 7.7,50.89 7.95,50.92 8.2,50.94 8.45,50.95 8.7,50.96 8.95,50.97 9.2,50.98 9.45,50.98 9.7,50.98 9.95,50.99 10.2,50.99 10.45,50.99 10.6,50.99" fill="none" stroke="#000" stroke-width="0.75"/>
<polyline points="4.2,51.29 4.2,51.29 4.45,53.28 4.7,54.79 4.95,55.93 5.2,56.8 5.45,57.45 5.7,57.95 5.95,58.33 6.2,58.61 6.45,58.83 6.7,58.99 6.95,59.11 7.2,59.21 7.45,59.28 7.7,59.33 7.95,59.37 8.2,59.4 8.45,59.43 8.7,59.44 8.95,59.46 9.2,59.47 9.45,59.48 9.7,59.48 9.95,59.49 10.2,59.49 10.45,59.49 10.7,59.49 10.95,59.5 11.2,59.5 11.4,59.5" fill="none" stroke="#000" stroke-width="0.75"/>
<line x1="0" y1="33.4" x2="41.9" y2="33.4" stroke="#333" stroke-width="0.9"/>
<line x1="0" y1="42.48" x2="41.9" y2="42.48" stroke="#6a6a6a" stroke-width="1.1"/>
<line x1="0" y1="50.99" x2="41.9" y2="50.99" stroke="#6a6a6a" stroke-width="1.1"/>
<line x1="4.2" y1="12.4" x2="4.2" y2="59.5" stroke="#000" stroke-width="1"/>
<rect x="0" y="0" width="41.9" height="59.5" fill="none" stroke="#000" stroke-width="1.15"/>
<path d="M1 59.5v2.4M1.9 59.5v2.4M2.7 59.5v2.4M3.4 59.5v2.4M4.4 59.5v3.2M6.96 59.5v2.5M8.46 59.5v2.5M9.52 59.5v2.5M10.34 59.5v2.5M11.01 59.5v2.5M11.58 59.5v2.5M12.08 59.5v2.5M12.51 59.5v2.5M12.9 59.5v3.2M15.46 59.5v2.5M16.96 59.5v2.5M18.02 59.5v2.5M18.84 59.5v2.5M19.51 59.5v2.5M20.08 59.5v2.5M20.58 59.5v2.5M21.01 59.5v2.5M21.4 59.5v3.2M23.96 59.5v2.5M25.46 59.5v2.5M26.52 59.5v2.5M27.34 59.5v2.5M28.01 59.5v2.5M28.58 59.5v2.5M29.08 59.5v2.5M29.51 59.5v2.5M29.9 59.5v3.2M32.46 59.5v2.5M33.96 59.5v2.5M35.02 59.5v2.5M35.84 59.5v2.5M36.51 59.5v2.5M37.08 59.5v2.5M37.58 59.5v2.5M38.01 59.5v2.5" stroke="#000" stroke-width="0.85" fill="none"/>
</g>
<g transform="translate(265.1,89.6)">
<rect x="0" y="0" width="41.9" height="59.5" fill="#fff"/>
<polygon points="13.7,33.4 14.13,31.78 14.43,31.46 14.9,30.7 15.46,30.03 16,28.4 16.82,27.06 17.1,26 17.56,26.55 18.4,27.6 19.7,26.8 19.99,25.05 20.56,25 20.8,23.6 21.3,23.23 21.34,22.58 21.56,21.46 21.81,19.58 21.9,18.9 22.28,17.92 22.82,17.86 23.1,15.8 23.63,14.52 24.14,14.87 24.7,12.6 25.34,11.93 25.86,10.75 26.3,9.4 26.77,8.15 27.32,7.28 27.9,6.3 28.74,5.54 29.1,3.9 29.74,4.68 30.2,6.3 30.47,6.86 30.96,8.27 31.3,9.4 31.17,10.17 31.79,12.05 32.19,11.99 32.13,12.97 32.6,14.2 32.9,15.38 33.19,15.61 33.12,17.12 33.56,18.72 33.82,18.15 34.13,19.69 34.2,20.5 34.63,20.76 34.85,22.84 35.21,23.59 35.29,24.56 35.71,24.69 35.8,26 36.23,27.5 36.67,28.05 36.98,27.68 37.3,29.9 37.78,29.46 38.46,32.06 38.6,32.3 39.7,33.4" fill="#b2b01e" stroke="#111" stroke-width="1.1" stroke-linejoin="round"/>
<polyline points="4.2,33.7 4.2,33.7 4.45,36.06 4.7,37.78 4.95,39.04 5.2,39.97 5.45,40.64 5.7,41.14 5.95,41.5 6.2,41.76 6.45,41.96 6.7,42.1 6.95,42.2 7.2,42.28 7.45,42.33 7.7,42.37 7.95,42.4 8.2,42.42 8.45,42.44 8.7,42.45 8.95,42.46 9.2,42.47 9.45,42.47 9.7,42.47 9.95,42.48 10.2,42.48 10.45,42.48 10.6,42.48" fill="none" stroke="#000" stroke-width="0.75"/>
<polyline points="4.2,42.78 4.2,42.78 4.45,44.99 4.7,46.6 4.95,47.78 5.2,48.64 5.45,49.27 5.7,49.73 5.95,50.07 6.2,50.32 6.45,50.5 6.7,50.63 6.95,50.73 7.2,50.8 7.45,50.85 7.7,50.89 7.95,50.92 8.2,50.94 8.45,50.95 8.7,50.96 8.95,50.97 9.2,50.98 9.45,50.98 9.7,50.98 9.95,50.99 10.2,50.99 10.45,50.99 10.6,50.99" fill="none" stroke="#000" stroke-width="0.75"/>
<polyline points="4.2,51.29 4.2,51.29 4.45,53.28 4.7,54.79 4.95,55.93 5.2,56.8 5.45,57.45 5.7,57.95 5.95,58.33 6.2,58.61 6.45,58.83 6.7,58.99 6.95,59.11 7.2,59.21 7.45,59.28 7.7,59.33 7.95,59.37 8.2,59.4 8.45,59.43 8.7,59.44 8.95,59.46 9.2,59.47 9.45,59.48 9.7,59.48 9.95,59.49 10.2,59.49 10.45,59.49 10.7,59.49 10.95,59.5 11.2,59.5 11.4,59.5" fill="none" stroke="#000" stroke-width="0.75"/>
<line x1="0" y1="33.4" x2="41.9" y2="33.4" stroke="#333" stroke-width="0.9"/>
<line x1="0" y1="42.48" x2="41.9" y2="42.48" stroke="#6a6a6a" stroke-width="1.1"/>
<line x1="0" y1="50.99" x2="41.9" y2="50.99" stroke="#6a6a6a" stroke-width="1.1"/>
<line x1="4.2" y1="12.4" x2="4.2" y2="59.5" stroke="#000" stroke-width="1"/>
<rect x="0" y="0" width="41.9" height="59.5" fill="none" stroke="#000" stroke-width="1.15"/>
<path d="M1 59.5v2.4M1.9 59.5v2.4M2.7 59.5v2.4M3.4 59.5v2.4M4.4 59.5v3.2M6.96 59.5v2.5M8.46 59.5v2.5M9.52 59.5v2.5M10.34 59.5v2.5M11.01 59.5v2.5M11.58 59.5v2.5M12.08 59.5v2.5M12.51 59.5v2.5M12.9 59.5v3.2M15.46 59.5v2.5M16.96 59.5v2.5M18.02 59.5v2.5M18.84 59.5v2.5M19.51 59.5v2.5M20.08 59.5v2.5M20.58 59.5v2.5M21.01 59.5v2.5M21.4 59.5v3.2M23.96 59.5v2.5M25.46 59.5v2.5M26.52 59.5v2.5M27.34 59.5v2.5M28.01 59.5v2.5M28.58 59.5v2.5M29.08 59.5v2.5M29.51 59.5v2.5M29.9 59.5v3.2M32.46 59.5v2.5M33.96 59.5v2.5M35.02 59.5v2.5M35.84 59.5v2.5M36.51 59.5v2.5M37.08 59.5v2.5M37.58 59.5v2.5M38.01 59.5v2.5" stroke="#000" stroke-width="0.85" fill="none"/>
</g>
<g transform="translate(316.4,89.6)">
<rect x="0" y="0" width="41.9" height="59.5" fill="#fff"/>
<polygon points="12.6,33.4 13.63,32.41 14.2,31.5 15.3,30.7 15.63,31.11 16.5,32.3 17.3,32.85 18.1,33.4 19.3,32.85 20.5,32.3 20.97,31.47 21.34,30.57 21.55,29.35 22,28.4 23.2,27.6 23.58,28.29 24.15,29.52 24.4,30.7 24.66,30.02 25.28,29.03 25.7,27.6 26.1,27.2 25.76,25.9 25.95,24.94 26.25,24.39 26.78,22.49 26.66,20.68 26.8,20.5 26.89,19.11 27.23,18.35 27.34,17.7 27.19,17.28 27.57,16.76 27.66,14.32 27.9,14.2 29.1,13.4 29.7,14.7 30,14.71 30.4,15.8 30.73,15.06 30.88,13.96 30.78,12.66 31.16,12.54 31.3,11.26 31.48,10.48 31.5,9.4 31.87,9.08 32.01,7.93 31.98,6.25 32.6,5.5 33.12,6.97 33.6,7.9 33.7,9.26 34.27,9.78 34.7,11 35.08,9.2 34.96,9.8 35.64,8.46 35.75,6.68 35.8,6.3 36.34,8.11 36.13,7.54 36.72,9.29 36.66,9.48 37,11 37.32,11.44 37.37,12.67 37.59,14.24 37.59,15.07 37.74,16.4 37.72,16.11 37.95,18.17 38.1,18.48 38.18,21.31 38.3,20.5 38.53,21.79 38.78,22.39 38.79,23.96 39.06,23.82 38.99,25.89 39.13,25.1 39.24,26.85 39.4,28.4 39.51,29.14 39.88,30.86 39.93,31.91 40.51,32.12 40.5,33.1 40.8,33.4" fill="#faf0a0" stroke="#111" stroke-width="1.1" stroke-linejoin="round"/>
<polyline points="4.2,33.7 4.2,33.7 4.45,36.06 4.7,37.78 4.95,39.04 5.2,39.97 5.45,40.64 5.7,41.14 5.95,41.5 6.2,41.76 6.45,41.96 6.7,42.1 6.95,42.2 7.2,42.28 7.45,42.33 7.7,42.37 7.95,42.4 8.2,42.42 8.45,42.44 8.7,42.45 8.95,42.46 9.2,42.47 9.45,42.47 9.7,42.47 9.95,42.48 10.2,42.48 10.45,42.48 10.6,42.48" fill="none" stroke="#000" stroke-width="0.75"/>
<polyline points="4.2,42.78 4.2,42.78 4.45,44.99 4.7,46.6 4.95,47.78 5.2,48.64 5.45,49.27 5.7,49.73 5.95,50.07 6.2,50.32 6.45,50.5 6.7,50.63 6.95,50.73 7.2,50.8 7.45,50.85 7.7,50.89 7.95,50.92 8.2,50.94 8.45,50.95 8.7,50.96 8.95,50.97 9.2,50.98 9.45,50.98 9.7,50.98 9.95,50.99 10.2,50.99 10.45,50.99 10.6,50.99" fill="none" stroke="#000" stroke-width="0.75"/>
<polyline points="4.2,51.29 4.2,51.29 4.45,53.28 4.7,54.79 4.95,55.93 5.2,56.8 5.45,57.45 5.7,57.95 5.95,58.33 6.2,58.61 6.45,58.83 6.7,58.99 6.95,59.11 7.2,59.21 7.45,59.28 7.7,59.33 7.95,59.37 8.2,59.4 8.45,59.43 8.7,59.44 8.95,59.46 9.2,59.47 9.45,59.48 9.7,59.48 9.95,59.49 10.2,59.49 10.45,59.49 10.7,59.49 10.95,59.5 11.2,59.5 11.4,59.5" fill="none" stroke="#000" stroke-width="0.75"/>
<line x1="0" y1="33.4" x2="41.9" y2="33.4" stroke="#333" stroke-width="0.9"/>
<line x1="0" y1="42.48" x2="41.9" y2="42.48" stroke="#6a6a6a" stroke-width="1.1"/>
<line x1="0" y1="50.99" x2="41.9" y2="50.99" stroke="#6a6a6a" stroke-width="1.1"/>
<line x1="4.2" y1="12.4" x2="4.2" y2="59.5" stroke="#000" stroke-width="1"/>
<rect x="0" y="0" width="41.9" height="59.5" fill="none" stroke="#000" stroke-width="1.15"/>
<path d="M1 59.5v2.4M1.9 59.5v2.4M2.7 59.5v2.4M3.4 59.5v2.4M4.4 59.5v3.2M6.96 59.5v2.5M8.46 59.5v2.5M9.52 59.5v2.5M10.34 59.5v2.5M11.01 59.5v2.5M11.58 59.5v2.5M12.08 59.5v2.5M12.51 59.5v2.5M12.9 59.5v3.2M15.46 59.5v2.5M16.96 59.5v2.5M18.02 59.5v2.5M18.84 59.5v2.5M19.51 59.5v2.5M20.08 59.5v2.5M20.58 59.5v2.5M21.01 59.5v2.5M21.4 59.5v3.2M23.96 59.5v2.5M25.46 59.5v2.5M26.52 59.5v2.5M27.34 59.5v2.5M28.01 59.5v2.5M28.58 59.5v2.5M29.08 59.5v2.5M29.51 59.5v2.5M29.9 59.5v3.2M32.46 59.5v2.5M33.96 59.5v2.5M35.02 59.5v2.5M35.84 59.5v2.5M36.51 59.5v2.5M37.08 59.5v2.5M37.58 59.5v2.5M38.01 59.5v2.5" stroke="#000" stroke-width="0.85" fill="none"/>
</g>
<g transform="translate(367.7,89.6)">
<rect x="0" y="0" width="41.9" height="59.5" fill="#fff"/>
<polygon points="13.5,33.4 13.81,33.01 13.53,30.71 14.09,30.35 13.92,29.33 14.3,28.4 15.07,27.35 15.4,26.8 17,26 17.96,24.76 18.6,24.9 19.47,25.71 20.2,26 20.49,25.41 21.22,23.99 21.26,22.88 21.7,22.1 22.23,20.2 22.9,19.7 23.8,20.5 24.21,19.93 24.33,18.94 24.51,17.97 24.66,17.24 24.9,15.8 25.17,15.34 25.26,13.01 25.66,12.71 26,11.8 26.32,10.17 26.93,9.83 27.3,8.7 27.47,8.2 28.05,7.04 28.46,6.1 28.5,5 29.3,6.3 29.85,7.27 30.4,8.7 30.67,9.76 31.09,10.63 31.3,11.61 31.7,12.6 31.92,13.28 32.19,13.65 32.35,14.76 32.63,15.67 32.81,16.92 33.09,17.64 33.3,18.9 33.25,20.58 33.76,20.95 33.76,21.41 34.19,23.28 34.32,23.89 34.75,23.93 34.8,25.2 35.08,26.5 35.53,26.98 35.64,27.63 36.23,28.94 36.4,29.9 36.96,31.39 37.45,32.69 38,33.1 38.3,33.4" fill="#acb21e" stroke="#111" stroke-width="1.1" stroke-linejoin="round"/>
<polyline points="4.2,33.7 4.2,33.7 4.45,36.06 4.7,37.78 4.95,39.04 5.2,39.97 5.45,40.64 5.7,41.14 5.95,41.5 6.2,41.76 6.45,41.96 6.7,42.1 6.95,42.2 7.2,42.28 7.45,42.33 7.7,42.37 7.95,42.4 8.2,42.42 8.45,42.44 8.7,42.45 8.95,42.46 9.2,42.47 9.45,42.47 9.7,42.47 9.95,42.48 10.2,42.48 10.45,42.48 10.6,42.48" fill="none" stroke="#000" stroke-width="0.75"/>
<polyline points="4.2,42.78 4.2,42.78 4.45,44.99 4.7,46.6 4.95,47.78 5.2,48.64 5.45,49.27 5.7,49.73 5.95,50.07 6.2,50.32 6.45,50.5 6.7,50.63 6.95,50.73 7.2,50.8 7.45,50.85 7.7,50.89 7.95,50.92 8.2,50.94 8.45,50.95 8.7,50.96 8.95,50.97 9.2,50.98 9.45,50.98 9.7,50.98 9.95,50.99 10.2,50.99 10.45,50.99 10.6,50.99" fill="none" stroke="#000" stroke-width="0.75"/>
<polyline points="4.2,51.29 4.2,51.29 4.45,53.28 4.7,54.79 4.95,55.93 5.2,56.8 5.45,57.45 5.7,57.95 5.95,58.33 6.2,58.61 6.45,58.83 6.7,58.99 6.95,59.11 7.2,59.21 7.45,59.28 7.7,59.33 7.95,59.37 8.2,59.4 8.45,59.43 8.7,59.44 8.95,59.46 9.2,59.47 9.45,59.48 9.7,59.48 9.95,59.49 10.2,59.49 10.45,59.49 10.7,59.49 10.95,59.5 11.2,59.5 11.4,59.5" fill="none" stroke="#000" stroke-width="0.75"/>
<line x1="0" y1="33.4" x2="41.9" y2="33.4" stroke="#333" stroke-width="0.9"/>
<line x1="0" y1="42.48" x2="41.9" y2="42.48" stroke="#6a6a6a" stroke-width="1.1"/>
<line x1="0" y1="50.99" x2="41.9" y2="50.99" stroke="#6a6a6a" stroke-width="1.1"/>
<line x1="4.2" y1="12.4" x2="4.2" y2="59.5" stroke="#000" stroke-width="1"/>
<rect x="0" y="0" width="41.9" height="59.5" fill="none" stroke="#000" stroke-width="1.15"/>
<path d="M1 59.5v2.4M1.9 59.5v2.4M2.7 59.5v2.4M3.4 59.5v2.4M4.4 59.5v3.2M6.96 59.5v2.5M8.46 59.5v2.5M9.52 59.5v2.5M10.34 59.5v2.5M11.01 59.5v2.5M11.58 59.5v2.5M12.08 59.5v2.5M12.51 59.5v2.5M12.9 59.5v3.2M15.46 59.5v2.5M16.96 59.5v2.5M18.02 59.5v2.5M18.84 59.5v2.5M19.51 59.5v2.5M20.08 59.5v2.5M20.58 59.5v2.5M21.01 59.5v2.5M21.4 59.5v3.2M23.96 59.5v2.5M25.46 59.5v2.5M26.52 59.5v2.5M27.34 59.5v2.5M28.01 59.5v2.5M28.58 59.5v2.5M29.08 59.5v2.5M29.51 59.5v2.5M29.9 59.5v3.2M32.46 59.5v2.5M33.96 59.5v2.5M35.02 59.5v2.5M35.84 59.5v2.5M36.51 59.5v2.5M37.08 59.5v2.5M37.58 59.5v2.5M38.01 59.5v2.5" stroke="#000" stroke-width="0.85" fill="none"/>
</g>
<g transform="translate(419.1,89.6)">
<rect x="0" y="0" width="41.9" height="59.5" fill="#fff"/>
<polygon points="12.9,33.4 13.7,32.52 14.5,31.5 14.79,30.5 15.25,29.64 15.47,29.12 16,27.6 15.91,27.9 16.94,25.63 17.08,24.49 17.6,23.6 18.4,22.1 18.77,21.11 18.68,20.82 19.08,19.32 19.36,18.79 19.7,17.3 20.16,16.42 20.33,15.24 20.54,14.05 20.75,12.49 21.2,12.6 21.4,11.35 21.47,11.79 22.18,8.58 22.49,9.11 22.8,7.9 23.65,7.39 23.64,5.48 24.4,4.7 24.94,5.63 25.09,7.01 25.5,7.9 25.85,8.96 26.2,8.84 26.41,10.24 26.78,11.35 27.1,12.6 27.28,13.94 27.69,14.44 27.67,15.5 27.94,16.57 28.26,16.92 28.32,18.75 28.7,18.9 29.08,19.72 29.44,20.55 29.8,22.1 31,21.3 30.97,22.85 31.4,23.16 31.86,25.14 32.01,25.34 32.3,26 32.83,26.49 33.36,28.28 33.9,29.2 34.96,30.84 35.8,30.7 36.5,30.73 37.14,31.88 38.1,32.3 39.15,32.85 40.2,33.4" fill="#5a550f" stroke="#111" stroke-width="1.1" stroke-linejoin="round"/>
<polyline points="4.2,33.7 4.2,33.7 4.45,36.06 4.7,37.78 4.95,39.04 5.2,39.97 5.45,40.64 5.7,41.14 5.95,41.5 6.2,41.76 6.45,41.96 6.7,42.1 6.95,42.2 7.2,42.28 7.45,42.33 7.7,42.37 7.95,42.4 8.2,42.42 8.45,42.44 8.7,42.45 8.95,42.46 9.2,42.47 9.45,42.47 9.7,42.47 9.95,42.48 10.2,42.48 10.45,42.48 10.6,42.48" fill="none" stroke="#000" stroke-width="0.75"/>
<polyline points="4.2,42.78 4.2,42.78 4.45,44.99 4.7,46.6 4.95,47.78 5.2,48.64 5.45,49.27 5.7,49.73 5.95,50.07 6.2,50.32 6.45,50.5 6.7,50.63 6.95,50.73 7.2,50.8 7.45,50.85 7.7,50.89 7.95,50.92 8.2,50.94 8.45,50.95 8.7,50.96 8.95,50.97 9.2,50.98 9.45,50.98 9.7,50.98 9.95,50.99 10.2,50.99 10.45,50.99 10.6,50.99" fill="none" stroke="#000" stroke-width="0.75"/>
<polyline points="4.2,51.29 4.2,51.29 4.45,53.28 4.7,54.79 4.95,55.93 5.2,56.8 5.45,57.45 5.7,57.95 5.95,58.33 6.2,58.61 6.45,58.83 6.7,58.99 6.95,59.11 7.2,59.21 7.45,59.28 7.7,59.33 7.95,59.37 8.2,59.4 8.45,59.43 8.7,59.44 8.95,59.46 9.2,59.47 9.45,59.48 9.7,59.48 9.95,59.49 10.2,59.49 10.45,59.49 10.7,59.49 10.95,59.5 11.2,59.5 11.4,59.5" fill="none" stroke="#000" stroke-width="0.75"/>
<line x1="0" y1="33.4" x2="41.9" y2="33.4" stroke="#333" stroke-width="0.9"/>
<line x1="0" y1="42.48" x2="41.9" y2="42.48" stroke="#6a6a6a" stroke-width="1.1"/>
<line x1="0" y1="50.99" x2="41.9" y2="50.99" stroke="#6a6a6a" stroke-width="1.1"/>
<line x1="4.2" y1="12.4" x2="4.2" y2="59.5" stroke="#000" stroke-width="1"/>
<rect x="0" y="0" width="41.9" height="59.5" fill="none" stroke="#000" stroke-width="1.15"/>
<path d="M1 59.5v2.4M1.9 59.5v2.4M2.7 59.5v2.4M3.4 59.5v2.4M4.4 59.5v3.2M6.96 59.5v2.5M8.46 59.5v2.5M9.52 59.5v2.5M10.34 59.5v2.5M11.01 59.5v2.5M11.58 59.5v2.5M12.08 59.5v2.5M12.51 59.5v2.5M12.9 59.5v3.2M15.46 59.5v2.5M16.96 59.5v2.5M18.02 59.5v2.5M18.84 59.5v2.5M19.51 59.5v2.5M20.08 59.5v2.5M20.58 59.5v2.5M21.01 59.5v2.5M21.4 59.5v3.2M23.96 59.5v2.5M25.46 59.5v2.5M26.52 59.5v2.5M27.34 59.5v2.5M28.01 59.5v2.5M28.58 59.5v2.5M29.08 59.5v2.5M29.51 59.5v2.5M29.9 59.5v3.2M32.46 59.5v2.5M33.96 59.5v2.5M35.02 59.5v2.5M35.84 59.5v2.5M36.51 59.5v2.5M37.08 59.5v2.5M37.58 59.5v2.5M38.01 59.5v2.5" stroke="#000" stroke-width="0.85" fill="none"/>
</g>
<g transform="translate(470.4,89.6)">
<rect x="0" y="0" width="41.9" height="59.5" fill="#fff"/>
<polygon points="13.4,33.4 14.2,32.85 15,32.3 15.88,31.13 16.5,30.7 17.3,29.2 18.1,28.4 18.58,29.08 18.9,30.7 20.5,29.9 21.62,28.53 22.5,28.4 23.35,27.56 23.77,27.22 24.4,26 25.1,25.06 25.54,24.38 26.3,23.6 26.26,22.97 27.26,21.7 27.05,21.04 27.61,20.38 27.9,18.9 28.05,17.67 28.51,17.09 28.88,16.03 28.99,14.84 29.1,14.2 29.07,12.48 29.66,12.24 29.83,12.25 29.96,10.51 30.4,9.4 30.76,8.45 31.11,7.26 31.32,7.18 31.5,5.5 32.6,6.3 32.76,7.19 32.83,8.42 33.07,9.5 33.18,10.06 33.41,10.35 33.73,11.98 33.9,12.6 34.2,13.64 34.34,14.15 34.22,15.29 34.66,16.3 34.57,18.37 34.57,18.01 35.02,19.54 35.1,20.5 35.34,21.6 35.51,22.97 35.66,23.38 35.57,23.59 36.01,24.97 36.21,25.58 36.52,26.75 36.7,27.6 37.05,27.47 37.55,29.77 37.93,30.42 38.3,31.5 38.9,31.51 39.4,33.1 39.8,33.4" fill="#efe52b" stroke="#111" stroke-width="1.1" stroke-linejoin="round"/>
<polyline points="4.2,33.7 4.2,33.7 4.45,36.06 4.7,37.78 4.95,39.04 5.2,39.97 5.45,40.64 5.7,41.14 5.95,41.5 6.2,41.76 6.45,41.96 6.7,42.1 6.95,42.2 7.2,42.28 7.45,42.33 7.7,42.37 7.95,42.4 8.2,42.42 8.45,42.44 8.7,42.45 8.95,42.46 9.2,42.47 9.45,42.47 9.7,42.47 9.95,42.48 10.2,42.48 10.45,42.48 10.6,42.48" fill="none" stroke="#000" stroke-width="0.75"/>
<polyline points="4.2,42.78 4.2,42.78 4.45,44.99 4.7,46.6 4.95,47.78 5.2,48.64 5.45,49.27 5.7,49.73 5.95,50.07 6.2,50.32 6.45,50.5 6.7,50.63 6.95,50.73 7.2,50.8 7.45,50.85 7.7,50.89 7.95,50.92 8.2,50.94 8.45,50.95 8.7,50.96 8.95,50.97 9.2,50.98 9.45,50.98 9.7,50.98 9.95,50.99 10.2,50.99 10.45,50.99 10.6,50.99" fill="none" stroke="#000" stroke-width="0.75"/>
<polyline points="4.2,51.29 4.2,51.29 4.45,53.28 4.7,54.79 4.95,55.93 5.2,56.8 5.45,57.45 5.7,57.95 5.95,58.33 6.2,58.61 6.45,58.83 6.7,58.99 6.95,59.11 7.2,59.21 7.45,59.28 7.7,59.33 7.95,59.37 8.2,59.4 8.45,59.43 8.7,59.44 8.95,59.46 9.2,59.47 9.45,59.48 9.7,59.48 9.95,59.49 10.2,59.49 10.45,59.49 10.7,59.49 10.95,59.5 11.2,59.5 11.4,59.5" fill="none" stroke="#000" stroke-width="0.75"/>
<line x1="0" y1="33.4" x2="41.9" y2="33.4" stroke="#333" stroke-width="0.9"/>
<line x1="0" y1="42.48" x2="41.9" y2="42.48" stroke="#6a6a6a" stroke-width="1.1"/>
<line x1="0" y1="50.99" x2="41.9" y2="50.99" stroke="#6a6a6a" stroke-width="1.1"/>
<line x1="4.2" y1="12.4" x2="4.2" y2="59.5" stroke="#000" stroke-width="1"/>
<rect x="0" y="0" width="41.9" height="59.5" fill="none" stroke="#000" stroke-width="1.15"/>
<path d="M1 59.5v2.4M1.9 59.5v2.4M2.7 59.5v2.4M3.4 59.5v2.4M4.4 59.5v3.2M6.96 59.5v2.5M8.46 59.5v2.5M9.52 59.5v2.5M10.34 59.5v2.5M11.01 59.5v2.5M11.58 59.5v2.5M12.08 59.5v2.5M12.51 59.5v2.5M12.9 59.5v3.2M15.46 59.5v2.5M16.96 59.5v2.5M18.02 59.5v2.5M18.84 59.5v2.5M19.51 59.5v2.5M20.08 59.5v2.5M20.58 59.5v2.5M21.01 59.5v2.5M21.4 59.5v3.2M23.96 59.5v2.5M25.46 59.5v2.5M26.52 59.5v2.5M27.34 59.5v2.5M28.01 59.5v2.5M28.58 59.5v2.5M29.08 59.5v2.5M29.51 59.5v2.5M29.9 59.5v3.2M32.46 59.5v2.5M33.96 59.5v2.5M35.02 59.5v2.5M35.84 59.5v2.5M36.51 59.5v2.5M37.08 59.5v2.5M37.58 59.5v2.5M38.01 59.5v2.5" stroke="#000" stroke-width="0.85" fill="none"/>
</g>
<g transform="translate(162.4,161.6)">
<rect x="0" y="0" width="41.9" height="60.5" fill="#fff"/>
<polygon points="1,34.2 0.92,33.86 0.78,32.38 1.36,31.26 1.03,31.17 1.21,29.09 1.3,28.4 2.7,27.4 3.7,27 4.2,29.3 5.1,30.7 5.53,30 5.75,29.12 6.28,27.66 6.5,26.5 6.49,25.94 6.72,23.99 6.52,23.89 6.85,23.32 6.83,22.03 7.09,21.16 7.16,19.78 7,19 7.12,18.19 7.15,17.89 7.09,16.39 7.25,15.23 7.19,14.03 7.51,13.81 7.4,12.4 7.4,11.04 7.78,10.97 7.65,9.14 8.1,9.31 7.9,7.8 8.8,8.7 8.75,10.14 9.05,11.23 9.24,11.37 9.19,11.98 9.61,11.94 9.49,14.46 9.67,15.29 9.8,16.2 9.79,15 9.63,14.16 10.05,12.54 10.27,13.13 10.41,11.89 10.45,10.45 10.5,9.6 10.78,8.45 11.2,7.3 11.56,8.39 11.69,9.28 12.1,10.6 12.61,9.76 13.1,8.7 13.58,7.89 13.7,6.96 13.84,5.62 14.3,5 14.47,6.21 14.54,7.13 14.59,7.51 14.7,8.82 14.86,9.42 14.61,11.1 14.83,11.44 14.9,12.4 15.2,13.61 15.26,13.48 15.13,15.57 15.39,15.88 15.34,17 15.8,17.87 15.88,18.05 15.87,19.16 15.82,20.64 15.9,21.8 15.95,22.43 15.99,24.34 16.14,23.49 16.19,24.29 16.31,26.4 16.78,27.14 16.85,29.48 16.76,30.07 16.8,30.2 17,30.76 17.28,31.54 17.7,33 18.7,34.2" fill="#efe52b" stroke="#111" stroke-width="1.1" stroke-linejoin="round"/>
<polygon points="0.8,43.2 0.8,39.2 1.24,39.55 1.69,39.9 2.13,40.24 2.57,40.57 3.01,40.89 3.46,41.21 3.9,41.52 4.34,41.81 4.79,42.09 5.23,42.36 5.67,42.61 6.11,42.85 6.56,43.05 7,43.2 7,43.2" fill="#000" stroke="#000" stroke-width="0.5"/>
<polygon points="0.8,51.85 0.8,47.35 1.28,47.75 1.76,48.14 2.24,48.52 2.71,48.89 3.19,49.26 3.67,49.61 4.15,49.96 4.63,50.29 5.11,50.61 5.59,50.91 6.06,51.19 6.54,51.45 7.02,51.68 7.5,51.85 7.5,51.85" fill="#000" stroke="#000" stroke-width="0.5"/>
<polygon points="0.8,60.5 0.8,57.5 1.1,57.77 1.4,58.03 1.7,58.28 2,58.53 2.3,58.77 2.6,59.01 2.9,59.24 3.2,59.46 3.5,59.67 3.8,59.87 4.1,60.06 4.4,60.24 4.7,60.39 5,60.5 5,60.5" fill="#000" stroke="#000" stroke-width="0.5"/>
<line x1="0" y1="34.2" x2="41.9" y2="34.2" stroke="#333" stroke-width="0.9"/>
<line x1="0" y1="43.2" x2="41.9" y2="43.2" stroke="#7a7a7a" stroke-width="1.1"/>
<line x1="0" y1="51.85" x2="41.9" y2="51.85" stroke="#7a7a7a" stroke-width="1.1"/>
<polygon points="4.2,60.5 4.2,58.9 4.47,58.72 4.74,58.5 5.01,58.25 5.28,57.96 5.55,57.6 5.82,57.17 6.09,56.63 6.36,55.96 6.63,55.14 6.9,54.14 7.17,52.93 7.44,51.48 7.71,49.8 7.98,47.89 8.25,45.77 8.52,43.49 8.79,41.12 9.06,38.73 9.33,36.44 9.6,34.34 9.87,32.57 10.14,31.2 10.41,30.33 10.68,30 10.95,30.96 11.22,33.93 11.49,38.28 11.76,43.19 12.03,47.87 12.3,51.83 12.57,54.83 12.84,56.92 13.11,58.27 13.38,59.1 13.65,59.61 13.92,59.91 14.19,60.1 14.46,60.23 14.73,60.32 15,60.38 15,60.5" fill="#f2e634" stroke="#111" stroke-width="0.8" stroke-linejoin="round"/>
<line x1="1" y1="12" x2="1" y2="60.5" stroke="#000" stroke-width="1"/>
<rect x="0" y="0" width="41.9" height="60.5" fill="none" stroke="#000" stroke-width="1.15"/>
<path d="M1 60.5v2.4M1.9 60.5v2.4M2.7 60.5v2.4M3.4 60.5v2.4M4.4 60.5v3.2M6.96 60.5v2.5M8.46 60.5v2.5M9.52 60.5v2.5M10.34 60.5v2.5M11.01 60.5v2.5M11.58 60.5v2.5M12.08 60.5v2.5M12.51 60.5v2.5M12.9 60.5v3.2M15.46 60.5v2.5M16.96 60.5v2.5M18.02 60.5v2.5M18.84 60.5v2.5M19.51 60.5v2.5M20.08 60.5v2.5M20.58 60.5v2.5M21.01 60.5v2.5M21.4 60.5v3.2M23.96 60.5v2.5M25.46 60.5v2.5M26.52 60.5v2.5M27.34 60.5v2.5M28.01 60.5v2.5M28.58 60.5v2.5M29.08 60.5v2.5M29.51 60.5v2.5M29.9 60.5v3.2M32.46 60.5v2.5M33.96 60.5v2.5M35.02 60.5v2.5M35.84 60.5v2.5M36.51 60.5v2.5M37.08 60.5v2.5M37.58 60.5v2.5M38.01 60.5v2.5" stroke="#000" stroke-width="0.85" fill="none"/>
</g>
<g transform="translate(213.7,161.6)">
<rect x="0" y="0" width="41.9" height="60.5" fill="#fff"/>
<polygon points="0.8,34.2 1,33.66 0.67,31.97 1.06,31.61 0.63,30.71 0.8,29.21 0.8,29.13 0.77,27.56 0.7,26.9 0.84,25.89 0.8,25.77 0.65,24.51 0.83,23.54 0.8,21.93 0.76,21.71 1.03,20.84 1.04,20.21 0.86,17.87 0.94,17.23 0.84,16.68 0.72,15.94 0.7,14.84 0.74,14.89 0.55,12.95 0.8,12 0.79,12.24 1.14,14.3 1.04,14.99 1.1,16.7 1.43,16.32 1.51,17.2 1.57,19.11 1.7,19.77 1.8,20.5 1.94,21.34 3,22.8 4.3,22.1 4.46,20.62 4.54,19.51 4.97,19.52 4.86,17.85 5.17,17.73 5.52,16.04 5.4,15.8 5.72,14.5 5.78,13.89 5.98,13.9 5.89,12.22 5.98,10.92 6.12,11.33 6.5,9.4 7.01,7.21 6.97,8.17 7.16,7.01 7.62,5.37 7.8,4.7 7.94,5.83 8.31,7.35 8.23,7.54 8.56,8.45 8.92,9.26 9,10.2 10.1,9.4 10.94,9.93 11.7,11 12.08,12.37 12.09,14.07 12.49,13.87 13.36,14.82 13.3,15.8 13.42,15.9 13.63,17.94 13.54,18.97 13.79,19.9 14.17,19.71 14.14,21.45 14.4,22.1 14.5,22.72 14.64,24.14 14.44,24.65 14.94,26.82 14.81,26.57 15.11,27.85 15.3,29.2 16.05,29.19 16.32,31.49 16.9,32.3 17.84,32.98 18.73,33.84 19.6,33.8 21,34.2" fill="#a0a428" stroke="#111" stroke-width="1.1" stroke-linejoin="round"/>
<polygon points="0.8,43.2 0.8,40 1.17,40.28 1.54,40.56 1.91,40.83 2.29,41.1 2.66,41.35 3.03,41.61 3.4,41.85 3.77,42.09 4.14,42.31 4.51,42.53 4.89,42.73 5.26,42.92 5.63,43.08 6,43.2 6,43.2" fill="#000" stroke="#000" stroke-width="0.5"/>
<polygon points="0.8,51.85 0.8,48.35 1.21,48.66 1.61,48.96 2.02,49.26 2.43,49.55 2.84,49.83 3.24,50.11 3.65,50.38 4.06,50.63 4.46,50.88 4.87,51.12 5.28,51.34 5.69,51.54 6.09,51.72 6.5,51.85 6.5,51.85" fill="#000" stroke="#000" stroke-width="0.5"/>
<polygon points="0.8,60.5 0.8,58 1.06,58.22 1.33,58.44 1.59,58.65 1.86,58.86 2.12,59.06 2.39,59.26 2.65,59.45 2.91,59.63 3.18,59.81 3.44,59.98 3.71,60.14 3.97,60.28 4.24,60.41 4.5,60.5 4.5,60.5" fill="#000" stroke="#000" stroke-width="0.5"/>
<line x1="0" y1="34.2" x2="41.9" y2="34.2" stroke="#333" stroke-width="0.9"/>
<line x1="0" y1="43.2" x2="41.9" y2="43.2" stroke="#7a7a7a" stroke-width="1.1"/>
<line x1="0" y1="51.85" x2="41.9" y2="51.85" stroke="#7a7a7a" stroke-width="1.1"/>
<polygon points="4.6,60.5 4.6,58.77 4.86,58.57 5.11,58.35 5.37,58.08 5.63,57.77 5.89,57.39 6.14,56.93 6.4,56.36 6.66,55.67 6.92,54.83 7.17,53.81 7.43,52.6 7.69,51.17 7.95,49.53 8.21,47.67 8.46,45.63 8.72,43.44 8.98,41.17 9.23,38.88 9.49,36.67 9.75,34.63 10.01,32.86 10.27,31.44 10.52,30.45 10.78,29.96 11.04,30.19 11.29,32.24 11.55,35.86 11.81,40.38 12.07,45.07 12.32,49.33 12.58,52.83 12.84,55.44 13.1,57.25 13.36,58.44 13.61,59.18 13.87,59.63 14.13,59.92 14.38,60.1 14.64,60.22 14.9,60.31 14.9,60.5" fill="#f2e634" stroke="#111" stroke-width="0.8" stroke-linejoin="round"/>
<line x1="1" y1="12" x2="1" y2="60.5" stroke="#000" stroke-width="1"/>
<rect x="0" y="0" width="41.9" height="60.5" fill="none" stroke="#000" stroke-width="1.15"/>
<path d="M1 60.5v2.4M1.9 60.5v2.4M2.7 60.5v2.4M3.4 60.5v2.4M4.4 60.5v3.2M6.96 60.5v2.5M8.46 60.5v2.5M9.52 60.5v2.5M10.34 60.5v2.5M11.01 60.5v2.5M11.58 60.5v2.5M12.08 60.5v2.5M12.51 60.5v2.5M12.9 60.5v3.2M15.46 60.5v2.5M16.96 60.5v2.5M18.02 60.5v2.5M18.84 60.5v2.5M19.51 60.5v2.5M20.08 60.5v2.5M20.58 60.5v2.5M21.01 60.5v2.5M21.4 60.5v3.2M23.96 60.5v2.5M25.46 60.5v2.5M26.52 60.5v2.5M27.34 60.5v2.5M28.01 60.5v2.5M28.58 60.5v2.5M29.08 60.5v2.5M29.51 60.5v2.5M29.9 60.5v3.2M32.46 60.5v2.5M33.96 60.5v2.5M35.02 60.5v2.5M35.84 60.5v2.5M36.51 60.5v2.5M37.08 60.5v2.5M37.58 60.5v2.5M38.01 60.5v2.5" stroke="#000" stroke-width="0.85" fill="none"/>
</g>
<g transform="translate(265.1,161.6)">
<rect x="0" y="0" width="41.9" height="60.5" fill="#fff"/>
<polygon points="0.8,34.2 1.28,33.52 1.8,32.3 3.4,31.5 4.28,32.5 5,29.9 5.6,29.24 5.95,28.1 6.6,27.6 7.06,27.08 7.63,26.42 8.2,25.2 8.49,23.23 8.89,22.68 9.7,22.1 10.19,20.99 10.63,20.46 11.3,18.9 11.92,17.75 12.21,17.22 12.9,15.8 13.04,15.64 13.33,14.51 13.42,12.7 14.24,11.89 14.1,11 14.56,9.73 14.48,9.82 14.98,8.77 14.9,7.08 15.2,6.3 15.66,5.94 16,4.4 16.34,6.39 16.54,5.55 16.94,6.41 17.1,7.9 17.18,9.17 17.53,9.24 17.72,10.4 17.63,10.99 17.65,12.12 18.22,14.73 18.1,14.2 18.36,14.86 18.57,15.23 18.46,17.73 18.69,17.97 18.73,19.38 18.88,19.68 19.19,20.89 19.2,22.1 19.38,23.12 19.42,23.18 19.53,24.82 19.7,25.94 20.04,26.18 19.95,28.44 20.02,29.26 20.3,29.9 20.6,30.12 20.94,32.47 21.32,31.73 21.6,33.4 22,34.2" fill="#faf5d5" stroke="#111" stroke-width="1.1" stroke-linejoin="round"/>
<polygon points="0.8,43.2 0.8,39.4 1.21,39.73 1.61,40.06 2.02,40.39 2.43,40.7 2.84,41.01 3.24,41.31 3.65,41.6 4.06,41.88 4.46,42.15 4.87,42.4 5.28,42.64 5.69,42.86 6.09,43.06 6.5,43.2 6.5,43.2" fill="#000" stroke="#000" stroke-width="0.5"/>
<polygon points="0.8,51.85 0.8,47.65 1.21,48.02 1.61,48.38 2.02,48.74 2.43,49.09 2.84,49.43 3.24,49.76 3.65,50.08 4.06,50.39 4.46,50.69 4.87,50.97 5.28,51.24 5.69,51.48 6.09,51.69 6.5,51.85 6.5,51.85" fill="#000" stroke="#000" stroke-width="0.5"/>
<polygon points="0.8,60.5 0.8,58 1.06,58.22 1.33,58.44 1.59,58.65 1.86,58.86 2.12,59.06 2.39,59.26 2.65,59.45 2.91,59.63 3.18,59.81 3.44,59.98 3.71,60.14 3.97,60.28 4.24,60.41 4.5,60.5 4.5,60.5" fill="#000" stroke="#000" stroke-width="0.5"/>
<line x1="0" y1="34.2" x2="41.9" y2="34.2" stroke="#333" stroke-width="0.9"/>
<line x1="0" y1="43.2" x2="41.9" y2="43.2" stroke="#7a7a7a" stroke-width="1.1"/>
<line x1="0" y1="51.85" x2="41.9" y2="51.85" stroke="#7a7a7a" stroke-width="1.1"/>
<polygon points="3.4,60.5 3.4,59.79 3.68,59.7 3.96,59.59 4.23,59.48 4.51,59.35 4.79,59.21 5.06,59.05 5.34,58.87 5.62,58.68 5.9,58.45 6.17,58.18 6.45,57.86 6.73,57.46 7.01,56.98 7.29,56.37 7.56,55.62 7.84,54.68 8.12,53.53 8.39,52.14 8.67,50.5 8.95,48.6 9.23,46.46 9.5,44.11 9.78,41.63 10.06,39.1 10.34,36.62 10.61,34.32 10.89,32.33 11.17,30.75 11.45,29.7 11.72,29.22 12,29.85 12.28,32.68 12.56,37.13 12.83,42.29 13.11,47.28 13.39,51.5 13.67,54.69 13.95,56.88 14.22,58.29 14.5,59.14 14.5,60.5" fill="#f2e634" stroke="#111" stroke-width="0.8" stroke-linejoin="round"/>
<line x1="1" y1="12" x2="1" y2="60.5" stroke="#000" stroke-width="1"/>
<rect x="0" y="0" width="41.9" height="60.5" fill="none" stroke="#000" stroke-width="1.15"/>
<path d="M1 60.5v2.4M1.9 60.5v2.4M2.7 60.5v2.4M3.4 60.5v2.4M4.4 60.5v3.2M6.96 60.5v2.5M8.46 60.5v2.5M9.52 60.5v2.5M10.34 60.5v2.5M11.01 60.5v2.5M11.58 60.5v2.5M12.08 60.5v2.5M12.51 60.5v2.5M12.9 60.5v3.2M15.46 60.5v2.5M16.96 60.5v2.5M18.02 60.5v2.5M18.84 60.5v2.5M19.51 60.5v2.5M20.08 60.5v2.5M20.58 60.5v2.5M21.01 60.5v2.5M21.4 60.5v3.2M23.96 60.5v2.5M25.46 60.5v2.5M26.52 60.5v2.5M27.34 60.5v2.5M28.01 60.5v2.5M28.58 60.5v2.5M29.08 60.5v2.5M29.51 60.5v2.5M29.9 60.5v3.2M32.46 60.5v2.5M33.96 60.5v2.5M35.02 60.5v2.5M35.84 60.5v2.5M36.51 60.5v2.5M37.08 60.5v2.5M37.58 60.5v2.5M38.01 60.5v2.5" stroke="#000" stroke-width="0.85" fill="none"/>
</g>
<g transform="translate(316.4,161.6)">
<rect x="0" y="0" width="41.9" height="60.5" fill="#fff"/>
<polygon points="0.8,34.2 2.3,33.4 2.67,33.58 3.33,31.76 3.9,30.7 4.35,29.23 4.95,28.37 5.5,27.6 6.05,26.79 6.46,25.7 6.71,24.81 7.1,23.6 7.55,22.72 8.3,22.1 8.83,22.44 9.4,24.4 9.71,23.37 9.74,22.7 10.03,21.27 10.44,21.2 10.59,19.85 11,18.9 11.1,17.25 11.46,16.84 11.64,15.15 11.71,14.49 11.93,13.76 12.32,13.17 12.31,12.12 12.6,11 13.18,10.14 13.7,9.32 14.2,7.9 14.58,6 15.33,5.53 15.7,4.7 16.04,5.54 15.95,6.69 16.43,7.51 16.35,8.63 16.8,9.4 16.89,10.49 17.08,10.15 17.16,11.14 17.9,13.73 17.78,14.46 17.95,15.79 18.1,15.8 17.89,16.26 18.08,18.16 18.48,17.28 18.61,19.7 18.89,21.16 19.13,21.72 19.26,22.3 19.4,23.6 19.41,25.73 19.78,25.68 19.85,26.34 19.95,26.78 20.34,28.66 20.25,30.13 20.5,30.7 21.03,31.02 20.74,32.91 21.3,33.4 21.6,34.2" fill="#faf7cc" stroke="#111" stroke-width="1.1" stroke-linejoin="round"/>
<polygon points="0.8,43.2 0.8,43.2 1.23,40.92 1.65,39.72 2.08,38.88 2.5,38.31 2.92,37.96 3.35,37.81 3.78,37.83 4.2,38.01 4.62,38.33 5.05,38.76 5.47,39.3 5.9,39.93 6.32,40.63 6.75,41.4 7.17,42.23 7.6,43.2 7.6,43.2" fill="#2c2a0c" stroke="#000" stroke-width="0.5"/>
<polygon points="0.8,51.85 0.8,51.85 1.2,49.24 1.6,47.85 2,46.89 2.4,46.23 2.8,45.83 3.2,45.66 3.6,45.69 4,45.89 4.4,46.26 4.8,46.76 5.2,47.37 5.6,48.09 6,48.9 6.4,49.78 6.8,50.74 7.2,51.85 7.2,51.85" fill="#2c2a0c" stroke="#000" stroke-width="0.5"/>
<polygon points="0.8,60.5 0.8,58 1.06,58.22 1.33,58.44 1.59,58.65 1.86,58.86 2.12,59.06 2.39,59.26 2.65,59.45 2.91,59.63 3.18,59.81 3.44,59.98 3.71,60.14 3.97,60.28 4.24,60.41 4.5,60.5 4.5,60.5" fill="#000" stroke="#000" stroke-width="0.5"/>
<line x1="0" y1="34.2" x2="41.9" y2="34.2" stroke="#333" stroke-width="0.9"/>
<line x1="0" y1="43.2" x2="41.9" y2="43.2" stroke="#7a7a7a" stroke-width="1.1"/>
<line x1="0" y1="51.85" x2="41.9" y2="51.85" stroke="#7a7a7a" stroke-width="1.1"/>
<polygon points="3.1,60.5 3.1,59.97 3.4,59.89 3.7,59.8 3.99,59.69 4.29,59.58 4.59,59.45 4.88,59.31 5.18,59.15 5.48,58.98 5.78,58.78 6.08,58.55 6.37,58.28 6.67,57.96 6.97,57.56 7.27,57.06 7.56,56.43 7.86,55.62 8.16,54.61 8.46,53.36 8.75,51.83 9.05,50 9.35,47.87 9.64,45.49 9.94,42.9 10.24,40.19 10.54,37.5 10.84,34.96 11.13,32.73 11.43,30.95 11.73,29.75 12.03,29.22 12.32,29.98 12.62,33.24 12.92,38.22 13.21,43.78 13.51,48.91 13.81,53.01 14.11,55.91 14.4,57.77 14.7,58.89 15,59.52 15,60.5" fill="#f2e634" stroke="#111" stroke-width="0.8" stroke-linejoin="round"/>
<line x1="1" y1="12" x2="1" y2="60.5" stroke="#000" stroke-width="1"/>
<rect x="0" y="0" width="41.9" height="60.5" fill="none" stroke="#000" stroke-width="1.15"/>
<path d="M1 60.5v2.4M1.9 60.5v2.4M2.7 60.5v2.4M3.4 60.5v2.4M4.4 60.5v3.2M6.96 60.5v2.5M8.46 60.5v2.5M9.52 60.5v2.5M10.34 60.5v2.5M11.01 60.5v2.5M11.58 60.5v2.5M12.08 60.5v2.5M12.51 60.5v2.5M12.9 60.5v3.2M15.46 60.5v2.5M16.96 60.5v2.5M18.02 60.5v2.5M18.84 60.5v2.5M19.51 60.5v2.5M20.08 60.5v2.5M20.58 60.5v2.5M21.01 60.5v2.5M21.4 60.5v3.2M23.96 60.5v2.5M25.46 60.5v2.5M26.52 60.5v2.5M27.34 60.5v2.5M28.01 60.5v2.5M28.58 60.5v2.5M29.08 60.5v2.5M29.51 60.5v2.5M29.9 60.5v3.2M32.46 60.5v2.5M33.96 60.5v2.5M35.02 60.5v2.5M35.84 60.5v2.5M36.51 60.5v2.5M37.08 60.5v2.5M37.58 60.5v2.5M38.01 60.5v2.5" stroke="#000" stroke-width="0.85" fill="none"/>
</g>
<g transform="translate(367.7,161.6)">
<rect x="0" y="0" width="41.9" height="60.5" fill="#fff"/>
<polygon points="0.8,34.2 0.65,32.81 1.55,32.6 1.2,30.7 2.48,30.69 3.47,30.87 4.4,29.9 5.39,29.86 5.75,28.76 6.8,28.4 7.66,26.67 8.3,26.8 8.52,26.15 8.72,23.75 8.82,24.06 9.56,22.78 9.57,23.03 9.6,21.56 9.9,20.5 10.18,19.31 10.19,18.06 10.18,18.43 10.84,16.12 10.74,15.77 10.64,14.12 10.61,14.24 11.2,12.6 11.29,11.93 11.23,10.72 11.85,10.34 12,9.09 12.15,7.28 12.3,7.1 12.69,6.16 13.1,4.7 13.32,3.92 13.4,6.64 14.03,7.55 14.28,8.41 14.3,9.4 14.32,10.09 14.43,11.52 14.77,11.44 14.95,13.35 14.92,13.86 15.04,15.59 15.3,16.19 15.4,17.3 15.55,17.84 15.7,18.39 15.84,21.61 15.57,20.88 15.9,21.41 16.14,22.58 16.3,24.03 16.41,24.78 16.24,26.6 16.5,26.8 16.7,27.66 17.12,28.58 17,29.36 17.13,29.74 17.73,31.33 17.8,32.3 18.47,33.08 19.4,33.8 20,34.2" fill="#f0eb5a" stroke="#111" stroke-width="1.1" stroke-linejoin="round"/>
<polygon points="0.8,43.2 0.8,41.2 1.06,41.37 1.33,41.55 1.59,41.72 1.86,41.88 2.12,42.05 2.39,42.2 2.65,42.36 2.91,42.5 3.18,42.64 3.44,42.78 3.71,42.91 3.97,43.02 4.24,43.12 4.5,43.2 4.5,43.2" fill="#000" stroke="#000" stroke-width="0.5"/>
<polygon points="0.8,51.85 0.8,49.85 1.06,50.03 1.33,50.2 1.59,50.37 1.86,50.54 2.12,50.7 2.39,50.85 2.65,51.01 2.91,51.15 3.18,51.3 3.44,51.43 3.71,51.56 3.97,51.67 4.24,51.77 4.5,51.85 4.5,51.85" fill="#000" stroke="#000" stroke-width="0.5"/>
<polygon points="0.8,60.5 0.8,58.5 1.03,58.68 1.26,58.85 1.49,59.02 1.71,59.19 1.94,59.35 2.17,59.51 2.4,59.66 2.63,59.81 2.86,59.95 3.09,60.08 3.31,60.21 3.54,60.32 3.77,60.43 4,60.5 4,60.5" fill="#000" stroke="#000" stroke-width="0.5"/>
<line x1="0" y1="34.2" x2="41.9" y2="34.2" stroke="#333" stroke-width="0.9"/>
<line x1="0" y1="43.2" x2="41.9" y2="43.2" stroke="#7a7a7a" stroke-width="1.1"/>
<line x1="0" y1="51.85" x2="41.9" y2="51.85" stroke="#7a7a7a" stroke-width="1.1"/>
<polygon points="2.8,60.5 2.8,59.61 3.09,59.49 3.39,59.36 3.69,59.21 3.98,59.04 4.28,58.85 4.57,58.64 4.87,58.39 5.16,58.1 5.46,57.73 5.75,57.29 6.04,56.72 6.34,56.01 6.63,55.12 6.93,54 7.22,52.63 7.52,50.99 7.82,49.06 8.11,46.86 8.41,44.44 8.7,41.86 9,39.24 9.29,36.69 9.59,34.37 9.88,32.42 10.18,30.96 10.47,30.11 10.77,29.97 11.06,31.86 11.36,35.9 11.65,41.11 11.95,46.42 12.24,51 12.54,54.48 12.83,56.85 13.12,58.32 13.42,59.19 13.71,59.69 14.01,59.98 14.3,60.16 14.6,60.28 14.6,60.5" fill="#f2e634" stroke="#111" stroke-width="0.8" stroke-linejoin="round"/>
<line x1="1" y1="12" x2="1" y2="60.5" stroke="#000" stroke-width="1"/>
<rect x="0" y="0" width="41.9" height="60.5" fill="none" stroke="#000" stroke-width="1.15"/>
<path d="M1 60.5v2.4M1.9 60.5v2.4M2.7 60.5v2.4M3.4 60.5v2.4M4.4 60.5v3.2M6.96 60.5v2.5M8.46 60.5v2.5M9.52 60.5v2.5M10.34 60.5v2.5M11.01 60.5v2.5M11.58 60.5v2.5M12.08 60.5v2.5M12.51 60.5v2.5M12.9 60.5v3.2M15.46 60.5v2.5M16.96 60.5v2.5M18.02 60.5v2.5M18.84 60.5v2.5M19.51 60.5v2.5M20.08 60.5v2.5M20.58 60.5v2.5M21.01 60.5v2.5M21.4 60.5v3.2M23.96 60.5v2.5M25.46 60.5v2.5M26.52 60.5v2.5M27.34 60.5v2.5M28.01 60.5v2.5M28.58 60.5v2.5M29.08 60.5v2.5M29.51 60.5v2.5M29.9 60.5v3.2M32.46 60.5v2.5M33.96 60.5v2.5M35.02 60.5v2.5M35.84 60.5v2.5M36.51 60.5v2.5M37.08 60.5v2.5M37.58 60.5v2.5M38.01 60.5v2.5" stroke="#000" stroke-width="0.85" fill="none"/>
</g>
<g transform="translate(419.1,161.6)">
<rect x="0" y="0" width="41.9" height="60.5" fill="#fff"/>
<polygon points="0.8,34.2 1.09,32.41 0.81,32.46 0.8,31.79 1.1,31.53 1.18,29.35 1.1,28.4 2.34,27.41 3.4,27.6 4.36,28.94 5,29.2 6.6,28.4 8.2,29.2 8.79,28.7 9.7,27.6 10.3,27.24 11.3,26.5 12.02,27.19 12.9,27.6 13.3,28.28 13.68,30.73 13.7,30.7 14.45,31.35 15.3,32.3 16.26,32.35 17.45,33.41 18.4,33.8 19,34.2" fill="#64641e" stroke="#111" stroke-width="1.1" stroke-linejoin="round"/>
<polygon points="0.8,43.2 0.8,40.7 1.1,40.92 1.4,41.14 1.7,41.35 2,41.56 2.3,41.76 2.6,41.95 2.9,42.15 3.2,42.33 3.5,42.51 3.8,42.67 4.1,42.83 4.4,42.98 4.7,43.1 5,43.2 5,43.2" fill="#000" stroke="#000" stroke-width="0.5"/>
<polygon points="0.8,51.85 0.8,49.35 1.1,49.57 1.4,49.79 1.7,50 2,50.21 2.3,50.41 2.6,50.61 2.9,50.8 3.2,50.98 3.5,51.16 3.8,51.33 4.1,51.48 4.4,51.63 4.7,51.76 5,51.85 5,51.85" fill="#000" stroke="#000" stroke-width="0.5"/>
<polygon points="0.8,60.5 0.8,58 1.06,58.22 1.33,58.44 1.59,58.65 1.86,58.86 2.12,59.06 2.39,59.26 2.65,59.45 2.91,59.63 3.18,59.81 3.44,59.98 3.71,60.14 3.97,60.28 4.24,60.41 4.5,60.5 4.5,60.5" fill="#000" stroke="#000" stroke-width="0.5"/>
<line x1="0" y1="34.2" x2="41.9" y2="34.2" stroke="#333" stroke-width="0.9"/>
<line x1="0" y1="43.2" x2="41.9" y2="43.2" stroke="#7a7a7a" stroke-width="1.1"/>
<line x1="0" y1="51.85" x2="41.9" y2="51.85" stroke="#7a7a7a" stroke-width="1.1"/>
<polygon points="4.2,60.5 4.2,58.02 4.44,57.72 4.67,57.35 4.91,56.91 5.15,56.38 5.39,55.74 5.62,54.96 5.86,54.02 6.1,52.91 6.34,51.61 6.58,50.11 6.81,48.41 7.05,46.51 7.29,44.45 7.53,42.26 7.76,39.98 8,37.69 8.24,35.46 8.48,33.36 8.71,31.48 8.95,29.91 9.19,28.7 9.43,27.92 9.66,27.61 9.9,28.27 10.14,30.68 10.38,34.44 10.61,38.97 10.85,43.64 11.09,47.96 11.32,51.58 11.56,54.4 11.8,56.45 12.04,57.85 12.27,58.76 12.51,59.35 12.75,59.72 12.99,59.96 13.23,60.12 13.46,60.23 13.7,60.31 13.7,60.5" fill="#f2e634" stroke="#111" stroke-width="0.8" stroke-linejoin="round"/>
<line x1="1" y1="12" x2="1" y2="60.5" stroke="#000" stroke-width="1"/>
<rect x="0" y="0" width="41.9" height="60.5" fill="none" stroke="#000" stroke-width="1.15"/>
<path d="M1 60.5v2.4M1.9 60.5v2.4M2.7 60.5v2.4M3.4 60.5v2.4M4.4 60.5v3.2M6.96 60.5v2.5M8.46 60.5v2.5M9.52 60.5v2.5M10.34 60.5v2.5M11.01 60.5v2.5M11.58 60.5v2.5M12.08 60.5v2.5M12.51 60.5v2.5M12.9 60.5v3.2M15.46 60.5v2.5M16.96 60.5v2.5M18.02 60.5v2.5M18.84 60.5v2.5M19.51 60.5v2.5M20.08 60.5v2.5M20.58 60.5v2.5M21.01 60.5v2.5M21.4 60.5v3.2M23.96 60.5v2.5M25.46 60.5v2.5M26.52 60.5v2.5M27.34 60.5v2.5M28.01 60.5v2.5M28.58 60.5v2.5M29.08 60.5v2.5M29.51 60.5v2.5M29.9 60.5v3.2M32.46 60.5v2.5M33.96 60.5v2.5M35.02 60.5v2.5M35.84 60.5v2.5M36.51 60.5v2.5M37.08 60.5v2.5M37.58 60.5v2.5M38.01 60.5v2.5" stroke="#000" stroke-width="0.85" fill="none"/>
</g>
<g transform="translate(470.4,161.6)">
<rect x="0" y="0" width="41.9" height="60.5" fill="#fff"/>
<polygon points="0.8,34.2 0.73,33.29 1.06,32.59 0.98,32.31 0.88,30.61 0.79,29.46 0.7,27.98 1,28.41 0.82,27.49 1.06,26.22 1.1,25.2 2.3,24.4 2.58,23.75 3.1,22.91 2.96,22.14 3.6,20.5 4.03,18.94 4.12,19.91 4.44,17.51 4.51,16.85 4.7,15.8 4.93,15.52 5.04,13.03 5.23,13.23 5.5,12.15 5.8,11 6.16,10.24 6.61,9.39 7.1,7.9 8.3,7.1 8.93,7.71 9.4,9.4 9.7,10.58 9.88,10.64 10.27,12.89 10.5,13.4 10.91,11.89 10.93,11.78 11.13,10.42 11.02,9.98 11.39,8.64 11.8,7.9 12.25,7.05 12.73,5.78 13.1,4.7 13.54,6.44 13.68,5.87 13.31,7.46 13.61,8.96 14.02,8.88 14.07,10 14.2,11 14.41,12.52 14.46,11.47 14.48,13.03 14.86,13.95 14.95,15.55 15.16,16.93 15.3,17.3 15.62,18.06 15.68,19.38 15.93,20.56 15.99,21 16.01,21.58 16.38,23.88 16.5,23.6 16.74,23.36 16.78,25.09 17.19,26.22 17.33,27.86 17.66,28.17 17.8,29.2 17.92,29.05 18.69,30.53 18.9,32.3 19.53,32.61 20.3,32.84 21.3,33.8 21.8,34.2" fill="#c8cd28" stroke="#111" stroke-width="1.1" stroke-linejoin="round"/>
<polygon points="0.8,43.2 0.8,39.4 1.21,39.73 1.61,40.06 2.02,40.39 2.43,40.7 2.84,41.01 3.24,41.31 3.65,41.6 4.06,41.88 4.46,42.15 4.87,42.4 5.28,42.64 5.69,42.86 6.09,43.06 6.5,43.2 6.5,43.2" fill="#000" stroke="#000" stroke-width="0.5"/>
<polygon points="0.8,51.85 0.8,47.65 1.24,48.02 1.69,48.38 2.13,48.74 2.57,49.09 3.01,49.43 3.46,49.76 3.9,50.08 4.34,50.39 4.79,50.69 5.23,50.97 5.67,51.24 6.11,51.48 6.56,51.69 7,51.85 7,51.85" fill="#000" stroke="#000" stroke-width="0.5"/>
<polygon points="0.8,60.5 0.8,58 1.06,58.22 1.33,58.44 1.59,58.65 1.86,58.86 2.12,59.06 2.39,59.26 2.65,59.45 2.91,59.63 3.18,59.81 3.44,59.98 3.71,60.14 3.97,60.28 4.24,60.41 4.5,60.5 4.5,60.5" fill="#000" stroke="#000" stroke-width="0.5"/>
<line x1="0" y1="34.2" x2="41.9" y2="34.2" stroke="#333" stroke-width="0.9"/>
<line x1="0" y1="43.2" x2="41.9" y2="43.2" stroke="#7a7a7a" stroke-width="1.1"/>
<line x1="0" y1="51.85" x2="41.9" y2="51.85" stroke="#7a7a7a" stroke-width="1.1"/>
<polygon points="3.9,60.5 3.9,59.61 4.18,59.5 4.46,59.37 4.73,59.24 5.01,59.08 5.29,58.91 5.56,58.72 5.84,58.5 6.12,58.24 6.4,57.93 6.67,57.55 6.95,57.08 7.23,56.5 7.51,55.78 7.79,54.88 8.06,53.78 8.34,52.44 8.62,50.85 8.89,49 9.17,46.9 9.45,44.59 9.73,42.13 10,39.6 10.28,37.1 10.56,34.76 10.84,32.7 11.11,31.03 11.39,29.86 11.67,29.27 11.95,29.55 12.22,31.96 12.5,36.16 12.78,41.25 13.06,46.34 13.33,50.74 13.61,54.14 13.89,56.52 14.17,58.06 14.45,59 14.72,59.56 15,59.89 15,60.5" fill="#f2e634" stroke="#111" stroke-width="0.8" stroke-linejoin="round"/>
<line x1="1" y1="12" x2="1" y2="60.5" stroke="#000" stroke-width="1"/>
<rect x="0" y="0" width="41.9" height="60.5" fill="none" stroke="#000" stroke-width="1.15"/>
<path d="M1 60.5v2.4M1.9 60.5v2.4M2.7 60.5v2.4M3.4 60.5v2.4M4.4 60.5v3.2M6.96 60.5v2.5M8.46 60.5v2.5M9.52 60.5v2.5M10.34 60.5v2.5M11.01 60.5v2.5M11.58 60.5v2.5M12.08 60.5v2.5M12.51 60.5v2.5M12.9 60.5v3.2M15.46 60.5v2.5M16.96 60.5v2.5M18.02 60.5v2.5M18.84 60.5v2.5M19.51 60.5v2.5M20.08 60.5v2.5M20.58 60.5v2.5M21.01 60.5v2.5M21.4 60.5v3.2M23.96 60.5v2.5M25.46 60.5v2.5M26.52 60.5v2.5M27.34 60.5v2.5M28.01 60.5v2.5M28.58 60.5v2.5M29.08 60.5v2.5M29.51 60.5v2.5M29.9 60.5v3.2M32.46 60.5v2.5M33.96 60.5v2.5M35.02 60.5v2.5M35.84 60.5v2.5M36.51 60.5v2.5M37.08 60.5v2.5M37.58 60.5v2.5M38.01 60.5v2.5" stroke="#000" stroke-width="0.85" fill="none"/>
</g>
<g transform="translate(162.4,234.5)">
<rect x="0" y="0" width="41.9" height="59.6" fill="#fff"/>
<polygon points="10.2,33.7 10.73,32.93 11.24,31.77 11.8,31.4 12.27,31.08 12.78,29.43 13.1,28.3 13.6,26.66 13.82,26.72 14.2,25.1 14.73,25.86 15.3,23.5 15.96,24.31 16.5,25.1 16.96,24.7 16.74,22.36 17.11,23.07 17.35,21.25 17.62,21.41 17.8,19.6 17.8,18.26 18.15,17.03 18.22,16.1 18.79,16.29 18.9,14.9 19.38,13.6 19.26,13.25 19.61,12.35 20.02,10.72 20,10.1 20.78,8.25 21.3,7.8 22.07,8.36 22.5,9.3 23.07,8.55 23.21,6.24 23.6,6.2 24.09,5.97 24.7,4.6 25.28,6.47 25.51,6.73 26,7 26.19,6.83 26.44,8.97 26.28,9.71 26.39,10.58 26.8,11.42 27.08,12.98 27.25,13.55 27.3,14.9 27.23,15.83 27.57,16.36 27.61,17.48 27.64,19.01 27.85,19.61 28.1,19.96 28.21,22.32 28.4,22.7 28.79,23.3 28.86,24.9 28.99,26.12 29.28,26.42 29.11,27.53 29.5,28.3 29.84,29.8 30.11,31.18 30.41,30.25 30.7,32.2 31.78,32.55 32.3,33.07 33.1,33.5 34.3,33.25 35.5,33 37,33.7" fill="#969614" stroke="#111" stroke-width="1.1" stroke-linejoin="round"/>
<polygon points="4.3,34 4.3,34 4.67,35.31 5.03,36.42 5.4,37.37 5.77,38.16 6.13,38.84 6.5,39.41 6.87,39.89 7.23,40.3 7.6,40.65 7.97,40.94 8.33,41.19 8.7,41.4 9.07,41.57 9.43,41.72 9.8,41.85 10.17,41.96 10.53,42.05 10.9,42.13 11.27,42.19 11.63,42.25 12,42.3 12.37,42.34 12.73,42.37 13.1,42.4 13.47,42.42 13.83,42.44 14.2,42.46 14.57,42.47 14.93,42.49 15.3,42.5 15.67,42.51 16.03,42.51 16.4,42.52 16.77,42.52 17.13,42.53 17.5,42.53 17.87,42.54 18.23,42.54 18.6,42.54 18.97,42.54 19.33,42.55 19.7,42.55 20.07,42.55 20.43,42.55 20.8,42.55 21.17,42.55 21.53,42.55 21.9,42.55 4.3,42.55" fill="#000" stroke="#000" stroke-width="0.6"/>
<polyline points="4.3,42.85 4.3,42.85 4.55,44.67 4.8,46.09 5.05,47.19 5.3,48.05 5.55,48.72 5.8,49.24 6.05,49.65 6.3,49.96 6.55,50.21 6.8,50.4 7.05,50.55 7.3,50.67 7.55,50.76 7.8,50.83 8.05,50.88 8.3,50.93 8.55,50.96 8.8,50.99 9.05,51.01 9.3,51.02 9.55,51.03 9.8,51.04 10.05,51.05 10.3,51.06 10.55,51.06 10.8,51.06 11.05,51.07 11.3,51.07 11.55,51.07 11.8,51.07 12.05,51.07 12.3,51.08" fill="none" stroke="#000" stroke-width="0.75"/>
<polyline points="4.3,51.38 4.3,51.38 4.55,53.37 4.8,54.88 5.05,56.03 5.3,56.89 5.55,57.55 5.8,58.05 6.05,58.42 6.3,58.71 6.55,58.93 6.8,59.09 7.05,59.21 7.3,59.31 7.55,59.38 7.8,59.43 8.05,59.47 8.3,59.5 8.55,59.53 8.8,59.54 9.05,59.56 9.3,59.57 9.55,59.58 9.8,59.58 10.05,59.59 10.3,59.59 10.55,59.59 10.8,59.59 11.05,59.6 11.3,59.6 11.5,59.6" fill="none" stroke="#000" stroke-width="0.75"/>
<line x1="0" y1="33.7" x2="41.9" y2="33.7" stroke="#333" stroke-width="0.9"/>
<line x1="0" y1="42.55" x2="41.9" y2="42.55" stroke="#666" stroke-width="1.1"/>
<line x1="0" y1="51.08" x2="41.9" y2="51.08" stroke="#666" stroke-width="1.1"/>
<line x1="4.3" y1="12.5" x2="4.3" y2="59.6" stroke="#000" stroke-width="1"/>
<rect x="0" y="0" width="41.9" height="59.6" fill="none" stroke="#000" stroke-width="1.15"/>
<path d="M1 59.6v2.4M1.9 59.6v2.4M2.7 59.6v2.4M3.4 59.6v2.4M4.4 59.6v3.2M6.96 59.6v2.5M8.46 59.6v2.5M9.52 59.6v2.5M10.34 59.6v2.5M11.01 59.6v2.5M11.58 59.6v2.5M12.08 59.6v2.5M12.51 59.6v2.5M12.9 59.6v3.2M15.46 59.6v2.5M16.96 59.6v2.5M18.02 59.6v2.5M18.84 59.6v2.5M19.51 59.6v2.5M20.08 59.6v2.5M20.58 59.6v2.5M21.01 59.6v2.5M21.4 59.6v3.2M23.96 59.6v2.5M25.46 59.6v2.5M26.52 59.6v2.5M27.34 59.6v2.5M28.01 59.6v2.5M28.58 59.6v2.5M29.08 59.6v2.5M29.51 59.6v2.5M29.9 59.6v3.2M32.46 59.6v2.5M33.96 59.6v2.5M35.02 59.6v2.5M35.84 59.6v2.5M36.51 59.6v2.5M37.08 59.6v2.5M37.58 59.6v2.5M38.01 59.6v2.5" stroke="#000" stroke-width="0.85" fill="none"/>
</g>
<g transform="translate(213.7,234.5)">
<rect x="0" y="0" width="41.9" height="59.6" fill="#fff"/>
<polygon points="3,33.7 3.07,32.98 3.27,31.18 3.24,30.97 3.5,29.95 3.5,29.39 3.3,27.79 3.39,26.44 3.75,24.58 3.57,25.13 3.56,24.56 3.8,23.27 4.02,21.34 3.8,21.2 3.99,20.32 3.88,18.72 3.98,19.22 4.24,17.13 3.86,17.14 4.38,16.2 4.26,14.92 4.77,13.64 4.6,12.5 4.64,13.38 4.78,14.11 5.03,15.69 5.26,15.91 5.04,16.51 5.4,18 5.83,20.13 6.46,20.48 7,20.4 8.6,21.2 9.19,21.86 9.47,22.29 10.1,23.5 10.84,22.65 11.7,22 13.3,21.2 14.15,22.63 14.23,22.65 14.9,24.3 16.4,25.1 16.69,24.63 16.68,23.94 16.99,22.77 17.28,20.69 17.49,19.83 17.57,19.54 18.05,20.05 18,18 18.27,17.35 18.6,15.82 18.46,15.68 18.8,13.57 19.14,13.48 19.06,12.13 19.42,12.02 19.6,10.9 20.1,10.48 19.86,8.55 20.45,8.12 20.45,7.28 21.2,6.2 21.97,5.11 22.7,4.1 23.59,4.46 24.3,5.4 24.57,6.37 24.97,7.91 25.05,8.76 25.31,9.09 25.33,10.08 25.82,11.02 25.9,11.7 25.93,12.48 26.18,14 26.46,13.88 26.76,14.88 26.92,16.38 27.28,18.25 26.94,18.57 27.5,19.6 27.52,20.35 28.15,22.07 28.21,22.95 28.41,23.86 28.65,24.35 28.52,25.37 29.16,26.55 29.1,27.5 29.12,28.35 29.74,30.06 29.93,30.63 30.56,31.53 30.6,32.2 31.51,32.52 32.2,33.5 33,33.7" fill="#4f4a10" stroke="#111" stroke-width="1.1" stroke-linejoin="round"/>
<polygon points="4.3,34 4.3,34 4.67,35.31 5.03,36.42 5.4,37.37 5.77,38.16 6.13,38.84 6.5,39.41 6.87,39.89 7.23,40.3 7.6,40.65 7.97,40.94 8.33,41.19 8.7,41.4 9.07,41.57 9.43,41.72 9.8,41.85 10.17,41.96 10.53,42.05 10.9,42.13 11.27,42.19 11.63,42.25 12,42.3 12.37,42.34 12.73,42.37 13.1,42.4 13.47,42.42 13.83,42.44 14.2,42.46 14.57,42.47 14.93,42.49 15.3,42.5 15.67,42.51 16.03,42.51 16.4,42.52 16.77,42.52 17.13,42.53 17.5,42.53 17.87,42.54 18.23,42.54 18.6,42.54 18.97,42.54 19.33,42.55 19.7,42.55 20.07,42.55 20.43,42.55 20.8,42.55 21.17,42.55 21.53,42.55 21.9,42.55 4.3,42.55" fill="#000" stroke="#000" stroke-width="0.6"/>
<polyline points="4.3,42.85 4.3,42.85 4.55,44.67 4.8,46.09 5.05,47.19 5.3,48.05 5.55,48.72 5.8,49.24 6.05,49.65 6.3,49.96 6.55,50.21 6.8,50.4 7.05,50.55 7.3,50.67 7.55,50.76 7.8,50.83 8.05,50.88 8.3,50.93 8.55,50.96 8.8,50.99 9.05,51.01 9.3,51.02 9.55,51.03 9.8,51.04 10.05,51.05 10.3,51.06 10.55,51.06 10.8,51.06 11.05,51.07 11.3,51.07 11.55,51.07 11.8,51.07 12.05,51.07 12.3,51.08" fill="none" stroke="#000" stroke-width="0.75"/>
<polyline points="4.3,51.38 4.3,51.38 4.55,53.37 4.8,54.88 5.05,56.03 5.3,56.89 5.55,57.55 5.8,58.05 6.05,58.42 6.3,58.71 6.55,58.93 6.8,59.09 7.05,59.21 7.3,59.31 7.55,59.38 7.8,59.43 8.05,59.47 8.3,59.5 8.55,59.53 8.8,59.54 9.05,59.56 9.3,59.57 9.55,59.58 9.8,59.58 10.05,59.59 10.3,59.59 10.55,59.59 10.8,59.59 11.05,59.6 11.3,59.6 11.5,59.6" fill="none" stroke="#000" stroke-width="0.75"/>
<line x1="0" y1="33.7" x2="41.9" y2="33.7" stroke="#333" stroke-width="0.9"/>
<line x1="0" y1="42.55" x2="41.9" y2="42.55" stroke="#666" stroke-width="1.1"/>
<line x1="0" y1="51.08" x2="41.9" y2="51.08" stroke="#666" stroke-width="1.1"/>
<line x1="4.3" y1="12.5" x2="4.3" y2="59.6" stroke="#000" stroke-width="1"/>
<rect x="0" y="0" width="41.9" height="59.6" fill="none" stroke="#000" stroke-width="1.15"/>
<path d="M1 59.6v2.4M1.9 59.6v2.4M2.7 59.6v2.4M3.4 59.6v2.4M4.4 59.6v3.2M6.96 59.6v2.5M8.46 59.6v2.5M9.52 59.6v2.5M10.34 59.6v2.5M11.01 59.6v2.5M11.58 59.6v2.5M12.08 59.6v2.5M12.51 59.6v2.5M12.9 59.6v3.2M15.46 59.6v2.5M16.96 59.6v2.5M18.02 59.6v2.5M18.84 59.6v2.5M19.51 59.6v2.5M20.08 59.6v2.5M20.58 59.6v2.5M21.01 59.6v2.5M21.4 59.6v3.2M23.96 59.6v2.5M25.46 59.6v2.5M26.52 59.6v2.5M27.34 59.6v2.5M28.01 59.6v2.5M28.58 59.6v2.5M29.08 59.6v2.5M29.51 59.6v2.5M29.9 59.6v3.2M32.46 59.6v2.5M33.96 59.6v2.5M35.02 59.6v2.5M35.84 59.6v2.5M36.51 59.6v2.5M37.08 59.6v2.5M37.58 59.6v2.5M38.01 59.6v2.5" stroke="#000" stroke-width="0.85" fill="none"/>
</g>
<g transform="translate(265.1,234.5)">
<rect x="0" y="0" width="41.9" height="59.6" fill="#fff"/>
<polygon points="14.5,33.7 15.25,32.95 16,32.2 16.85,31.71 17.6,30.6 18.44,29.48 18.67,28.27 19.2,28.3 19.84,27.72 20.11,26.5 20.8,25.1 20.97,25.1 21.35,23.14 21.55,22.18 21.9,21.2 22.11,21.08 22.06,19.86 22.47,18.72 22.74,17.69 22.89,16.77 23.1,15.6 23.39,14.74 23.65,13.9 23.97,12.67 24.49,11.51 24.67,11.47 24.7,10.1 24.94,9.02 25.45,7.27 26,7 26.31,5.73 26.83,4.89 27.1,4.1 27.58,3.78 27.57,5.69 27.8,5.83 28.06,6.89 28.2,8.5 28.38,9.64 28.46,10.39 28.79,11.3 28.84,12.5 28.97,14.67 28.76,13.96 29.27,14.17 29.4,16.4 29.4,17.84 29.7,17.79 30.03,19.44 29.95,20.29 30.07,21.69 30.21,21.59 30.47,23.15 30.7,24.3 30.89,25.22 31.13,27.35 31.03,25.95 31.31,28.05 31.55,29.99 31.8,29.8 32.18,30.67 32.62,31.81 32.9,33 33.5,33.7" fill="#efe52b" stroke="#111" stroke-width="1.1" stroke-linejoin="round"/>
<polygon points="4.3,34 4.3,34 4.63,35.31 4.97,36.42 5.3,37.37 5.63,38.16 5.97,38.84 6.3,39.41 6.63,39.89 6.97,40.3 7.3,40.65 7.63,40.94 7.97,41.19 8.3,41.4 8.63,41.57 8.97,41.72 9.3,41.85 9.63,41.96 9.97,42.05 10.3,42.13 10.63,42.19 10.97,42.25 11.3,42.3 11.63,42.34 11.97,42.37 12.3,42.4 12.63,42.42 12.97,42.44 13.3,42.46 13.63,42.47 13.97,42.49 14.3,42.5 14.63,42.51 14.97,42.51 15.3,42.52 15.63,42.52 15.97,42.53 16.3,42.53 16.63,42.54 16.97,42.54 17.3,42.54 17.63,42.54 17.97,42.55 18.3,42.55 18.63,42.55 18.97,42.55 19.3,42.55 19.63,42.55 19.97,42.55 20.3,42.55 4.3,42.55" fill="#000" stroke="#000" stroke-width="0.6"/>
<polyline points="4.3,42.85 4.3,42.85 4.55,44.67 4.8,46.09 5.05,47.19 5.3,48.05 5.55,48.72 5.8,49.24 6.05,49.65 6.3,49.96 6.55,50.21 6.8,50.4 7.05,50.55 7.3,50.67 7.55,50.76 7.8,50.83 8.05,50.88 8.3,50.93 8.55,50.96 8.8,50.99 9.05,51.01 9.3,51.02 9.55,51.03 9.8,51.04 10.05,51.05 10.3,51.06 10.55,51.06 10.8,51.06 11.05,51.07 11.3,51.07 11.55,51.07 11.8,51.07 12.05,51.07 12.3,51.08" fill="none" stroke="#000" stroke-width="0.75"/>
<polyline points="4.3,51.38 4.3,51.38 4.55,53.37 4.8,54.88 5.05,56.03 5.3,56.89 5.55,57.55 5.8,58.05 6.05,58.42 6.3,58.71 6.55,58.93 6.8,59.09 7.05,59.21 7.3,59.31 7.55,59.38 7.8,59.43 8.05,59.47 8.3,59.5 8.55,59.53 8.8,59.54 9.05,59.56 9.3,59.57 9.55,59.58 9.8,59.58 10.05,59.59 10.3,59.59 10.55,59.59 10.8,59.59 11.05,59.6 11.3,59.6 11.5,59.6" fill="none" stroke="#000" stroke-width="0.75"/>
<line x1="0" y1="33.7" x2="41.9" y2="33.7" stroke="#333" stroke-width="0.9"/>
<line x1="0" y1="42.55" x2="41.9" y2="42.55" stroke="#666" stroke-width="1.1"/>
<line x1="0" y1="51.08" x2="41.9" y2="51.08" stroke="#666" stroke-width="1.1"/>
<line x1="4.3" y1="12.5" x2="4.3" y2="59.6" stroke="#000" stroke-width="1"/>
<rect x="0" y="0" width="41.9" height="59.6" fill="none" stroke="#000" stroke-width="1.15"/>
<path d="M1 59.6v2.4M1.9 59.6v2.4M2.7 59.6v2.4M3.4 59.6v2.4M4.4 59.6v3.2M6.96 59.6v2.5M8.46 59.6v2.5M9.52 59.6v2.5M10.34 59.6v2.5M11.01 59.6v2.5M11.58 59.6v2.5M12.08 59.6v2.5M12.51 59.6v2.5M12.9 59.6v3.2M15.46 59.6v2.5M16.96 59.6v2.5M18.02 59.6v2.5M18.84 59.6v2.5M19.51 59.6v2.5M20.08 59.6v2.5M20.58 59.6v2.5M21.01 59.6v2.5M21.4 59.6v3.2M23.96 59.6v2.5M25.46 59.6v2.5M26.52 59.6v2.5M27.34 59.6v2.5M28.01 59.6v2.5M28.58 59.6v2.5M29.08 59.6v2.5M29.51 59.6v2.5M29.9 59.6v3.2M32.46 59.6v2.5M33.96 59.6v2.5M35.02 59.6v2.5M35.84 59.6v2.5M36.51 59.6v2.5M37.08 59.6v2.5M37.58 59.6v2.5M38.01 59.6v2.5" stroke="#000" stroke-width="0.85" fill="none"/>
</g>
<g transform="translate(316.4,234.5)">
<rect x="0" y="0" width="41.9" height="59.6" fill="#fff"/>
<polygon points="2,33.7 1.96,32.1 1.98,31.94 1.88,30.21 2.13,30.12 2.06,28.49 2.27,26.63 2.29,26.43 2.3,26.67 2.54,24.91 2.46,23.92 2.35,22.49 2.68,21.3 2.6,21.2 2.59,20.87 2.67,19.28 2.96,19.79 2.99,17.5 2.81,17.33 3.12,16.07 3.22,14.87 3.18,14.55 3.38,12.87 3.38,12.22 3.45,12.22 3.27,10.3 3.59,9.61 3.6,8.5 3.96,7.84 4.19,6.93 4.52,5.67 4.7,4.6 4.75,5.2 5.09,5.97 5.19,6.5 5.49,8.2 5.63,8.7 5.8,10.1 5.91,11.11 6.14,12.08 6.3,12.46 6.81,13.52 6.7,14.9 7.9,15.6 8.31,16.71 8.9,18 9.24,18.38 9.58,20.34 9.9,21.2 9.91,19.65 10.25,18.89 10.37,18.11 10.26,18.51 10.69,16.6 11.01,15.08 11,14.9 11.26,13.79 11.62,13.21 11.51,11.6 11.8,10.9 12.27,9.5 13.1,9.3 13.59,11.42 14.2,11.7 14.86,11.67 15.3,13.3 15.56,13.13 15.9,11.17 16.5,10.1 17.3,9.3 17.55,9.33 17.68,10.74 18.19,12.33 18.4,13.3 18.76,14.2 18.68,14.98 19.23,16.72 19.2,18.28 19.02,18.33 19.37,19.98 19.55,21.39 19.7,21.2 20.04,21.15 19.97,23.11 20.22,24 20.13,24.97 20.63,25.73 20.93,26 20.9,27.5 22.1,28.3 22.35,27.04 23.2,25.9 23.75,25.52 24.4,23.5 25.7,24.3 25.95,25.35 26.26,27.3 26.43,26.97 26.8,28.3 27.43,29.64 28.02,30.06 28.4,31.4 29.2,31.61 29.98,32.76 30.7,33 32,33.7" fill="#000000" stroke="#111" stroke-width="1.1" stroke-linejoin="round"/>
<polygon points="4.3,34 4.3,34 4.63,35.31 4.97,36.42 5.3,37.37 5.63,38.16 5.97,38.84 6.3,39.41 6.63,39.89 6.97,40.3 7.3,40.65 7.63,40.94 7.97,41.19 8.3,41.4 8.63,41.57 8.97,41.72 9.3,41.85 9.63,41.96 9.97,42.05 10.3,42.13 10.63,42.19 10.97,42.25 11.3,42.3 11.63,42.34 11.97,42.37 12.3,42.4 12.63,42.42 12.97,42.44 13.3,42.46 13.63,42.47 13.97,42.49 14.3,42.5 14.63,42.51 14.97,42.51 15.3,42.52 15.63,42.52 15.97,42.53 16.3,42.53 16.63,42.54 16.97,42.54 17.3,42.54 17.63,42.54 17.97,42.55 18.3,42.55 18.63,42.55 18.97,42.55 19.3,42.55 19.63,42.55 19.97,42.55 20.3,42.55 4.3,42.55" fill="#000" stroke="#000" stroke-width="0.6"/>
<polyline points="4.3,42.85 4.3,42.85 4.55,44.67 4.8,46.09 5.05,47.19 5.3,48.05 5.55,48.72 5.8,49.24 6.05,49.65 6.3,49.96 6.55,50.21 6.8,50.4 7.05,50.55 7.3,50.67 7.55,50.76 7.8,50.83 8.05,50.88 8.3,50.93 8.55,50.96 8.8,50.99 9.05,51.01 9.3,51.02 9.55,51.03 9.8,51.04 10.05,51.05 10.3,51.06 10.55,51.06 10.8,51.06 11.05,51.07 11.3,51.07 11.55,51.07 11.8,51.07 12.05,51.07 12.3,51.08" fill="none" stroke="#000" stroke-width="0.75"/>
<polyline points="4.3,51.38 4.3,51.38 4.55,53.37 4.8,54.88 5.05,56.03 5.3,56.89 5.55,57.55 5.8,58.05 6.05,58.42 6.3,58.71 6.55,58.93 6.8,59.09 7.05,59.21 7.3,59.31 7.55,59.38 7.8,59.43 8.05,59.47 8.3,59.5 8.55,59.53 8.8,59.54 9.05,59.56 9.3,59.57 9.55,59.58 9.8,59.58 10.05,59.59 10.3,59.59 10.55,59.59 10.8,59.59 11.05,59.6 11.3,59.6 11.5,59.6" fill="none" stroke="#000" stroke-width="0.75"/>
<line x1="0" y1="33.7" x2="41.9" y2="33.7" stroke="#333" stroke-width="0.9"/>
<line x1="0" y1="42.55" x2="41.9" y2="42.55" stroke="#666" stroke-width="1.1"/>
<line x1="0" y1="51.08" x2="41.9" y2="51.08" stroke="#666" stroke-width="1.1"/>
<line x1="4.3" y1="12.5" x2="4.3" y2="59.6" stroke="#000" stroke-width="1"/>
<rect x="0" y="0" width="41.9" height="59.6" fill="none" stroke="#000" stroke-width="1.15"/>
<path d="M1 59.6v2.4M1.9 59.6v2.4M2.7 59.6v2.4M3.4 59.6v2.4M4.4 59.6v3.2M6.96 59.6v2.5M8.46 59.6v2.5M9.52 59.6v2.5M10.34 59.6v2.5M11.01 59.6v2.5M11.58 59.6v2.5M12.08 59.6v2.5M12.51 59.6v2.5M12.9 59.6v3.2M15.46 59.6v2.5M16.96 59.6v2.5M18.02 59.6v2.5M18.84 59.6v2.5M19.51 59.6v2.5M20.08 59.6v2.5M20.58 59.6v2.5M21.01 59.6v2.5M21.4 59.6v3.2M23.96 59.6v2.5M25.46 59.6v2.5M26.52 59.6v2.5M27.34 59.6v2.5M28.01 59.6v2.5M28.58 59.6v2.5M29.08 59.6v2.5M29.51 59.6v2.5M29.9 59.6v3.2M32.46 59.6v2.5M33.96 59.6v2.5M35.02 59.6v2.5M35.84 59.6v2.5M36.51 59.6v2.5M37.08 59.6v2.5M37.58 59.6v2.5M38.01 59.6v2.5" stroke="#000" stroke-width="0.85" fill="none"/>
</g>
<g transform="translate(367.7,234.5)">
<rect x="0" y="0" width="41.9" height="59.6" fill="#fff"/>
<polygon points="4.4,33.7 5.2,32.5 6.36,31.3 7.6,31.4 8.48,32.39 9.9,32.2 10.87,32.65 11.98,32.9 13.1,32.5 14.1,32.42 14.97,32.21 16.12,32.4 16.61,32.64 17.8,32.5 18.89,32.29 20.12,31.75 21,31.4 21.52,31.08 22.5,29.8 22.82,29.43 23.21,27.58 23.79,26.74 24.1,25.9 24.24,24.33 24.41,23.65 24.71,22.86 24.66,22.56 24.75,21.39 25.29,20.45 25.4,19.6 25.86,18.39 25.53,17.76 25.68,16.71 25.9,15.79 25.67,14.58 26.31,13.19 26.45,12.96 26.5,11.7 26.89,10.83 27.09,10.25 27.41,9.43 27.63,7.73 27.79,7.52 28.1,6.2 28.64,4.11 29.3,4.1 29.28,5.13 29.84,5.25 30.4,7 30.66,8.73 30.84,8.75 30.64,10.06 31.17,10.69 31.56,11.73 31.3,12.63 31.53,13.74 31.7,14.9 32.01,15.8 31.92,17.82 32.04,17.01 32.48,18.79 32.39,20.06 32.35,22.08 32.87,21.11 32.8,22.7 32.95,23.88 33.16,23.85 33.16,25.51 33.19,26.31 33.4,27.71 33.59,28.54 33.9,29 34.18,29.34 34.64,30.29 34.88,31.13 35.2,32.5 36.5,33.7" fill="#fbf8d4" stroke="#111" stroke-width="1.1" stroke-linejoin="round"/>
<polygon points="4.3,34 4.3,34 4.67,35.31 5.03,36.42 5.4,37.37 5.77,38.16 6.13,38.84 6.5,39.41 6.87,39.89 7.23,40.3 7.6,40.65 7.97,40.94 8.33,41.19 8.7,41.4 9.07,41.57 9.43,41.72 9.8,41.85 10.17,41.96 10.53,42.05 10.9,42.13 11.27,42.19 11.63,42.25 12,42.3 12.37,42.34 12.73,42.37 13.1,42.4 13.47,42.42 13.83,42.44 14.2,42.46 14.57,42.47 14.93,42.49 15.3,42.5 15.67,42.51 16.03,42.51 16.4,42.52 16.77,42.52 17.13,42.53 17.5,42.53 17.87,42.54 18.23,42.54 18.6,42.54 18.97,42.54 19.33,42.55 19.7,42.55 20.07,42.55 20.43,42.55 20.8,42.55 21.17,42.55 21.53,42.55 21.9,42.55 4.3,42.55" fill="#000" stroke="#000" stroke-width="0.6"/>
<polyline points="4.3,42.85 4.3,42.85 4.55,44.67 4.8,46.09 5.05,47.19 5.3,48.05 5.55,48.72 5.8,49.24 6.05,49.65 6.3,49.96 6.55,50.21 6.8,50.4 7.05,50.55 7.3,50.67 7.55,50.76 7.8,50.83 8.05,50.88 8.3,50.93 8.55,50.96 8.8,50.99 9.05,51.01 9.3,51.02 9.55,51.03 9.8,51.04 10.05,51.05 10.3,51.06 10.55,51.06 10.8,51.06 11.05,51.07 11.3,51.07 11.55,51.07 11.8,51.07 12.05,51.07 12.3,51.08" fill="none" stroke="#000" stroke-width="0.75"/>
<polyline points="4.3,51.38 4.3,51.38 4.55,53.37 4.8,54.88 5.05,56.03 5.3,56.89 5.55,57.55 5.8,58.05 6.05,58.42 6.3,58.71 6.55,58.93 6.8,59.09 7.05,59.21 7.3,59.31 7.55,59.38 7.8,59.43 8.05,59.47 8.3,59.5 8.55,59.53 8.8,59.54 9.05,59.56 9.3,59.57 9.55,59.58 9.8,59.58 10.05,59.59 10.3,59.59 10.55,59.59 10.8,59.59 11.05,59.6 11.3,59.6 11.5,59.6" fill="none" stroke="#000" stroke-width="0.75"/>
<line x1="0" y1="33.7" x2="41.9" y2="33.7" stroke="#333" stroke-width="0.9"/>
<line x1="0" y1="42.55" x2="41.9" y2="42.55" stroke="#666" stroke-width="1.1"/>
<line x1="0" y1="51.08" x2="41.9" y2="51.08" stroke="#666" stroke-width="1.1"/>
<line x1="4.3" y1="12.5" x2="4.3" y2="59.6" stroke="#000" stroke-width="1"/>
<rect x="0" y="0" width="41.9" height="59.6" fill="none" stroke="#000" stroke-width="1.15"/>
<path d="M1 59.6v2.4M1.9 59.6v2.4M2.7 59.6v2.4M3.4 59.6v2.4M4.4 59.6v3.2M6.96 59.6v2.5M8.46 59.6v2.5M9.52 59.6v2.5M10.34 59.6v2.5M11.01 59.6v2.5M11.58 59.6v2.5M12.08 59.6v2.5M12.51 59.6v2.5M12.9 59.6v3.2M15.46 59.6v2.5M16.96 59.6v2.5M18.02 59.6v2.5M18.84 59.6v2.5M19.51 59.6v2.5M20.08 59.6v2.5M20.58 59.6v2.5M21.01 59.6v2.5M21.4 59.6v3.2M23.96 59.6v2.5M25.46 59.6v2.5M26.52 59.6v2.5M27.34 59.6v2.5M28.01 59.6v2.5M28.58 59.6v2.5M29.08 59.6v2.5M29.51 59.6v2.5M29.9 59.6v3.2M32.46 59.6v2.5M33.96 59.6v2.5M35.02 59.6v2.5M35.84 59.6v2.5M36.51 59.6v2.5M37.08 59.6v2.5M37.58 59.6v2.5M38.01 59.6v2.5" stroke="#000" stroke-width="0.85" fill="none"/>
</g>
<g transform="translate(419.1,234.5)">
<rect x="0" y="0" width="41.9" height="59.6" fill="#fff"/>
<polygon points="12.4,33.7 12.97,31.76 13.7,31.4 13.9,30.58 15.08,29.51 15.2,29 15.63,27.21 15.92,26.97 16.8,25.9 17.48,24.76 17.67,23.63 18.4,22.7 18.66,21.73 19.19,20.82 19.46,19.69 20,18.8 20.44,18.57 20.83,17.2 21.28,15.74 21.6,14.9 22.05,13.93 22.35,12.88 22.8,11.7 23.07,10.87 23.14,10.35 23.1,9.47 23.68,7.44 23.9,7 24.24,5.73 24.21,3.99 24.7,4.1 24.95,4.3 25.04,6.9 25.31,6.92 25.82,8.66 26,9.3 26.4,10.69 26.96,11.27 27.6,12.5 27.92,13.17 28.08,14.65 28.75,16.16 29.1,16.4 29.85,18.21 30.2,18 30.82,18.92 31.3,19.6 31.6,21.17 32.18,22.23 32.6,22.7 32.92,23.84 33.28,24.71 33.85,25.23 34.2,26.7 34.78,28.2 35.24,28.08 35.8,29.8 36.28,30.4 36.72,31.27 37.3,32.5 38.6,33.7" fill="#f0e630" stroke="#111" stroke-width="1.1" stroke-linejoin="round"/>
<polygon points="4.3,34 4.3,34 4.63,35.31 4.97,36.42 5.3,37.37 5.63,38.16 5.97,38.84 6.3,39.41 6.63,39.89 6.97,40.3 7.3,40.65 7.63,40.94 7.97,41.19 8.3,41.4 8.63,41.57 8.97,41.72 9.3,41.85 9.63,41.96 9.97,42.05 10.3,42.13 10.63,42.19 10.97,42.25 11.3,42.3 11.63,42.34 11.97,42.37 12.3,42.4 12.63,42.42 12.97,42.44 13.3,42.46 13.63,42.47 13.97,42.49 14.3,42.5 14.63,42.51 14.97,42.51 15.3,42.52 15.63,42.52 15.97,42.53 16.3,42.53 16.63,42.54 16.97,42.54 17.3,42.54 17.63,42.54 17.97,42.55 18.3,42.55 18.63,42.55 18.97,42.55 19.3,42.55 19.63,42.55 19.97,42.55 20.3,42.55 4.3,42.55" fill="#000" stroke="#000" stroke-width="0.6"/>
<polyline points="4.3,42.85 4.3,42.85 4.55,44.67 4.8,46.09 5.05,47.19 5.3,48.05 5.55,48.72 5.8,49.24 6.05,49.65 6.3,49.96 6.55,50.21 6.8,50.4 7.05,50.55 7.3,50.67 7.55,50.76 7.8,50.83 8.05,50.88 8.3,50.93 8.55,50.96 8.8,50.99 9.05,51.01 9.3,51.02 9.55,51.03 9.8,51.04 10.05,51.05 10.3,51.06 10.55,51.06 10.8,51.06 11.05,51.07 11.3,51.07 11.55,51.07 11.8,51.07 12.05,51.07 12.3,51.08" fill="none" stroke="#000" stroke-width="0.75"/>
<polyline points="4.3,51.38 4.3,51.38 4.55,53.37 4.8,54.88 5.05,56.03 5.3,56.89 5.55,57.55 5.8,58.05 6.05,58.42 6.3,58.71 6.55,58.93 6.8,59.09 7.05,59.21 7.3,59.31 7.55,59.38 7.8,59.43 8.05,59.47 8.3,59.5 8.55,59.53 8.8,59.54 9.05,59.56 9.3,59.57 9.55,59.58 9.8,59.58 10.05,59.59 10.3,59.59 10.55,59.59 10.8,59.59 11.05,59.6 11.3,59.6 11.5,59.6" fill="none" stroke="#000" stroke-width="0.75"/>
<line x1="0" y1="33.7" x2="41.9" y2="33.7" stroke="#333" stroke-width="0.9"/>
<line x1="0" y1="42.55" x2="41.9" y2="42.55" stroke="#666" stroke-width="1.1"/>
<line x1="0" y1="51.08" x2="41.9" y2="51.08" stroke="#666" stroke-width="1.1"/>
<line x1="4.3" y1="12.5" x2="4.3" y2="59.6" stroke="#000" stroke-width="1"/>
<rect x="0" y="0" width="41.9" height="59.6" fill="none" stroke="#000" stroke-width="1.15"/>
<path d="M1 59.6v2.4M1.9 59.6v2.4M2.7 59.6v2.4M3.4 59.6v2.4M4.4 59.6v3.2M6.96 59.6v2.5M8.46 59.6v2.5M9.52 59.6v2.5M10.34 59.6v2.5M11.01 59.6v2.5M11.58 59.6v2.5M12.08 59.6v2.5M12.51 59.6v2.5M12.9 59.6v3.2M15.46 59.6v2.5M16.96 59.6v2.5M18.02 59.6v2.5M18.84 59.6v2.5M19.51 59.6v2.5M20.08 59.6v2.5M20.58 59.6v2.5M21.01 59.6v2.5M21.4 59.6v3.2M23.96 59.6v2.5M25.46 59.6v2.5M26.52 59.6v2.5M27.34 59.6v2.5M28.01 59.6v2.5M28.58 59.6v2.5M29.08 59.6v2.5M29.51 59.6v2.5M29.9 59.6v3.2M32.46 59.6v2.5M33.96 59.6v2.5M35.02 59.6v2.5M35.84 59.6v2.5M36.51 59.6v2.5M37.08 59.6v2.5M37.58 59.6v2.5M38.01 59.6v2.5" stroke="#000" stroke-width="0.85" fill="none"/>
</g>
<g transform="translate(470.4,234.5)">
<rect x="0" y="0" width="41.9" height="59.6" fill="#fff"/>
<polygon points="11,33.7 11.78,32.05 11.71,32.83 11.9,31.03 12.6,29.8 13.13,29.47 13.91,27.75 14.2,26.7 14.53,25.2 14.65,24.24 14.58,24.61 15.42,22.52 15.35,22.5 15.7,21.2 16.04,20.66 15.96,19.34 16.57,18.63 16.86,16.89 16.8,16.4 17.3,15.75 17.74,13.36 18.01,14.14 18.1,12.5 18.39,13.02 18.71,14.53 18.51,17.05 18.9,16.9 19.2,17.2 19.59,16.34 19.53,15.12 19.84,14.66 20.17,13.57 20.33,12.71 20.5,11.7 20.78,10.81 20.7,10.45 20.8,8.62 21.2,8.34 21.1,7.09 21.3,6.2 21.62,4.95 22.1,4.1 22.52,4.98 23.2,6.2 23.87,5.56 24.4,4.6 24.65,5.56 25.43,7.13 25.7,7 25.98,7.83 26.02,9.22 26.05,8.71 26.5,10.42 26.6,12.17 26.78,12.25 26.8,13.3 27.29,14.12 27.23,15.45 27.48,15.89 27.35,17.06 27.9,18 28.21,19.42 28.35,19.59 28.29,20.22 28.39,21.29 28.65,21.97 28.84,23.08 29.01,24.06 29.1,25.1 29.31,25.66 29.9,26.05 30.21,28.26 30.25,28.32 30.7,29.8 31.09,30.73 31.67,32.26 32.3,32.5 33.4,33.1 34.5,33.7" fill="#7c780a" stroke="#111" stroke-width="1.1" stroke-linejoin="round"/>
<polygon points="4.3,34 4.3,34 4.65,35.31 5,36.42 5.35,37.37 5.7,38.16 6.05,38.84 6.4,39.41 6.75,39.89 7.1,40.3 7.45,40.65 7.8,40.94 8.15,41.19 8.5,41.4 8.85,41.57 9.2,41.72 9.55,41.85 9.9,41.96 10.25,42.05 10.6,42.13 10.95,42.19 11.3,42.25 11.65,42.3 12,42.34 12.35,42.37 12.7,42.4 13.05,42.42 13.4,42.44 13.75,42.46 14.1,42.47 14.45,42.49 14.8,42.5 15.15,42.51 15.5,42.51 15.85,42.52 16.2,42.52 16.55,42.53 16.9,42.53 17.25,42.54 17.6,42.54 17.95,42.54 18.3,42.54 18.65,42.55 19,42.55 19.35,42.55 19.7,42.55 20.05,42.55 20.4,42.55 20.75,42.55 21.1,42.55 21.1,42.55 4.3,42.55" fill="#000" stroke="#000" stroke-width="0.6"/>
<polyline points="4.3,42.85 4.3,42.85 4.55,44.4 4.8,45.66 5.05,46.68 5.3,47.5 5.55,48.18 5.8,48.72 6.05,49.16 6.3,49.52 6.55,49.82 6.8,50.05 7.05,50.25 7.3,50.4 7.55,50.53 7.8,50.63 8.05,50.72 8.3,50.78 8.55,50.84 8.8,50.88 9.05,50.92 9.3,50.95 9.55,50.97 9.8,50.99 10.05,51.01 10.3,51.02 10.55,51.03 10.8,51.04 11.05,51.05 11.3,51.05 11.55,51.06 11.8,51.06 12.05,51.06 12.3,51.07 12.55,51.07 12.8,51.07 13.05,51.07 13.3,51.07 13.55,51.07 13.8,51.07 13.9,51.08" fill="none" stroke="#000" stroke-width="0.75"/>
<polyline points="4.3,51.38 4.3,51.38 4.55,53.37 4.8,54.88 5.05,56.03 5.3,56.89 5.55,57.55 5.8,58.05 6.05,58.42 6.3,58.71 6.55,58.93 6.8,59.09 7.05,59.21 7.3,59.31 7.55,59.38 7.8,59.43 8.05,59.47 8.3,59.5 8.55,59.53 8.8,59.54 9.05,59.56 9.3,59.57 9.55,59.58 9.8,59.58 10.05,59.59 10.3,59.59 10.55,59.59 10.8,59.59 11.05,59.6 11.3,59.6 11.5,59.6" fill="none" stroke="#000" stroke-width="0.75"/>
<line x1="0" y1="33.7" x2="41.9" y2="33.7" stroke="#333" stroke-width="0.9"/>
<line x1="0" y1="42.55" x2="41.9" y2="42.55" stroke="#666" stroke-width="1.1"/>
<line x1="0" y1="51.08" x2="41.9" y2="51.08" stroke="#666" stroke-width="1.1"/>
<line x1="4.3" y1="12.5" x2="4.3" y2="59.6" stroke="#000" stroke-width="1"/>
<rect x="0" y="0" width="41.9" height="59.6" fill="none" stroke="#000" stroke-width="1.15"/>
<path d="M1 59.6v2.4M1.9 59.6v2.4M2.7 59.6v2.4M3.4 59.6v2.4M4.4 59.6v3.2M6.96 59.6v2.5M8.46 59.6v2.5M9.52 59.6v2.5M10.34 59.6v2.5M11.01 59.6v2.5M11.58 59.6v2.5M12.08 59.6v2.5M12.51 59.6v2.5M12.9 59.6v3.2M15.46 59.6v2.5M16.96 59.6v2.5M18.02 59.6v2.5M18.84 59.6v2.5M19.51 59.6v2.5M20.08 59.6v2.5M20.58 59.6v2.5M21.01 59.6v2.5M21.4 59.6v3.2M23.96 59.6v2.5M25.46 59.6v2.5M26.52 59.6v2.5M27.34 59.6v2.5M28.01 59.6v2.5M28.58 59.6v2.5M29.08 59.6v2.5M29.51 59.6v2.5M29.9 59.6v3.2M32.46 59.6v2.5M33.96 59.6v2.5M35.02 59.6v2.5M35.84 59.6v2.5M36.51 59.6v2.5M37.08 59.6v2.5M37.58 59.6v2.5M38.01 59.6v2.5" stroke="#000" stroke-width="0.85" fill="none"/>
</g>
<g transform="translate(162.4,306.9)">
<rect x="0" y="0" width="41.9" height="60.3" fill="#fff"/>
<polygon points="4.4,34.3 4.48,32.38 4.42,32.84 4.35,32.23 4.5,30.9 4.29,30.04 4.46,29.76 4.56,28.28 4.29,26.45 4.38,26.23 4.35,24.8 4.38,24.34 4.38,22.19 4.35,22.37 4.2,21.96 4.63,20.01 4.49,19.45 4.51,18.71 4.25,17.81 4.38,17.68 4.55,15.82 4.48,15.37 4.27,13.32 4.4,12.9 4.63,14.47 4.82,15.6 4.77,15.63 4.82,18.02 5.28,17.25 5.1,18.8 5.78,19.67 6.1,20.8 6.21,20.93 6.57,22.77 6.89,23.87 7,24.5 7.5,26.2 8,24.5 7.89,23.81 8.4,23.28 8.4,21.76 8.5,20.8 8.79,18.74 8.91,19.3 9.16,17.97 9.5,16.9 10,16.4 11.07,16.33 11.5,14.9 12.5,15.4 12.92,14.5 13.5,13.9 14.02,12.48 14.13,12.27 14.4,11 14.41,10.19 14.71,8.68 14.76,7.79 15.13,7.29 14.61,6.43 15.11,5.71 15.2,4.5 15.21,5.68 15.31,6.45 15.69,6.67 15.75,7.62 15.85,10.04 15.9,10 16.07,10.69 16.43,11.25 16.64,13.02 16.9,13.9 17.9,14.4 18.31,14.25 18.9,12.9 19.9,13.9 20.08,15.35 20.11,15.83 20.23,16.31 20.46,17.74 20.66,20.11 20.84,19.98 20.9,20.8 21.03,21.7 20.93,22.68 21.5,23.41 21.5,23.99 21.65,25.78 21.95,27.68 21.9,27.7 22.04,29.07 22.09,29.62 22.26,30.25 22.38,30.61 22.4,33.43 22.8,33.6 23.5,34.3" fill="#f9f1b2" stroke="#111" stroke-width="1.1" stroke-linejoin="round"/>
<polygon points="4.3,34.6 5.1,34.6 5.6,35.62 6.1,36.44 6.6,37.2 7.1,37.92 7.6,38.62 8.1,39.29 8.6,39.95 9.1,40.59 9.6,41.22 10.1,41.84 10.6,42.45 11.1,43.05 4.3,43.05" fill="#3a380e" stroke="#000" stroke-width="0.6"/>
<polygon points="4.3,43.35 5.1,43.35 5.72,44.36 6.35,45.17 6.97,45.92 7.6,46.63 8.22,47.31 8.85,47.97 9.47,48.62 10.1,49.25 10.72,49.87 11.35,50.48 11.97,51.08 12.6,51.68 4.3,51.68" fill="#3a380e" stroke="#000" stroke-width="0.6"/>
<polygon points="4.3,51.98 4.3,51.98 4.67,53.25 5.03,54.34 5.4,55.25 5.77,56.03 6.13,56.68 6.5,57.24 6.87,57.71 7.23,58.11 7.6,58.44 7.97,58.73 8.33,58.97 8.7,59.17 9.07,59.35 9.43,59.49 9.8,59.62 10.17,59.72 10.53,59.81 10.9,59.89 11.27,59.95 11.63,60 12,60.05 12.37,60.09 12.73,60.12 13.1,60.15 13.47,60.17 13.83,60.19 14.2,60.21 14.57,60.22 14.93,60.23 15.3,60.24 15.67,60.25 16.03,60.26 16.4,60.27 16.77,60.27 17.13,60.28 17.5,60.3 4.3,60.3" fill="#f4f2e4" stroke="#000" stroke-width="0.8"/>
<polygon points="4.3,51.98 5.5,60.3 4.3,60.3" fill="#000"/>
<line x1="0" y1="34.3" x2="41.9" y2="34.3" stroke="#333" stroke-width="0.9"/>
<line x1="0" y1="43.05" x2="41.9" y2="43.05" stroke="#555" stroke-width="1.1"/>
<line x1="0" y1="51.68" x2="41.9" y2="51.68" stroke="#555" stroke-width="1.1"/>
<line x1="4.3" y1="12.9" x2="4.3" y2="60.3" stroke="#000" stroke-width="1"/>
<rect x="0" y="0" width="41.9" height="60.3" fill="none" stroke="#000" stroke-width="1.15"/>
<path d="M1 60.3v2.4M1.9 60.3v2.4M2.7 60.3v2.4M3.4 60.3v2.4M4.4 60.3v3.2M6.96 60.3v2.5M8.46 60.3v2.5M9.52 60.3v2.5M10.34 60.3v2.5M11.01 60.3v2.5M11.58 60.3v2.5M12.08 60.3v2.5M12.51 60.3v2.5M12.9 60.3v3.2M15.46 60.3v2.5M16.96 60.3v2.5M18.02 60.3v2.5M18.84 60.3v2.5M19.51 60.3v2.5M20.08 60.3v2.5M20.58 60.3v2.5M21.01 60.3v2.5M21.4 60.3v3.2M23.96 60.3v2.5M25.46 60.3v2.5M26.52 60.3v2.5M27.34 60.3v2.5M28.01 60.3v2.5M28.58 60.3v2.5M29.08 60.3v2.5M29.51 60.3v2.5M29.9 60.3v3.2M32.46 60.3v2.5M33.96 60.3v2.5M35.02 60.3v2.5M35.84 60.3v2.5M36.51 60.3v2.5M37.08 60.3v2.5M37.58 60.3v2.5M38.01 60.3v2.5" stroke="#000" stroke-width="0.85" fill="none"/>
</g>
<g transform="translate(213.7,306.9)">
<rect x="0" y="0" width="41.9" height="60.3" fill="#fff"/>
<polygon points="4.3,34.3 4.65,33.01 5.14,32.81 5.02,30.55 5.4,30.2 5.57,28.8 5.64,28.24 5.84,27.52 6.14,26.73 6.5,25.5 6.83,24.72 6.93,23.57 7.11,22.29 7.64,22.56 7.8,20.8 8.16,20.82 8.31,19.07 8.46,17.8 9.16,17.49 9.3,16 9.75,15.87 9.34,13.64 9.99,13.66 10.03,11.83 10.67,11.85 10.6,10.5 10.65,9.84 11.09,9.15 11.19,7.18 11.23,6.4 11.4,6.27 11.61,4.32 11.7,4.2 11.99,4.38 11.99,5.04 12.14,6.7 12.48,7.99 12.69,9.75 12.8,9.7 12.96,11.36 13.61,12.4 13.8,12.9 14.3,12.63 14.14,10.43 14.53,9.5 14.9,8.9 15.6,7.4 15.61,9.12 16.41,9.38 16.35,10.25 16.9,11.3 18,12.1 18.2,12.65 18.2,14.52 18.56,15.33 18.77,15.98 18.87,16.65 18.9,17.43 18.8,19.2 18.72,20.19 19.21,21.24 19.31,22.47 19.4,23.06 19.81,24.19 19.89,25.38 20.16,26.21 20.1,27.1 20.67,29.37 20.4,28.46 20.7,29.54 20.92,32.14 21.2,32.1 21.93,32.69 22.54,32.16 23.5,33.7 24.5,34.3" fill="#f0e436" stroke="#111" stroke-width="1.1" stroke-linejoin="round"/>
<polygon points="4.5,34.6 5.3,34.6 5.72,35.62 6.13,36.44 6.55,37.2 6.97,37.92 7.38,38.62 7.8,39.29 8.22,39.95 8.63,40.59 9.05,41.22 9.47,41.84 9.88,42.45 10.3,43.05 4.5,43.05" fill="#2a280a" stroke="#000" stroke-width="0.6"/>
<polygon points="4.5,43.35 5.3,43.35 5.88,44.36 6.47,45.17 7.05,45.92 7.63,46.63 8.22,47.31 8.8,47.97 9.38,48.62 9.97,49.25 10.55,49.87 11.13,50.48 11.72,51.08 12.3,51.68 4.5,51.68" fill="#2a280a" stroke="#000" stroke-width="0.6"/>
<polygon points="4.5,51.98 5.3,51.98 5.76,52.98 6.22,53.79 6.67,54.54 7.13,55.25 7.59,55.93 8.05,56.59 8.51,57.24 8.97,57.87 9.43,58.49 9.88,59.11 10.34,59.71 10.8,60.3 4.5,60.3" fill="#111" stroke="#000" stroke-width="0.6"/>
<line x1="0" y1="34.3" x2="41.9" y2="34.3" stroke="#333" stroke-width="0.9"/>
<line x1="0" y1="43.05" x2="41.9" y2="43.05" stroke="#555" stroke-width="1.1"/>
<line x1="0" y1="51.68" x2="41.9" y2="51.68" stroke="#555" stroke-width="1.1"/>
<line x1="4.5" y1="12.9" x2="4.5" y2="60.3" stroke="#000" stroke-width="1"/>
<rect x="0" y="0" width="41.9" height="60.3" fill="none" stroke="#000" stroke-width="1.15"/>
<path d="M1 60.3v2.4M1.9 60.3v2.4M2.7 60.3v2.4M3.4 60.3v2.4M4.4 60.3v3.2M6.96 60.3v2.5M8.46 60.3v2.5M9.52 60.3v2.5M10.34 60.3v2.5M11.01 60.3v2.5M11.58 60.3v2.5M12.08 60.3v2.5M12.51 60.3v2.5M12.9 60.3v3.2M15.46 60.3v2.5M16.96 60.3v2.5M18.02 60.3v2.5M18.84 60.3v2.5M19.51 60.3v2.5M20.08 60.3v2.5M20.58 60.3v2.5M21.01 60.3v2.5M21.4 60.3v3.2M23.96 60.3v2.5M25.46 60.3v2.5M26.52 60.3v2.5M27.34 60.3v2.5M28.01 60.3v2.5M28.58 60.3v2.5M29.08 60.3v2.5M29.51 60.3v2.5M29.9 60.3v3.2M32.46 60.3v2.5M33.96 60.3v2.5M35.02 60.3v2.5M35.84 60.3v2.5M36.51 60.3v2.5M37.08 60.3v2.5M37.58 60.3v2.5M38.01 60.3v2.5" stroke="#000" stroke-width="0.85" fill="none"/>
</g>
<g transform="translate(265.1,306.9)">
<rect x="0" y="0" width="41.9" height="60.3" fill="#fff"/>
<polygon points="4.2,34.3 4.31,33.28 4.57,32.34 4.38,31.39 4.69,30.67 4.88,29.44 5,28.6 5.33,27.82 5.33,27.13 5.32,25.53 5.83,25.12 5.77,24.12 5.72,23.47 6.1,22.3 6.43,21.2 6.58,20.86 6.92,19.67 6.97,18.93 7.4,17.6 7.67,16.85 8.31,14.22 8.9,14.5 9.36,13.04 9.37,12.83 9.72,11.92 10.2,10.5 10.43,9.48 10.87,8.61 11.08,7.89 11.3,6.6 11.92,5.72 12.4,4.2 12.54,4.86 12.97,5.92 13.5,7 13.4,8.1 13.79,8.49 14.5,9.7 15.08,11.15 15.36,12.09 15.6,12.9 15.83,14.55 16,14.07 16.1,16.2 16.6,16.68 16.8,17.6 17.09,18.34 17.52,19.69 17.27,20.61 17.42,20.92 17.64,22.58 18.03,22.96 18.1,23.9 18.28,24.48 18.38,24.86 18.82,26.44 18.98,28.26 19.2,28.6 19.63,29.73 20.13,31.14 20.25,31.74 20.8,32.6 21.61,33.6 22.3,33.7 23,34.3" fill="#f0e436" stroke="#111" stroke-width="1.1" stroke-linejoin="round"/>
<polygon points="4.3,34.6 5.1,34.6 5.52,35.62 5.93,36.44 6.35,37.2 6.77,37.92 7.18,38.62 7.6,39.29 8.02,39.95 8.43,40.59 8.85,41.22 9.27,41.84 9.68,42.45 10.1,43.05 4.3,43.05" fill="#111" stroke="#000" stroke-width="0.6"/>
<polygon points="4.3,43.35 5.1,43.35 5.6,44.36 6.1,45.17 6.6,45.92 7.1,46.63 7.6,47.31 8.1,47.97 8.6,48.62 9.1,49.25 9.6,49.87 10.1,50.48 10.6,51.08 11.1,51.68 4.3,51.68" fill="#2a280a" stroke="#000" stroke-width="0.6"/>
<polygon points="4.3,51.98 5.1,51.98 5.56,52.98 6.02,53.79 6.47,54.54 6.93,55.25 7.39,55.93 7.85,56.59 8.31,57.24 8.77,57.87 9.22,58.49 9.68,59.11 10.14,59.71 10.6,60.3 4.3,60.3" fill="#111" stroke="#000" stroke-width="0.6"/>
<line x1="0" y1="34.3" x2="41.9" y2="34.3" stroke="#333" stroke-width="0.9"/>
<line x1="0" y1="43.05" x2="41.9" y2="43.05" stroke="#555" stroke-width="1.1"/>
<line x1="0" y1="51.68" x2="41.9" y2="51.68" stroke="#555" stroke-width="1.1"/>
<line x1="4.3" y1="12.9" x2="4.3" y2="60.3" stroke="#000" stroke-width="1"/>
<rect x="0" y="0" width="41.9" height="60.3" fill="none" stroke="#000" stroke-width="1.15"/>
<path d="M1 60.3v2.4M1.9 60.3v2.4M2.7 60.3v2.4M3.4 60.3v2.4M4.4 60.3v3.2M6.96 60.3v2.5M8.46 60.3v2.5M9.52 60.3v2.5M10.34 60.3v2.5M11.01 60.3v2.5M11.58 60.3v2.5M12.08 60.3v2.5M12.51 60.3v2.5M12.9 60.3v3.2M15.46 60.3v2.5M16.96 60.3v2.5M18.02 60.3v2.5M18.84 60.3v2.5M19.51 60.3v2.5M20.08 60.3v2.5M20.58 60.3v2.5M21.01 60.3v2.5M21.4 60.3v3.2M23.96 60.3v2.5M25.46 60.3v2.5M26.52 60.3v2.5M27.34 60.3v2.5M28.01 60.3v2.5M28.58 60.3v2.5M29.08 60.3v2.5M29.51 60.3v2.5M29.9 60.3v3.2M32.46 60.3v2.5M33.96 60.3v2.5M35.02 60.3v2.5M35.84 60.3v2.5M36.51 60.3v2.5M37.08 60.3v2.5M37.58 60.3v2.5M38.01 60.3v2.5" stroke="#000" stroke-width="0.85" fill="none"/>
</g>
<g transform="translate(316.4,306.9)">
<rect x="0" y="0" width="41.9" height="60.3" fill="#fff"/>
<polygon points="3.6,34.3 3.7,34.15 3.81,32.84 3.49,31.18 3.81,30.14 3.82,30.33 4.05,28.22 3.81,27.2 3.96,26.82 3.74,26.75 4.05,25.14 4.03,23.82 3.88,23.59 4.11,21.95 4.19,21.59 4.2,20.8 4.4,20.92 4.22,19.05 4.27,18.3 4.63,17.63 4.34,14.86 4.51,14.78 4.45,13.26 4.7,12.9 4.7,14.2 4.82,14.02 5.19,16.2 4.97,16.69 5.02,17.2 5.37,18.81 5.22,20.1 5.45,20.86 5.05,21.59 5.5,22.3 5.86,23.34 6.26,25.1 6.7,25.5 7.9,24.7 8.49,23.73 9,22.3 9.23,21.96 9.45,20.86 9.45,19.85 9.46,18.27 9.57,18.51 9.66,16.7 9.34,15.33 9.9,14.5 9.86,14.37 10.38,12.11 10.32,10.36 10.17,10.27 10.47,9.87 10.66,8.52 11.2,7.91 11,6.6 11.53,4.77 11.8,4.2 11.86,4.87 11.86,5.28 12.27,7.03 12.34,8.38 12.16,9.64 12.44,11.01 12.6,11.3 12.71,12.63 12.97,13.41 13.31,13.14 13.31,15.34 13.3,16.35 13.37,16.56 13.54,17.11 13.7,19.2 13.6,20.89 14.02,20.66 14.44,22.48 14.46,22.83 14.56,23.62 14.74,24.36 15,25.5 15.41,26.46 15.89,27.25 16.2,28.6 16.68,29.46 16.89,29.67 17.44,31.27 17.8,32.1 18.83,32.81 19.4,33.7 20,34.3" fill="#e6e432" stroke="#111" stroke-width="1.1" stroke-linejoin="round"/>
<polygon points="4.3,34.6 5.1,34.6 5.52,35.62 5.93,36.44 6.35,37.2 6.77,37.92 7.18,38.62 7.6,39.29 8.02,39.95 8.43,40.59 8.85,41.22 9.27,41.84 9.68,42.45 10.1,43.05 4.3,43.05" fill="#000" stroke="#000" stroke-width="0.6"/>
<polygon points="4.3,43.35 5.1,43.35 5.6,44.36 6.1,45.17 6.6,45.92 7.1,46.63 7.6,47.31 8.1,47.97 8.6,48.62 9.1,49.25 9.6,49.87 10.1,50.48 10.6,51.08 11.1,51.68 4.3,51.68" fill="#111" stroke="#000" stroke-width="0.6"/>
<polygon points="4.3,51.98 5.1,51.98 5.52,52.98 5.93,53.79 6.35,54.54 6.77,55.25 7.18,55.93 7.6,56.59 8.02,57.24 8.43,57.87 8.85,58.49 9.27,59.11 9.68,59.71 10.1,60.3 4.3,60.3" fill="#111" stroke="#000" stroke-width="0.6"/>
<line x1="0" y1="34.3" x2="41.9" y2="34.3" stroke="#333" stroke-width="0.9"/>
<line x1="0" y1="43.05" x2="41.9" y2="43.05" stroke="#555" stroke-width="1.1"/>
<line x1="0" y1="51.68" x2="41.9" y2="51.68" stroke="#555" stroke-width="1.1"/>
<line x1="4.3" y1="12.9" x2="4.3" y2="60.3" stroke="#000" stroke-width="1"/>
<rect x="0" y="0" width="41.9" height="60.3" fill="none" stroke="#000" stroke-width="1.15"/>
<path d="M1 60.3v2.4M1.9 60.3v2.4M2.7 60.3v2.4M3.4 60.3v2.4M4.4 60.3v3.2M6.96 60.3v2.5M8.46 60.3v2.5M9.52 60.3v2.5M10.34 60.3v2.5M11.01 60.3v2.5M11.58 60.3v2.5M12.08 60.3v2.5M12.51 60.3v2.5M12.9 60.3v3.2M15.46 60.3v2.5M16.96 60.3v2.5M18.02 60.3v2.5M18.84 60.3v2.5M19.51 60.3v2.5M20.08 60.3v2.5M20.58 60.3v2.5M21.01 60.3v2.5M21.4 60.3v3.2M23.96 60.3v2.5M25.46 60.3v2.5M26.52 60.3v2.5M27.34 60.3v2.5M28.01 60.3v2.5M28.58 60.3v2.5M29.08 60.3v2.5M29.51 60.3v2.5M29.9 60.3v3.2M32.46 60.3v2.5M33.96 60.3v2.5M35.02 60.3v2.5M35.84 60.3v2.5M36.51 60.3v2.5M37.08 60.3v2.5M37.58 60.3v2.5M38.01 60.3v2.5" stroke="#000" stroke-width="0.85" fill="none"/>
</g>
<g transform="translate(367.7,306.9)">
<rect x="0" y="0" width="41.9" height="60.3" fill="#fff"/>
<polygon points="4.4,34.3 4.6,32.78 4.53,32.5 4.74,31.32 4.81,30.35 5.05,29.63 4.98,29.07 5.21,26.93 5.2,26.3 6.8,25.5 8.3,24.7 8.83,23.74 9.6,23.1 10,22.98 10.1,20.97 10.45,20.38 10.7,19.2 10.84,18.42 10.73,16.24 11.2,16.64 11.38,14.04 11.59,14.27 11.69,13.12 11.8,12.1 11.81,10.74 12.34,10.09 12.34,9.09 12.73,8.09 13.1,7.4 13.31,6.84 13.8,5.07 14.3,4.7 15.41,4.91 16.2,5 16.63,6.01 17.5,6.6 17.95,7.02 17.9,8.56 18.25,9.62 18.4,11.19 18.6,11.3 18.61,11.82 18.91,13.57 19.14,14.08 19.47,14.39 19.35,15.66 19.56,16.56 19.7,17.6 19.81,18.3 20.22,19.68 20.01,20.62 20.56,20.95 20.53,22.03 20.9,22.81 20.77,23.58 21,24.7 20.96,26.12 21.78,26.3 21.65,27.44 21.78,27.37 21.89,28.77 22.2,30.2 22.74,30.86 23.41,32.18 23.8,33.4 24.65,33.85 25.5,34.3" fill="#fbf8d4" stroke="#111" stroke-width="1.1" stroke-linejoin="round"/>
<polygon points="4.4,34.6 5.2,34.6 5.62,35.62 6.03,36.44 6.45,37.2 6.87,37.92 7.28,38.62 7.7,39.29 8.12,39.95 8.53,40.59 8.95,41.22 9.37,41.84 9.78,42.45 10.2,43.05 4.4,43.05" fill="#000" stroke="#000" stroke-width="0.6"/>
<polygon points="4.4,43.35 5.2,43.35 5.66,44.36 6.12,45.17 6.58,45.92 7.03,46.63 7.49,47.31 7.95,47.97 8.41,48.62 8.87,49.25 9.32,49.87 9.78,50.48 10.24,51.08 10.7,51.68 4.4,51.68" fill="#000" stroke="#000" stroke-width="0.6"/>
<polyline points="4.4,51.98 4.4,51.98 4.65,53.34 4.9,54.48 5.15,55.43 5.4,56.23 5.65,56.89 5.9,57.45 6.15,57.92 6.4,58.31 6.65,58.63 6.9,58.9 7.15,59.13 7.4,59.32 7.65,59.48 7.9,59.62 8.15,59.73 8.4,59.82 8.65,59.9 8.9,59.97 9.15,60.02 9.4,60.07 9.65,60.1 9.9,60.14 10.15,60.16 10.4,60.19 10.65,60.2 10.9,60.22 11.15,60.23 11.4,60.24 11.65,60.25 11.9,60.26 12.15,60.27 12.4,60.27 12.65,60.28 12.9,60.28 13.15,60.28 13.4,60.29 13.65,60.29 13.9,60.29 14.15,60.29 14.4,60.29 14.65,60.29 14.9,60.3 15.15,60.3 15.4,60.3 15.6,60.3" fill="none" stroke="#000" stroke-width="0.75"/>
<line x1="0" y1="34.3" x2="41.9" y2="34.3" stroke="#333" stroke-width="0.9"/>
<line x1="0" y1="43.05" x2="41.9" y2="43.05" stroke="#555" stroke-width="1.1"/>
<line x1="0" y1="51.68" x2="41.9" y2="51.68" stroke="#555" stroke-width="1.1"/>
<line x1="4.4" y1="12.9" x2="4.4" y2="60.3" stroke="#000" stroke-width="1"/>
<rect x="0" y="0" width="41.9" height="60.3" fill="none" stroke="#000" stroke-width="1.15"/>
<path d="M1 60.3v2.4M1.9 60.3v2.4M2.7 60.3v2.4M3.4 60.3v2.4M4.4 60.3v3.2M6.96 60.3v2.5M8.46 60.3v2.5M9.52 60.3v2.5M10.34 60.3v2.5M11.01 60.3v2.5M11.58 60.3v2.5M12.08 60.3v2.5M12.51 60.3v2.5M12.9 60.3v3.2M15.46 60.3v2.5M16.96 60.3v2.5M18.02 60.3v2.5M18.84 60.3v2.5M19.51 60.3v2.5M20.08 60.3v2.5M20.58 60.3v2.5M21.01 60.3v2.5M21.4 60.3v3.2M23.96 60.3v2.5M25.46 60.3v2.5M26.52 60.3v2.5M27.34 60.3v2.5M28.01 60.3v2.5M28.58 60.3v2.5M29.08 60.3v2.5M29.51 60.3v2.5M29.9 60.3v3.2M32.46 60.3v2.5M33.96 60.3v2.5M35.02 60.3v2.5M35.84 60.3v2.5M36.51 60.3v2.5M37.08 60.3v2.5M37.58 60.3v2.5M38.01 60.3v2.5" stroke="#000" stroke-width="0.85" fill="none"/>
</g>
<g transform="translate(419.1,306.9)">
<rect x="0" y="0" width="41.9" height="60.3" fill="#fff"/>
<polygon points="4.2,34.3 4.38,33.31 4.29,32.87 4.24,31.63 4.31,30.6 4.47,29.43 4.3,29.51 4.46,28.5 4.17,26.97 4.09,26.55 4.36,25.64 3.98,23.92 4.41,23.53 3.94,22.64 4.36,21.71 4.21,20.62 4.55,18.93 4.13,18.77 4.18,18.43 4.17,17.24 4.35,15.91 4.21,16.07 4.57,13.82 4.43,13.91 4.33,12.11 4.57,10.68 4.57,10.93 4.52,10.09 4.32,9.27 4.52,8.82 4.32,6.61 4.61,5.92 4.68,5.4 4.5,4.2 4.65,6.25 4.7,6.57 4.55,6.5 4.81,7.74 5.04,8.1 4.59,9.28 4.62,10.25 4.83,11.53 4.79,13.32 5,13.84 4.61,14.42 4.99,15.34 5,16 6.1,16.8 7.4,16 8.9,16.8 10.5,17.6 11.16,18.14 11.68,20.4 12.1,20.8 12.47,21.58 13.05,22.62 13.7,23.1 14.07,24.41 14.78,24.84 15.2,26.3 15.43,27.07 16.35,28.97 16.8,29.4 17.14,30.69 18.01,31.25 18.4,32.1 19.13,33.16 20,33.7 21,34.3" fill="#878c1e" stroke="#111" stroke-width="1.1" stroke-linejoin="round"/>
<polygon points="4.3,34.6 5.1,34.6 5.6,35.62 6.1,36.44 6.6,37.2 7.1,37.92 7.6,38.62 8.1,39.29 8.6,39.95 9.1,40.59 9.6,41.22 10.1,41.84 10.6,42.45 11.1,43.05 4.3,43.05" fill="#000" stroke="#000" stroke-width="0.6"/>
<polygon points="4.3,43.35 4.3,43.35 4.63,44.63 4.97,45.71 5.3,46.63 5.63,47.4 5.97,48.06 6.3,48.62 6.63,49.09 6.97,49.48 7.3,49.82 7.63,50.11 7.97,50.35 8.3,50.55 8.63,50.72 8.97,50.87 9.3,50.99 9.63,51.1 9.97,51.19 10.3,51.26 10.63,51.33 10.97,51.38 11.3,51.43 11.63,51.46 11.97,51.5 12.3,51.52 12.63,51.55 12.97,51.57 13.3,51.58 13.63,51.6 13.97,51.61 14.3,51.62 14.63,51.63 14.97,51.64 15.3,51.64 15.63,51.65 15.97,51.65 16.3,51.68 4.3,51.68" fill="#f4f2e4" stroke="#000" stroke-width="0.8"/>
<polygon points="4.3,43.35 5.5,51.68 4.3,51.68" fill="#000"/>
<polygon points="4.3,51.98 4.3,51.98 4.7,53.25 5.1,54.34 5.5,55.25 5.9,56.03 6.3,56.68 6.7,57.24 7.1,57.71 7.5,58.11 7.9,58.44 8.3,58.73 8.7,58.97 9.1,59.17 9.5,59.35 9.9,59.49 10.3,59.62 10.7,59.72 11.1,59.81 11.5,59.89 11.9,59.95 12.3,60 12.7,60.05 13.1,60.09 13.5,60.12 13.9,60.15 14.3,60.17 14.7,60.19 15.1,60.21 15.5,60.22 15.9,60.23 16.3,60.24 16.7,60.25 17.1,60.26 17.5,60.27 17.9,60.27 18.3,60.28 18.7,60.3 4.3,60.3" fill="#f4f2e4" stroke="#000" stroke-width="0.8"/>
<polygon points="4.3,51.98 5.5,60.3 4.3,60.3" fill="#000"/>
<line x1="0" y1="34.3" x2="41.9" y2="34.3" stroke="#333" stroke-width="0.9"/>
<line x1="0" y1="43.05" x2="41.9" y2="43.05" stroke="#555" stroke-width="1.1"/>
<line x1="0" y1="51.68" x2="41.9" y2="51.68" stroke="#555" stroke-width="1.1"/>
<line x1="4.3" y1="4.2" x2="4.3" y2="60.3" stroke="#000" stroke-width="1"/>
<rect x="0" y="0" width="41.9" height="60.3" fill="none" stroke="#000" stroke-width="1.15"/>
<path d="M1 60.3v2.4M1.9 60.3v2.4M2.7 60.3v2.4M3.4 60.3v2.4M4.4 60.3v3.2M6.96 60.3v2.5M8.46 60.3v2.5M9.52 60.3v2.5M10.34 60.3v2.5M11.01 60.3v2.5M11.58 60.3v2.5M12.08 60.3v2.5M12.51 60.3v2.5M12.9 60.3v3.2M15.46 60.3v2.5M16.96 60.3v2.5M18.02 60.3v2.5M18.84 60.3v2.5M19.51 60.3v2.5M20.08 60.3v2.5M20.58 60.3v2.5M21.01 60.3v2.5M21.4 60.3v3.2M23.96 60.3v2.5M25.46 60.3v2.5M26.52 60.3v2.5M27.34 60.3v2.5M28.01 60.3v2.5M28.58 60.3v2.5M29.08 60.3v2.5M29.51 60.3v2.5M29.9 60.3v3.2M32.46 60.3v2.5M33.96 60.3v2.5M35.02 60.3v2.5M35.84 60.3v2.5M36.51 60.3v2.5M37.08 60.3v2.5M37.58 60.3v2.5M38.01 60.3v2.5" stroke="#000" stroke-width="0.85" fill="none"/>
</g>
<g transform="translate(470.4,306.9)">
<rect x="0" y="0" width="41.9" height="60.3" fill="#fff"/>
<polygon points="4.2,34.3 4.1,33.77 4.04,31.63 4.38,31.64 4.02,29.6 4.21,29.92 4.45,28.43 4.13,28.06 4.11,27.54 4.13,27.23 4.42,26.31 4.21,23.98 4.21,23.16 4.01,22.44 4.27,21.81 4.19,19.75 4.27,19.67 4.24,18.68 4.46,17.36 4.32,17.14 4.1,16.11 4.27,15.43 4.05,13.63 4.15,13.24 4.27,12.36 4.15,11.05 4.01,10.59 4.15,9.41 4.19,8.58 4.38,8.65 4.21,6.95 4.11,5.96 4.39,4.91 4.2,4.2 4.24,5.27 4.28,6.05 4.23,7.17 4.5,8.49 4.41,8.88 4.71,9.36 4.37,11.31 4.69,11.17 4.7,12.9 5.37,13.99 5.8,14.5 6.52,15.15 7.1,16 7.71,16.96 8.3,17.6 8.83,18.88 9.4,19.2 10.4,19.69 11,20.8 11.22,21.4 12.04,22.48 12.6,23.1 13.15,24.11 13.58,24.88 14.12,26.16 14.2,27.1 14.98,27.63 15.1,29.82 15.7,30.2 16.28,30.98 16.76,32.93 17.3,32.6 18.5,32.97 19.7,33.7 21,34.3" fill="#5f5f19" stroke="#111" stroke-width="1.1" stroke-linejoin="round"/>
<polygon points="4.3,34.6 5.1,34.6 5.56,35.62 6.02,36.44 6.47,37.2 6.93,37.92 7.39,38.62 7.85,39.29 8.31,39.95 8.77,40.59 9.22,41.22 9.68,41.84 10.14,42.45 10.6,43.05 4.3,43.05" fill="#3a380e" stroke="#000" stroke-width="0.6"/>
<polygon points="4.3,43.35 5.1,43.35 5.64,44.36 6.18,45.17 6.72,45.92 7.27,46.63 7.81,47.31 8.35,47.97 8.89,48.62 9.43,49.25 9.97,49.87 10.52,50.48 11.06,51.08 11.6,51.68 4.3,51.68" fill="#3a380e" stroke="#000" stroke-width="0.6"/>
<polygon points="4.3,51.98 4.3,51.98 4.63,53.25 4.97,54.34 5.3,55.25 5.63,56.03 5.97,56.68 6.3,57.24 6.63,57.71 6.97,58.11 7.3,58.44 7.63,58.73 7.97,58.97 8.3,59.17 8.63,59.35 8.97,59.49 9.3,59.62 9.63,59.72 9.97,59.81 10.3,59.89 10.63,59.95 10.97,60 11.3,60.05 11.63,60.09 11.97,60.12 12.3,60.15 12.63,60.17 12.97,60.19 13.3,60.21 13.63,60.22 13.97,60.23 14.3,60.24 14.63,60.25 14.97,60.26 15.3,60.27 15.63,60.27 15.97,60.28 16.3,60.3 4.3,60.3" fill="#f4f2e4" stroke="#000" stroke-width="0.8"/>
<polygon points="4.3,51.98 5.5,60.3 4.3,60.3" fill="#000"/>
<line x1="0" y1="34.3" x2="41.9" y2="34.3" stroke="#333" stroke-width="0.9"/>
<line x1="0" y1="43.05" x2="41.9" y2="43.05" stroke="#555" stroke-width="1.1"/>
<line x1="0" y1="51.68" x2="41.9" y2="51.68" stroke="#555" stroke-width="1.1"/>
<line x1="4.3" y1="4.2" x2="4.3" y2="60.3" stroke="#000" stroke-width="1"/>
<rect x="0" y="0" width="41.9" height="60.3" fill="none" stroke="#000" stroke-width="1.15"/>
<path d="M1 60.3v2.4M1.9 60.3v2.4M2.7 60.3v2.4M3.4 60.3v2.4M4.4 60.3v3.2M6.96 60.3v2.5M8.46 60.3v2.5M9.52 60.3v2.5M10.34 60.3v2.5M11.01 60.3v2.5M11.58 60.3v2.5M12.08 60.3v2.5M12.51 60.3v2.5M12.9 60.3v3.2M15.46 60.3v2.5M16.96 60.3v2.5M18.02 60.3v2.5M18.84 60.3v2.5M19.51 60.3v2.5M20.08 60.3v2.5M20.58 60.3v2.5M21.01 60.3v2.5M21.4 60.3v3.2M23.96 60.3v2.5M25.46 60.3v2.5M26.52 60.3v2.5M27.34 60.3v2.5M28.01 60.3v2.5M28.58 60.3v2.5M29.08 60.3v2.5M29.51 60.3v2.5M29.9 60.3v3.2M32.46 60.3v2.5M33.96 60.3v2.5M35.02 60.3v2.5M35.84 60.3v2.5M36.51 60.3v2.5M37.08 60.3v2.5M37.58 60.3v2.5M38.01 60.3v2.5" stroke="#000" stroke-width="0.85" fill="none"/>
</g>
<defs><linearGradient id="lg" x1="0" x2="1" y1="0" y2="0"><stop offset="0" stop-color="#1a1800"/><stop offset="0.18" stop-color="#6a6612"/><stop offset="0.45" stop-color="#eee430"/><stop offset="0.7" stop-color="#f6f060"/><stop offset="1" stop-color="#fbf8c8"/></linearGradient></defs>
<rect x="319.2" y="378.3" width="27.2" height="5.2" fill="url(#lg)" stroke="#222" stroke-width="0.6"/>
<path d="M319.2 383.5H346.6M319.4 383.3V386.8M346.4 383.3V386.8" stroke="#000" stroke-width="0.9" fill="none"/>
<text x="317.6" y="396.5" font-size="7.2" fill="#2a2a2a" stroke="#2a2a2a" stroke-width="0.22" font-weight="normal" text-anchor="start">0</text>
<path d="M325 394.2H340" stroke="#000" stroke-width="1"/>
<polygon points="339.5,391.8 344,394.2 339.5,396.6" fill="#000"/>
<text x="344.6" y="396.5" font-size="7.6" fill="#2a2a2a" stroke="#2a2a2a" stroke-width="0.22" font-weight="normal" text-anchor="start" textLength="16.9" lengthAdjust="spacingAndGlyphs">High</text>
<path d="M0 0.5H520M0.5 0V406M0 405.5H520" stroke="#000" stroke-width="1" fill="none"/>
<rect x="518" y="0" width="2" height="406" fill="#000"/></svg></body></html>
